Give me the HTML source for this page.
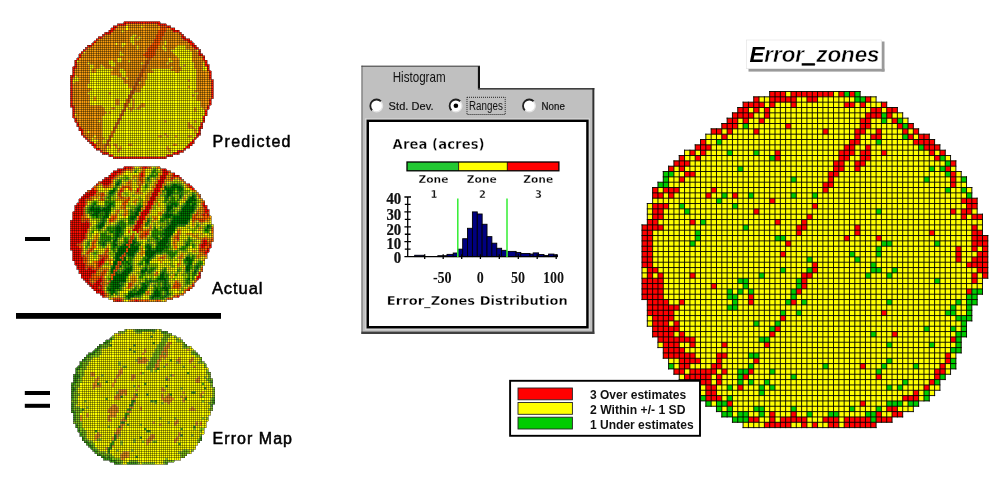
<!DOCTYPE html>
<html><head><meta charset="utf-8"><title>Error zones</title>
<style>html,body{margin:0;padding:0;background:#fff}body{width:1002px;height:487px;position:relative;overflow:hidden}</style></head>
<body>
<svg width="1002" height="487" viewBox="0 0 1002 487" style="position:absolute;left:0;top:0;display:block">
<rect width="1002" height="487" fill="#fff"/>
<defs><filter id="sb" x="-2%" y="-2%" width="104%" height="104%"><feGaussianBlur stdDeviation="0.55"/></filter></defs>
<g filter="url(#sb)">
<path d="M125.89 25.79H128.09V28H125.89ZM140.83 25.79H143.03V28H140.83ZM125.89 27.94H128.09V30.14H125.89ZM121.62 30.08H123.82V32.29H121.62ZM132.3 34.37H136.62V36.58H132.3ZM130.16 36.52H134.49V38.72H130.16ZM138.7 36.52H140.89V38.72H138.7ZM130.16 38.66H134.49V40.87H130.16ZM136.56 38.66H138.76V40.87H136.56ZM130.16 40.81H134.49V43.01H130.16ZM164.31 40.81H166.5V43.01H164.31ZM115.22 42.95H117.42V45.16H115.22ZM121.62 42.95H125.95V45.16H121.62ZM132.3 42.95H134.49V45.16H132.3ZM164.31 42.95H166.5V45.16H164.31ZM121.62 45.1H123.82V47.3H121.62ZM136.56 45.1H138.76V47.3H136.56ZM162.18 45.1H164.37V47.3H162.18ZM177.12 45.1H185.71V47.3H177.12ZM136.56 47.24H138.76V49.45H136.56ZM162.18 47.24H166.5V49.45H162.18ZM174.98 47.24H185.71V49.45H174.98ZM164.31 49.39H166.5V51.59H164.31ZM170.71 49.39H189.98V51.59H170.71ZM196.33 49.39H198.52V51.59H196.33ZM83.21 51.53H85.4V53.74H83.21ZM119.49 51.53H121.68V53.74H119.49ZM172.85 51.53H192.12V53.74H172.85ZM119.49 53.68H123.82V55.89H119.49ZM174.98 53.68H192.12V55.89H174.98ZM177.12 55.83H192.12V58.03H177.12ZM117.36 57.97H121.68V60.18H117.36ZM168.58 57.97H170.77V60.18H168.58ZM179.25 57.97H192.12V60.18H179.25ZM76.8 60.12H79V62.32H76.8ZM108.82 60.12H113.15V62.32H108.82ZM117.36 60.12H121.68V62.32H117.36ZM128.03 60.12H130.22V62.32H128.03ZM168.58 60.12H172.91V62.32H168.58ZM179.25 60.12H192.12V62.32H179.25ZM87.47 62.26H89.67V64.47H87.47ZM108.82 62.26H115.28V64.47H108.82ZM140.83 62.26H143.03V64.47H140.83ZM166.44 62.26H168.64V64.47H166.44ZM179.25 62.26H194.25V64.47H179.25ZM202.73 62.26H204.92V64.47H202.73ZM89.61 64.41H93.94V66.61H89.61ZM100.28 64.41H102.47V66.61H100.28ZM110.95 64.41H115.28V66.61H110.95ZM179.25 64.41H183.58V66.61H179.25ZM185.65 64.41H194.25V66.61H185.65ZM202.73 64.41H204.92V66.61H202.73ZM89.61 66.55H93.94V68.76H89.61ZM100.28 66.55H104.61V68.76H100.28ZM170.71 66.55H172.91V68.76H170.71ZM181.39 66.55H194.25V68.76H181.39ZM202.73 66.55H207.06V68.76H202.73ZM89.61 68.7H91.8V70.9H89.61ZM96.01 68.7H113.15V70.9H96.01ZM119.49 68.7H123.82V70.9H119.49ZM151.5 68.7H170.77V70.9H151.5ZM181.39 68.7H196.39V70.9H181.39ZM202.73 68.7H207.06V70.9H202.73ZM89.61 70.84H91.8V73.05H89.61ZM96.01 70.84H111.01V73.05H96.01ZM119.49 70.84H125.95V73.05H119.49ZM153.64 70.84H175.04V73.05H153.64ZM179.25 70.84H196.39V73.05H179.25ZM89.61 72.99H111.01V75.19H89.61ZM121.62 72.99H125.95V75.19H121.62ZM147.24 72.99H196.39V75.19H147.24ZM74.67 75.13H76.86V77.34H74.67ZM89.61 75.13H117.42V77.34H89.61ZM121.62 75.13H125.95V77.34H121.62ZM147.24 75.13H196.39V77.34H147.24ZM74.67 77.28H79V79.48H74.67ZM89.61 77.28H121.68V79.48H89.61ZM125.89 77.28H128.09V79.48H125.89ZM147.24 77.28H196.39V79.48H147.24ZM72.53 79.42H79V81.63H72.53ZM89.61 79.42H123.82V81.63H89.61ZM145.1 79.42H187.85V81.63H145.1ZM189.92 79.42H196.39V81.63H189.92ZM72.53 81.57H74.73V83.77H72.53ZM89.61 81.57H123.82V83.77H89.61ZM138.7 81.57H140.89V83.77H138.7ZM145.1 81.57H196.39V83.77H145.1ZM87.47 83.71H128.09V85.92H87.47ZM145.1 83.71H196.39V85.92H145.1ZM87.47 85.86H128.09V88.06H87.47ZM142.97 85.86H187.85V88.06H142.97ZM189.92 85.86H196.39V88.06H189.92ZM91.74 88H132.36V90.21H91.74ZM140.83 88H196.39V90.21H140.83ZM89.61 90.15H130.22V92.36H89.61ZM140.83 90.15H194.25V92.36H140.83ZM87.47 92.3H108.88V94.5H87.47ZM110.95 92.3H130.22V94.5H110.95ZM134.43 92.3H198.52V94.5H134.43ZM89.61 94.44H128.09V96.65H89.61ZM132.3 94.44H192.12V96.65H132.3ZM194.19 94.44H196.39V96.65H194.19ZM89.61 96.59H93.94V98.79H89.61ZM96.01 96.59H128.09V98.79H96.01ZM132.3 96.59H196.39V98.79H132.3ZM89.61 98.73H93.94V100.94H89.61ZM96.01 98.73H115.28V100.94H96.01ZM119.49 98.73H125.95V100.94H119.49ZM130.16 98.73H132.36V100.94H130.16ZM134.43 98.73H196.39V100.94H134.43ZM89.61 100.88H115.28V103.08H89.61ZM119.49 100.88H125.95V103.08H119.49ZM130.16 100.88H132.36V103.08H130.16ZM134.43 100.88H200.65V103.08H134.43ZM89.61 103.02H115.28V105.23H89.61ZM119.49 103.02H123.82V105.23H119.49ZM128.03 103.02H132.36V105.23H128.03ZM134.43 103.02H140.89V105.23H134.43ZM145.1 103.02H200.65V105.23H145.1ZM102.41 105.17H123.82V107.37H102.41ZM128.03 105.17H132.36V107.37H128.03ZM134.43 105.17H138.76V107.37H134.43ZM145.1 105.17H200.65V107.37H145.1ZM104.55 107.31H111.01V109.52H104.55ZM115.22 107.31H123.82V109.52H115.22ZM125.89 107.31H128.09V109.52H125.89ZM134.43 107.31H136.62V109.52H134.43ZM140.83 107.31H194.25V109.52H140.83ZM196.33 107.31H202.79V109.52H196.33ZM104.55 109.46H121.68V111.66H104.55ZM125.89 109.46H130.22V111.66H125.89ZM132.3 109.46H194.25V111.66H132.3ZM196.33 109.46H204.92V111.66H196.33ZM106.68 111.6H108.88V113.81H106.68ZM110.95 111.6H121.68V113.81H110.95ZM123.76 111.6H204.92V113.81H123.76ZM74.67 113.75H76.86V115.95H74.67ZM104.55 113.75H119.55V115.95H104.55ZM123.76 113.75H204.92V115.95H123.76ZM102.41 115.89H119.55V118.1H102.41ZM121.62 115.89H202.79V118.1H121.62ZM102.41 118.04H117.42V120.24H102.41ZM121.62 118.04H202.79V120.24H121.62ZM98.15 120.18H100.34V122.39H98.15ZM102.41 120.18H117.42V122.39H102.41ZM119.49 120.18H164.37V122.39H119.49ZM166.44 120.18H194.25V122.39H166.44ZM196.33 120.18H202.79V122.39H196.33ZM102.41 122.33H115.28V124.54H102.41ZM119.49 122.33H187.85V124.54H119.49ZM189.92 122.33H200.65V124.54H189.92ZM102.41 124.48H115.28V126.68H102.41ZM117.36 124.48H187.85V126.68H117.36ZM192.06 124.48H200.65V126.68H192.06ZM102.41 126.62H113.15V128.83H102.41ZM117.36 126.62H187.85V128.83H117.36ZM194.19 126.62H198.52V128.83H194.19ZM102.41 128.77H113.15V130.97H102.41ZM115.22 128.77H194.25V130.97H115.22ZM196.33 128.77H198.52V130.97H196.33ZM87.47 130.91H89.67V133.12H87.47ZM102.41 130.91H111.01V133.12H102.41ZM115.22 130.91H194.25V133.12H115.22ZM196.33 130.91H198.52V133.12H196.33ZM102.41 133.06H111.01V135.26H102.41ZM113.09 133.06H164.37V135.26H113.09ZM166.44 133.06H196.39V135.26H166.44ZM93.88 135.2H96.07V137.41H93.88ZM102.41 135.2H108.88V137.41H102.41ZM113.09 135.2H157.97V137.41H113.09ZM162.18 135.2H166.5V137.41H162.18ZM168.58 135.2H175.04V137.41H168.58ZM177.12 135.2H187.85V137.41H177.12ZM192.06 135.2H196.39V137.41H192.06ZM91.74 137.35H93.94V139.55H91.74ZM104.55 137.35H108.88V139.55H104.55ZM110.95 137.35H194.25V139.55H110.95ZM91.74 139.49H98.21V141.7H91.74ZM102.41 139.49H106.74V141.7H102.41ZM110.95 139.49H192.12V141.7H110.95ZM93.88 141.64H96.07V143.84H93.88ZM102.41 141.64H106.74V143.84H102.41ZM108.82 141.64H189.98V143.84H108.82ZM110.95 143.78H113.15V145.99H110.95ZM117.36 143.78H128.09V145.99H117.36ZM132.3 143.78H172.91V145.99H132.3ZM177.12 143.78H187.85V145.99H177.12ZM106.68 145.93H108.88V148.13H106.68ZM110.95 145.93H115.28V148.13H110.95ZM117.36 145.93H119.55V148.13H117.36ZM121.62 145.93H166.5V148.13H121.62ZM168.58 145.93H185.71V148.13H168.58ZM106.68 148.07H117.42V150.28H106.68ZM121.62 148.07H166.5V150.28H121.62ZM170.71 148.07H183.58V150.28H170.71ZM106.68 150.22H117.42V152.42H106.68ZM119.49 150.22H168.64V152.42H119.49ZM170.71 150.22H177.18V152.42H170.71ZM108.82 152.36H172.91V154.57H108.82ZM113.09 154.51H166.5V156.71H113.09Z" fill="#ffff00"/>
<path d="M125.89 23.65H157.97V25.85H125.89ZM117.36 25.79H125.95V28H117.36ZM128.03 25.79H140.89V28H128.03ZM142.97 25.79H160.1V28H142.97ZM115.22 27.94H125.95V30.14H115.22ZM128.03 27.94H160.1V30.14H128.03ZM166.44 27.94H170.77V30.14H166.44ZM113.09 30.08H121.68V32.29H113.09ZM123.76 30.08H157.97V32.29H123.76ZM166.44 30.08H172.91V32.29H166.44ZM110.95 32.23H157.97V34.43H110.95ZM164.31 32.23H179.31V34.43H164.31ZM104.55 34.37H132.36V36.58H104.55ZM136.56 34.37H155.83V36.58H136.56ZM164.31 34.37H181.45V36.58H164.31ZM102.41 36.52H130.22V38.72H102.41ZM134.43 36.52H138.76V38.72H134.43ZM140.83 36.52H155.83V38.72H140.83ZM162.18 36.52H181.45V38.72H162.18ZM98.15 38.66H130.22V40.87H98.15ZM134.43 38.66H136.62V40.87H134.43ZM138.7 38.66H153.7V40.87H138.7ZM162.18 38.66H183.58V40.87H162.18ZM96.01 40.81H130.22V43.01H96.01ZM134.43 40.81H153.7V43.01H134.43ZM160.04 40.81H164.37V43.01H160.04ZM166.44 40.81H187.85V43.01H166.44ZM93.88 42.95H115.28V45.16H93.88ZM117.36 42.95H121.68V45.16H117.36ZM125.89 42.95H132.36V45.16H125.89ZM134.43 42.95H151.56V45.16H134.43ZM160.04 42.95H164.37V45.16H160.04ZM166.44 42.95H189.98V45.16H166.44ZM91.74 45.1H121.68V47.3H91.74ZM123.76 45.1H136.62V47.3H123.76ZM138.7 45.1H149.43V47.3H138.7ZM157.91 45.1H162.24V47.3H157.91ZM164.31 45.1H177.18V47.3H164.31ZM185.65 45.1H192.12V47.3H185.65ZM87.47 47.24H136.62V49.45H87.47ZM138.7 47.24H147.3V49.45H138.7ZM157.91 47.24H162.24V49.45H157.91ZM166.44 47.24H175.04V49.45H166.44ZM185.65 47.24H194.25V49.45H185.65ZM85.34 49.39H147.3V51.59H85.34ZM155.77 49.39H164.37V51.59H155.77ZM166.44 49.39H170.77V51.59H166.44ZM189.92 49.39H196.39V51.59H189.92ZM85.34 51.53H119.55V53.74H85.34ZM121.62 51.53H145.16V53.74H121.62ZM155.77 51.53H172.91V53.74H155.77ZM192.06 51.53H198.52V53.74H192.06ZM81.07 53.68H119.55V55.89H81.07ZM123.76 53.68H143.03V55.89H123.76ZM155.77 53.68H175.04V55.89H155.77ZM192.06 53.68H198.52V55.89H192.06ZM81.07 55.83H145.16V58.03H81.07ZM153.64 55.83H177.18V58.03H153.64ZM192.06 55.83H202.79V58.03H192.06ZM78.94 57.97H117.42V60.18H78.94ZM121.62 57.97H147.3V60.18H121.62ZM151.5 57.97H168.64V60.18H151.5ZM170.71 57.97H179.31V60.18H170.71ZM192.06 57.97H202.79V60.18H192.06ZM78.94 60.12H108.88V62.32H78.94ZM113.09 60.12H117.42V62.32H113.09ZM121.62 60.12H128.09V62.32H121.62ZM130.16 60.12H145.16V62.32H130.16ZM149.37 60.12H168.64V62.32H149.37ZM172.85 60.12H179.31V62.32H172.85ZM192.06 60.12H204.92V62.32H192.06ZM76.8 62.26H87.53V64.47H76.8ZM89.61 62.26H108.88V64.47H89.61ZM115.22 62.26H140.89V64.47H115.22ZM142.97 62.26H145.16V64.47H142.97ZM149.37 62.26H166.5V64.47H149.37ZM168.58 62.26H179.31V64.47H168.58ZM194.19 62.26H202.79V64.47H194.19ZM76.8 64.41H89.67V66.61H76.8ZM93.88 64.41H100.34V66.61H93.88ZM102.41 64.41H111.01V66.61H102.41ZM115.22 64.41H143.03V66.61H115.22ZM147.24 64.41H179.31V66.61H147.24ZM183.52 64.41H185.71V66.61H183.52ZM194.19 64.41H202.79V66.61H194.19ZM76.8 66.55H89.67V68.76H76.8ZM93.88 66.55H100.34V68.76H93.88ZM104.55 66.55H143.03V68.76H104.55ZM147.24 66.55H170.77V68.76H147.24ZM172.85 66.55H181.45V68.76H172.85ZM194.19 66.55H202.79V68.76H194.19ZM74.67 68.7H89.67V70.9H74.67ZM91.74 68.7H96.07V70.9H91.74ZM113.09 68.7H119.55V70.9H113.09ZM123.76 68.7H140.89V70.9H123.76ZM145.1 68.7H151.56V70.9H145.1ZM170.71 68.7H181.45V70.9H170.71ZM196.33 68.7H202.79V70.9H196.33ZM74.67 70.84H89.67V73.05H74.67ZM91.74 70.84H96.07V73.05H91.74ZM110.95 70.84H119.55V73.05H110.95ZM125.89 70.84H140.89V73.05H125.89ZM145.1 70.84H153.7V73.05H145.1ZM174.98 70.84H179.31V73.05H174.98ZM196.33 70.84H209.19V73.05H196.33ZM74.67 72.99H89.67V75.19H74.67ZM110.95 72.99H121.68V75.19H110.95ZM125.89 72.99H138.76V75.19H125.89ZM142.97 72.99H147.3V75.19H142.97ZM196.33 72.99H209.19V75.19H196.33ZM76.8 75.13H89.67V77.34H76.8ZM117.36 75.13H121.68V77.34H117.36ZM125.89 75.13H138.76V77.34H125.89ZM142.97 75.13H147.3V77.34H142.97ZM196.33 75.13H209.19V77.34H196.33ZM72.53 77.28H74.73V79.48H72.53ZM78.94 77.28H89.67V79.48H78.94ZM121.62 77.28H125.95V79.48H121.62ZM128.03 77.28H136.62V79.48H128.03ZM140.83 77.28H147.3V79.48H140.83ZM196.33 77.28H209.19V79.48H196.33ZM78.94 79.42H89.67V81.63H78.94ZM123.76 79.42H136.62V81.63H123.76ZM140.83 79.42H145.16V81.63H140.83ZM187.79 79.42H189.98V81.63H187.79ZM196.33 79.42H211.33V81.63H196.33ZM74.67 81.57H89.67V83.77H74.67ZM123.76 81.57H134.49V83.77H123.76ZM140.83 81.57H145.16V83.77H140.83ZM196.33 81.57H211.33V83.77H196.33ZM72.53 83.71H87.53V85.92H72.53ZM128.03 83.71H134.49V85.92H128.03ZM138.7 83.71H145.16V85.92H138.7ZM196.33 83.71H211.33V85.92H196.33ZM72.53 85.86H87.53V88.06H72.53ZM128.03 85.86H132.36V88.06H128.03ZM136.56 85.86H143.03V88.06H136.56ZM187.79 85.86H189.98V88.06H187.79ZM196.33 85.86H211.33V88.06H196.33ZM72.53 88H91.8V90.21H72.53ZM136.56 88H140.89V90.21H136.56ZM196.33 88H211.33V90.21H196.33ZM72.53 90.15H89.67V92.36H72.53ZM134.43 90.15H140.89V92.36H134.43ZM194.19 90.15H211.33V92.36H194.19ZM72.53 92.3H87.53V94.5H72.53ZM108.82 92.3H111.01V94.5H108.82ZM198.46 92.3H211.33V94.5H198.46ZM72.53 94.44H89.67V96.65H72.53ZM192.06 94.44H194.25V96.65H192.06ZM196.33 94.44H211.33V96.65H196.33ZM72.53 96.59H89.67V98.79H72.53ZM93.88 96.59H96.07V98.79H93.88ZM196.33 96.59H211.33V98.79H196.33ZM72.53 98.73H89.67V100.94H72.53ZM93.88 98.73H96.07V100.94H93.88ZM115.22 98.73H119.55V100.94H115.22ZM132.3 98.73H134.49V100.94H132.3ZM196.33 98.73H209.19V100.94H196.33ZM72.53 100.88H89.67V103.08H72.53ZM115.22 100.88H119.55V103.08H115.22ZM132.3 100.88H134.49V103.08H132.3ZM200.59 100.88H209.19V103.08H200.59ZM72.53 103.02H89.67V105.23H72.53ZM115.22 103.02H119.55V105.23H115.22ZM132.3 103.02H134.49V105.23H132.3ZM140.83 103.02H145.16V105.23H140.83ZM200.59 103.02H209.19V105.23H200.59ZM74.67 105.17H102.47V107.37H74.67ZM132.3 105.17H134.49V107.37H132.3ZM138.7 105.17H145.16V107.37H138.7ZM200.59 105.17H207.06V107.37H200.59ZM74.67 107.31H104.61V109.52H74.67ZM110.95 107.31H115.28V109.52H110.95ZM128.03 107.31H134.49V109.52H128.03ZM136.56 107.31H140.89V109.52H136.56ZM194.19 107.31H196.39V109.52H194.19ZM202.73 107.31H207.06V109.52H202.73ZM74.67 109.46H104.61V111.66H74.67ZM130.16 109.46H132.36V111.66H130.16ZM194.19 109.46H196.39V111.66H194.19ZM74.67 111.6H106.74V113.81H74.67ZM108.82 111.6H111.01V113.81H108.82ZM76.8 113.75H104.61V115.95H76.8ZM74.67 115.89H102.47V118.1H74.67ZM76.8 118.04H102.47V120.24H76.8ZM76.8 120.18H98.21V122.39H76.8ZM100.28 120.18H102.47V122.39H100.28ZM164.31 120.18H166.5V122.39H164.31ZM194.19 120.18H196.39V122.39H194.19ZM78.94 122.33H102.47V124.54H78.94ZM187.79 122.33H189.98V124.54H187.79ZM78.94 124.48H102.47V126.68H78.94ZM187.79 124.48H192.12V126.68H187.79ZM81.07 126.62H102.47V128.83H81.07ZM187.79 126.62H194.25V128.83H187.79ZM83.21 128.77H102.47V130.97H83.21ZM194.19 128.77H196.39V130.97H194.19ZM83.21 130.91H87.53V133.12H83.21ZM89.61 130.91H102.47V133.12H89.61ZM194.19 130.91H196.39V133.12H194.19ZM83.21 133.06H102.47V135.26H83.21ZM164.31 133.06H166.5V135.26H164.31ZM85.34 135.2H93.94V137.41H85.34ZM96.01 135.2H102.47V137.41H96.01ZM157.91 135.2H162.24V137.41H157.91ZM166.44 135.2H168.64V137.41H166.44ZM174.98 135.2H177.18V137.41H174.98ZM187.79 135.2H192.12V137.41H187.79ZM87.47 137.35H91.8V139.55H87.47ZM93.88 137.35H104.61V139.55H93.88ZM89.61 139.49H91.8V141.7H89.61ZM98.15 139.49H102.47V141.7H98.15ZM96.01 141.64H102.47V143.84H96.01ZM96.01 143.78H104.61V145.99H96.01ZM108.82 143.78H111.01V145.99H108.82ZM113.09 143.78H117.42V145.99H113.09ZM128.03 143.78H132.36V145.99H128.03ZM172.85 143.78H177.18V145.99H172.85ZM96.01 145.93H104.61V148.13H96.01ZM108.82 145.93H111.01V148.13H108.82ZM115.22 145.93H117.42V148.13H115.22ZM119.49 145.93H121.68V148.13H119.49ZM166.44 145.93H168.64V148.13H166.44ZM100.28 148.07H106.74V150.28H100.28ZM117.36 148.07H121.68V150.28H117.36ZM166.44 148.07H170.77V150.28H166.44ZM102.41 150.22H106.74V152.42H102.41ZM117.36 150.22H119.55V152.42H117.36ZM168.58 150.22H170.77V152.42H168.58Z" fill="#f89c08"/>
<path d="M160.04 25.79H166.5V28H160.04ZM160.04 27.94H166.5V30.14H160.04ZM157.91 30.08H166.5V32.29H157.91ZM157.91 32.23H164.37V34.43H157.91ZM155.77 34.37H164.37V36.58H155.77ZM155.77 36.52H162.24V38.72H155.77ZM153.64 38.66H162.24V40.87H153.64ZM153.64 40.81H160.1V43.01H153.64ZM151.5 42.95H160.1V45.16H151.5ZM149.37 45.1H157.97V47.3H149.37ZM147.24 47.24H157.97V49.45H147.24ZM147.24 49.39H155.83V51.59H147.24ZM145.1 51.53H155.83V53.74H145.1ZM142.97 53.68H155.83V55.89H142.97ZM145.1 55.83H153.7V58.03H145.1Z" fill="#ff5a00"/>
<path d="M147.24 57.97H151.56V60.18H147.24ZM145.1 60.12H149.43V62.32H145.1ZM145.1 62.26H149.43V64.47H145.1ZM142.97 64.41H147.3V66.61H142.97ZM142.97 66.55H147.3V68.76H142.97ZM140.83 68.7H145.16V70.9H140.83ZM140.83 70.84H145.16V73.05H140.83ZM138.7 72.99H143.03V75.19H138.7ZM138.7 75.13H143.03V77.34H138.7ZM136.56 77.28H140.89V79.48H136.56ZM136.56 79.42H140.89V81.63H136.56ZM134.43 81.57H138.76V83.77H134.43ZM134.43 83.71H138.76V85.92H134.43ZM132.3 85.86H136.62V88.06H132.3ZM132.3 88H136.62V90.21H132.3ZM130.16 90.15H134.49V92.36H130.16ZM130.16 92.3H134.49V94.5H130.16ZM128.03 94.44H132.36V96.65H128.03ZM128.03 96.59H132.36V98.79H128.03ZM125.89 98.73H130.22V100.94H125.89ZM125.89 100.88H130.22V103.08H125.89ZM123.76 103.02H128.09V105.23H123.76ZM123.76 105.17H128.09V107.37H123.76ZM123.76 107.31H125.95V109.52H123.76ZM121.62 109.46H125.95V111.66H121.62ZM121.62 111.6H123.82V113.81H121.62ZM119.49 113.75H123.82V115.95H119.49ZM119.49 115.89H121.68V118.1H119.49ZM117.36 118.04H121.68V120.24H117.36ZM117.36 120.18H119.55V122.39H117.36ZM115.22 122.33H119.55V124.54H115.22ZM115.22 124.48H117.42V126.68H115.22ZM113.09 126.62H117.42V128.83H113.09ZM113.09 128.77H115.28V130.97H113.09ZM110.95 130.91H115.28V133.12H110.95ZM110.95 133.06H113.15V135.26H110.95ZM108.82 135.2H113.15V137.41H108.82ZM108.82 137.35H111.01V139.55H108.82ZM106.68 139.49H111.01V141.7H106.68ZM106.68 141.64H108.88V143.84H106.68ZM104.55 143.78H108.88V145.99H104.55ZM104.55 145.93H106.74V148.13H104.55Z" fill="#d86a10"/>
<path d="M123.76 21.5H160.1V23.71H123.76ZM117.36 23.65H125.95V25.85H117.36ZM157.91 23.65H166.5V25.85H157.91ZM113.09 25.79H117.42V28H113.09ZM166.44 25.79H170.77V28H166.44ZM110.95 27.94H115.28V30.14H110.95ZM170.71 27.94H175.04V30.14H170.71ZM108.82 30.08H113.15V32.29H108.82ZM172.85 30.08H179.31V32.29H172.85ZM104.55 32.23H111.01V34.43H104.55ZM179.25 32.23H181.45V34.43H179.25ZM102.41 34.37H104.61V36.58H102.41ZM181.39 34.37H183.58V36.58H181.39ZM98.15 36.52H102.47V38.72H98.15ZM181.39 36.52H185.71V38.72H181.39ZM96.01 38.66H98.21V40.87H96.01ZM183.52 38.66H189.98V40.87H183.52ZM93.88 40.81H96.07V43.01H93.88ZM187.79 40.81H192.12V43.01H187.79ZM91.74 42.95H93.94V45.16H91.74ZM189.92 42.95H194.25V45.16H189.92ZM87.47 45.1H91.8V47.3H87.47ZM192.06 45.1H196.39V47.3H192.06ZM85.34 47.24H87.53V49.45H85.34ZM194.19 47.24H198.52V49.45H194.19ZM83.21 49.39H85.4V51.59H83.21ZM198.46 49.39H200.65V51.59H198.46ZM81.07 51.53H83.27V53.74H81.07ZM198.46 51.53H200.65V53.74H198.46ZM78.94 53.68H81.13V55.89H78.94ZM198.46 53.68H202.79V55.89H198.46ZM78.94 55.83H81.13V58.03H78.94ZM202.73 55.83H204.92V58.03H202.73ZM76.8 57.97H79V60.18H76.8ZM202.73 57.97H204.92V60.18H202.73ZM74.67 60.12H76.86V62.32H74.67ZM204.86 60.12H207.06V62.32H204.86ZM74.67 62.26H76.86V64.47H74.67ZM204.86 62.26H207.06V64.47H204.86ZM74.67 64.41H76.86V66.61H74.67ZM204.86 64.41H209.19V66.61H204.86ZM72.53 66.55H76.86V68.76H72.53ZM207 66.55H209.19V68.76H207ZM72.53 68.7H74.73V70.9H72.53ZM207 68.7H209.19V70.9H207ZM72.53 70.84H74.73V73.05H72.53ZM209.13 70.84H211.33V73.05H209.13ZM72.53 72.99H74.73V75.19H72.53ZM209.13 72.99H211.33V75.19H209.13ZM70.4 75.13H74.73V77.34H70.4ZM209.13 75.13H211.33V77.34H209.13ZM70.4 77.28H72.59V79.48H70.4ZM209.13 77.28H211.33V79.48H209.13ZM70.4 79.42H72.59V81.63H70.4ZM211.27 79.42H213.46V81.63H211.27ZM70.4 81.57H72.59V83.77H70.4ZM211.27 81.57H213.46V83.77H211.27ZM70.4 83.71H72.59V85.92H70.4ZM211.27 83.71H213.46V85.92H211.27ZM70.4 85.86H72.59V88.06H70.4ZM211.27 85.86H213.46V88.06H211.27ZM70.4 88H72.59V90.21H70.4ZM211.27 88H213.46V90.21H211.27ZM70.4 90.15H72.59V92.36H70.4ZM211.27 90.15H213.46V92.36H211.27ZM70.4 92.3H72.59V94.5H70.4ZM211.27 92.3H213.46V94.5H211.27ZM70.4 94.44H72.59V96.65H70.4ZM211.27 94.44H213.46V96.65H211.27ZM70.4 96.59H72.59V98.79H70.4ZM211.27 96.59H213.46V98.79H211.27ZM70.4 98.73H72.59V100.94H70.4ZM209.13 98.73H211.33V100.94H209.13ZM70.4 100.88H72.59V103.08H70.4ZM209.13 100.88H211.33V103.08H209.13ZM70.4 103.02H72.59V105.23H70.4ZM209.13 103.02H211.33V105.23H209.13ZM70.4 105.17H74.73V107.37H70.4ZM207 105.17H209.19V107.37H207ZM72.53 107.31H74.73V109.52H72.53ZM207 107.31H209.19V109.52H207ZM72.53 109.46H74.73V111.66H72.53ZM204.86 109.46H207.06V111.66H204.86ZM72.53 111.6H74.73V113.81H72.53ZM204.86 111.6H207.06V113.81H204.86ZM72.53 113.75H74.73V115.95H72.53ZM204.86 113.75H207.06V115.95H204.86ZM72.53 115.89H74.73V118.1H72.53ZM202.73 115.89H204.92V118.1H202.73ZM74.67 118.04H76.86V120.24H74.67ZM202.73 118.04H204.92V120.24H202.73ZM74.67 120.18H76.86V122.39H74.67ZM202.73 120.18H204.92V122.39H202.73ZM76.8 122.33H79V124.54H76.8ZM200.59 122.33H202.79V124.54H200.59ZM76.8 124.48H79V126.68H76.8ZM200.59 124.48H202.79V126.68H200.59ZM78.94 126.62H81.13V128.83H78.94ZM198.46 126.62H202.79V128.83H198.46ZM78.94 128.77H83.27V130.97H78.94ZM198.46 128.77H200.65V130.97H198.46ZM81.07 130.91H83.27V133.12H81.07ZM198.46 130.91H200.65V133.12H198.46ZM81.07 133.06H83.27V135.26H81.07ZM196.33 133.06H200.65V135.26H196.33ZM83.21 135.2H85.4V137.41H83.21ZM196.33 135.2H198.52V137.41H196.33ZM85.34 137.35H87.53V139.55H85.34ZM194.19 137.35H196.39V139.55H194.19ZM87.47 139.49H89.67V141.7H87.47ZM192.06 139.49H194.25V141.7H192.06ZM89.61 141.64H93.94V143.84H89.61ZM189.92 141.64H194.25V143.84H189.92ZM91.74 143.78H96.07V145.99H91.74ZM187.79 143.78H192.12V145.99H187.79ZM93.88 145.93H96.07V148.13H93.88ZM185.65 145.93H189.98V148.13H185.65ZM96.01 148.07H100.34V150.28H96.01ZM183.52 148.07H185.71V150.28H183.52ZM100.28 150.22H102.47V152.42H100.28ZM177.12 150.22H183.58V152.42H177.12ZM102.41 152.36H108.88V154.57H102.41ZM172.85 152.36H179.31V154.57H172.85ZM108.82 154.51H113.15V156.71H108.82ZM166.44 154.51H172.91V156.71H166.44ZM113.09 156.65H166.5V158.86H113.09Z" fill="#ff1400"/>
</g>
<path d="M123.76 21.5H160.04M117.36 23.65H166.44M113.09 25.79H170.71M110.95 27.94H174.98M108.82 30.08H179.25M104.55 32.23H181.39M102.41 34.37H183.52M98.15 36.52H185.65M96.01 38.66H189.92M93.88 40.81H192.06M91.74 42.95H194.19M87.47 45.1H196.33M85.34 47.24H198.46M83.21 49.39H200.59M81.07 51.53H200.59M78.94 53.68H202.73M78.94 55.83H204.86M76.8 57.97H204.86M74.67 60.12H207M74.67 62.26H207M74.67 64.41H209.13M72.53 66.55H209.13M72.53 68.7H209.13M72.53 70.84H211.27M72.53 72.99H211.27M70.4 75.13H211.27M70.4 77.28H211.27M70.4 79.42H213.4M70.4 81.57H213.4M70.4 83.71H213.4M70.4 85.86H213.4M70.4 88H213.4M70.4 90.15H213.4M70.4 92.3H213.4M70.4 94.44H213.4M70.4 96.59H213.4M70.4 98.73H213.4M70.4 100.88H211.27M70.4 103.02H211.27M70.4 105.17H211.27M70.4 107.31H209.13M72.53 109.46H209.13M72.53 111.6H207M72.53 113.75H207M72.53 115.89H207M72.53 118.04H204.86M74.67 120.18H204.86M74.67 122.33H204.86M76.8 124.48H202.73M76.8 126.62H202.73M78.94 128.77H202.73M78.94 130.91H200.59M81.07 133.06H200.59M81.07 135.2H200.59M83.21 137.35H198.46M85.34 139.49H196.33M87.47 141.64H194.19M89.61 143.78H194.19M91.74 145.93H192.06M93.88 148.07H189.92M96.01 150.22H185.65M100.28 152.36H183.52M102.41 154.51H179.25M108.82 156.65H172.85M113.09 158.8H166.44M70.4 75.13V107.31M72.53 66.55V118.04M74.67 60.12V122.33M76.8 57.97V126.62M78.94 53.68V130.91M81.07 51.53V135.2M83.21 49.39V137.35M85.34 47.24V139.49M87.47 45.1V141.64M89.61 45.1V143.78M91.74 42.95V145.93M93.88 40.81V148.07M96.01 38.66V150.22M98.15 36.52V150.22M100.28 36.52V152.36M102.41 34.37V154.51M104.55 32.23V154.51M106.68 32.23V154.51M108.82 30.08V156.65M110.95 27.94V156.65M113.09 25.79V158.8M115.22 25.79V158.8M117.36 23.65V158.8M119.49 23.65V158.8M121.62 23.65V158.8M123.76 21.5V158.8M125.89 21.5V158.8M128.03 21.5V158.8M130.16 21.5V158.8M132.3 21.5V158.8M134.43 21.5V158.8M136.56 21.5V158.8M138.7 21.5V158.8M140.83 21.5V158.8M142.97 21.5V158.8M145.1 21.5V158.8M147.24 21.5V158.8M149.37 21.5V158.8M151.5 21.5V158.8M153.64 21.5V158.8M155.77 21.5V158.8M157.91 21.5V158.8M160.04 21.5V158.8M162.18 23.65V158.8M164.31 23.65V158.8M166.44 23.65V158.8M168.58 25.79V156.65M170.71 25.79V156.65M172.85 27.94V156.65M174.98 27.94V154.51M177.12 30.08V154.51M179.25 30.08V154.51M181.39 32.23V152.36M183.52 34.37V152.36M185.65 36.52V150.22M187.79 38.66V148.07M189.92 38.66V148.07M192.06 40.81V145.93M194.19 42.95V143.78M196.33 45.1V139.49M198.46 47.24V137.35M200.59 49.39V135.2M202.73 53.68V128.77M204.86 55.83V122.33M207 60.12V115.89M209.13 64.41V109.46M211.27 70.84V105.17M213.4 79.42V98.73" fill="none" stroke="#000" stroke-opacity="0.42" stroke-width="0.85" shape-rendering="crispEdges"/>
<g filter="url(#sb)">
<path d="M123.76 166.5H132.36V168.71H123.76ZM142.97 166.5H147.3V168.71H142.97ZM117.36 168.65H125.95V170.85H117.36ZM162.18 168.65H166.5V170.85H162.18ZM113.09 170.79H121.68V173H113.09ZM162.18 170.79H168.64V173H162.18ZM110.95 172.94H117.42V175.14H110.95ZM140.83 172.94H143.03V175.14H140.83ZM162.18 172.94H168.64V175.14H162.18ZM172.85 172.94H175.04V175.14H172.85ZM108.82 175.08H115.28V177.29H108.82ZM140.83 175.08H143.03V177.29H140.83ZM160.04 175.08H166.5V177.29H160.04ZM172.85 175.08H179.31V177.29H172.85ZM104.55 177.23H113.15V179.44H104.55ZM160.04 177.23H166.5V179.44H160.04ZM170.71 177.23H172.91V179.44H170.71ZM179.25 177.23H181.45V179.44H179.25ZM102.41 179.38H111.01V181.58H102.41ZM157.91 179.38H164.37V181.58H157.91ZM100.28 181.52H111.01V183.73H100.28ZM157.91 181.52H164.37V183.73H157.91ZM96.01 183.67H98.21V185.87H96.01ZM102.41 183.67H108.88V185.87H102.41ZM155.77 183.67H162.24V185.87H155.77ZM187.79 183.67H189.98V185.87H187.79ZM155.77 185.81H162.24V188.02H155.77ZM189.92 185.81H192.12V188.02H189.92ZM91.74 187.96H93.94V190.17H91.74ZM136.56 187.96H138.76V190.17H136.56ZM153.64 187.96H160.1V190.17H153.64ZM192.06 187.96H194.25V190.17H192.06ZM89.61 190.11H96.07V192.31H89.61ZM119.49 190.11H121.68V192.31H119.49ZM136.56 190.11H138.76V192.31H136.56ZM153.64 190.11H160.1V192.31H153.64ZM85.34 192.25H96.07V194.46H85.34ZM151.5 192.25H157.97V194.46H151.5ZM83.21 194.4H93.94V196.6H83.21ZM151.5 194.4H157.97V196.6H151.5ZM81.07 196.54H89.67V198.75H81.07ZM149.37 196.54H155.83V198.75H149.37ZM78.94 198.69H85.4V200.9H78.94ZM149.37 198.69H155.83V200.9H149.37ZM78.94 200.84H85.4V203.04H78.94ZM147.24 200.84H153.7V203.04H147.24ZM76.8 202.98H85.4V205.19H76.8ZM147.24 202.98H153.7V205.19H147.24ZM202.73 202.98H204.92V205.19H202.73ZM74.67 205.13H85.4V207.33H74.67ZM145.1 205.13H151.56V207.33H145.1ZM202.73 205.13H207.06V207.33H202.73ZM74.67 207.27H83.27V209.48H74.67ZM145.1 207.27H151.56V209.48H145.1ZM204.86 207.27H207.06V209.48H204.86ZM74.67 209.42H83.27V211.63H74.67ZM142.97 209.42H149.43V211.63H142.97ZM204.86 209.42H209.19V211.63H204.86ZM72.53 211.57H83.27V213.77H72.53ZM140.83 211.57H149.43V213.77H140.83ZM204.86 211.57H207.06V213.77H204.86ZM72.53 213.71H83.27V215.92H72.53ZM140.83 213.71H147.3V215.92H140.83ZM202.73 213.71H204.92V215.92H202.73ZM207 213.71H209.19V215.92H207ZM72.53 215.86H81.13V218.06H72.53ZM138.7 215.86H145.16V218.06H138.7ZM72.53 218H81.13V220.21H72.53ZM138.7 218H145.16V220.21H138.7ZM70.4 220.15H81.13V222.36H70.4ZM85.34 220.15H87.53V222.36H85.34ZM136.56 220.15H143.03V222.36H136.56ZM70.4 222.3H89.67V224.5H70.4ZM136.56 222.3H143.03V224.5H136.56ZM70.4 224.44H89.67V226.65H70.4ZM134.43 224.44H140.89V226.65H134.43ZM70.4 226.59H89.67V228.79H70.4ZM134.43 226.59H140.89V228.79H134.43ZM70.4 228.73H87.53V230.94H70.4ZM132.3 228.73H138.76V230.94H132.3ZM70.4 230.88H87.53V233.09H70.4ZM136.56 230.88H138.76V233.09H136.56ZM70.4 233.03H85.4V235.23H70.4ZM145.1 233.03H147.3V235.23H145.1ZM70.4 235.17H85.4V237.38H70.4ZM70.4 237.32H85.4V239.53H70.4ZM177.12 237.32H179.31V239.53H177.12ZM70.4 239.47H83.27V241.67H70.4ZM202.73 239.47H207.06V241.67H202.73ZM70.4 241.61H81.13V243.82H70.4ZM202.73 241.61H207.06V243.82H202.73ZM70.4 243.76H76.86V245.96H70.4ZM200.59 243.76H207.06V245.96H200.59ZM209.13 243.76H211.33V245.96H209.13ZM70.4 245.9H79V248.11H70.4ZM200.59 245.9H204.92V248.11H200.59ZM209.13 245.9H211.33V248.11H209.13ZM70.4 248.05H81.13V250.26H70.4ZM207 248.05H209.19V250.26H207ZM72.53 250.2H81.13V252.4H72.53ZM204.86 250.2H209.19V252.4H204.86ZM72.53 252.34H81.13V254.55H72.53ZM204.86 252.34H207.06V254.55H204.86ZM72.53 254.49H81.13V256.69H72.53ZM72.53 256.63H83.27V258.84H72.53ZM102.41 256.63H104.61V258.84H102.41ZM72.53 258.78H83.27V260.99H72.53ZM100.28 258.78H104.61V260.99H100.28ZM74.67 260.93H83.27V263.13H74.67ZM98.15 260.93H104.61V263.13H98.15ZM74.67 263.07H85.4V265.28H74.67ZM98.15 263.07H102.47V265.28H98.15ZM76.8 265.22H85.4V267.42H76.8ZM98.15 265.22H100.34V267.42H98.15ZM76.8 267.36H85.4V269.57H76.8ZM87.47 267.36H91.8V269.57H87.47ZM78.94 269.51H96.07V271.72H78.94ZM78.94 271.66H96.07V273.86H78.94ZM198.46 271.66H200.65V273.86H198.46ZM81.07 273.8H91.8V276.01H81.07ZM198.46 273.8H200.65V276.01H198.46ZM81.07 275.95H91.8V278.15H81.07ZM100.28 275.95H102.47V278.15H100.28ZM196.33 275.95H200.65V278.15H196.33ZM83.21 278.09H89.67V280.3H83.21ZM98.15 278.09H102.47V280.3H98.15ZM196.33 278.09H198.52V280.3H196.33ZM85.34 280.24H89.67V282.45H85.34ZM96.01 280.24H102.47V282.45H96.01ZM87.47 282.39H91.8V284.59H87.47ZM93.88 282.39H100.34V284.59H93.88ZM89.61 284.53H102.47V286.74H89.61ZM192.06 284.53H194.25V286.74H192.06ZM91.74 286.68H98.21V288.88H91.74ZM100.28 286.68H102.47V288.88H100.28ZM93.88 288.82H102.47V291.03H93.88ZM187.79 288.82H189.98V291.03H187.79ZM96.01 290.97H104.61V293.18H96.01ZM100.28 293.12H104.61V295.32H100.28ZM102.41 295.26H104.61V297.47H102.41ZM177.12 295.26H179.31V297.47H177.12ZM115.22 299.55H121.68V301.76H115.22ZM134.43 299.55H138.76V301.76H134.43Z" fill="#ff0a00"/>
<path d="M132.3 166.5H134.49V168.71H132.3ZM140.83 166.5H143.03V168.71H140.83ZM147.24 166.5H151.56V168.71H147.24ZM157.91 166.5H160.1V168.71H157.91ZM125.89 168.65H132.36V170.85H125.89ZM142.97 168.65H145.16V170.85H142.97ZM160.04 168.65H162.24V170.85H160.04ZM121.62 170.79H123.82V173H121.62ZM140.83 170.79H145.16V173H140.83ZM168.58 170.79H170.77V173H168.58ZM117.36 172.94H121.68V175.14H117.36ZM138.7 172.94H140.89V175.14H138.7ZM142.97 172.94H145.16V175.14H142.97ZM170.71 172.94H172.91V175.14H170.71ZM115.22 175.08H117.42V177.29H115.22ZM138.7 175.08H140.89V177.29H138.7ZM142.97 175.08H145.16V177.29H142.97ZM170.71 175.08H172.91V177.29H170.71ZM113.09 177.23H115.28V179.44H113.09ZM138.7 177.23H143.03V179.44H138.7ZM172.85 177.23H175.04V179.44H172.85ZM110.95 179.38H113.15V181.58H110.95ZM138.7 179.38H143.03V181.58H138.7ZM170.71 179.38H172.91V181.58H170.71ZM181.39 179.38H183.58V181.58H181.39ZM98.15 181.52H100.34V183.73H98.15ZM110.95 181.52H113.15V183.73H110.95ZM128.03 181.52H130.22V183.73H128.03ZM140.83 181.52H143.03V183.73H140.83ZM183.52 181.52H185.71V183.73H183.52ZM108.82 183.67H111.01V185.87H108.82ZM138.7 183.67H140.89V185.87H138.7ZM185.65 183.67H187.85V185.87H185.65ZM93.88 185.81H96.07V188.02H93.88ZM102.41 185.81H108.88V188.02H102.41ZM121.62 185.81H130.22V188.02H121.62ZM138.7 185.81H140.89V188.02H138.7ZM187.79 185.81H189.98V188.02H187.79ZM93.88 187.96H96.07V190.17H93.88ZM119.49 187.96H123.82V190.17H119.49ZM128.03 187.96H132.36V190.17H128.03ZM138.7 187.96H140.89V190.17H138.7ZM189.92 187.96H192.12V190.17H189.92ZM87.47 190.11H89.67V192.31H87.47ZM96.01 190.11H98.21V192.31H96.01ZM121.62 190.11H123.82V192.31H121.62ZM100.28 192.25H104.61V194.46H100.28ZM117.36 192.25H121.68V194.46H117.36ZM93.88 194.4H96.07V196.6H93.88ZM100.28 194.4H104.61V196.6H100.28ZM117.36 194.4H121.68V196.6H117.36ZM198.46 194.4H200.65V196.6H198.46ZM89.61 196.54H91.8V198.75H89.61ZM100.28 196.54H102.47V198.75H100.28ZM119.49 196.54H123.82V198.75H119.49ZM128.03 196.54H130.22V198.75H128.03ZM198.46 196.54H200.65V198.75H198.46ZM85.34 198.69H91.8V200.9H85.34ZM100.28 198.69H104.61V200.9H100.28ZM125.89 198.69H130.22V200.9H125.89ZM85.34 200.84H87.53V203.04H85.34ZM123.76 200.84H128.09V203.04H123.76ZM202.73 200.84H204.92V203.04H202.73ZM85.34 202.98H87.53V205.19H85.34ZM121.62 202.98H125.95V205.19H121.62ZM200.59 202.98H202.79V205.19H200.59ZM123.76 205.13H125.95V207.33H123.76ZM83.21 207.27H85.4V209.48H83.21ZM123.76 207.27H125.95V209.48H123.76ZM202.73 207.27H204.92V209.48H202.73ZM83.21 209.42H85.4V211.63H83.21ZM117.36 209.42H119.55V211.63H117.36ZM202.73 209.42H204.92V211.63H202.73ZM83.21 211.57H85.4V213.77H83.21ZM196.33 211.57H198.52V213.77H196.33ZM202.73 211.57H204.92V213.77H202.73ZM207 211.57H209.19V213.77H207ZM83.21 213.71H85.4V215.92H83.21ZM115.22 213.71H117.42V215.92H115.22ZM123.76 213.71H125.95V215.92H123.76ZM194.19 213.71H198.52V215.92H194.19ZM200.59 213.71H202.79V215.92H200.59ZM204.86 213.71H207.06V215.92H204.86ZM81.07 215.86H85.4V218.06H81.07ZM110.95 215.86H117.42V218.06H110.95ZM192.06 215.86H196.39V218.06H192.06ZM202.73 215.86H209.19V218.06H202.73ZM81.07 218H89.67V220.21H81.07ZM108.82 218H115.28V220.21H108.82ZM153.64 218H155.83V220.21H153.64ZM192.06 218H207.06V220.21H192.06ZM81.07 220.15H85.4V222.36H81.07ZM87.47 220.15H89.67V222.36H87.47ZM108.82 220.15H113.15V222.36H108.82ZM192.06 220.15H194.25V222.36H192.06ZM198.46 220.15H204.92V222.36H198.46ZM140.83 224.44H143.03V226.65H140.83ZM140.83 226.59H143.03V228.79H140.83ZM149.37 226.59H151.56V228.79H149.37ZM211.27 226.59H213.46V228.79H211.27ZM138.7 228.73H143.03V230.94H138.7ZM147.24 228.73H149.43V230.94H147.24ZM211.27 228.73H213.46V230.94H211.27ZM128.03 230.88H130.22V233.09H128.03ZM142.97 230.88H149.43V233.09H142.97ZM177.12 230.88H179.31V233.09H177.12ZM211.27 230.88H213.46V233.09H211.27ZM85.34 233.03H87.53V235.23H85.34ZM132.3 233.03H134.49V235.23H132.3ZM140.83 233.03H145.16V235.23H140.83ZM147.24 233.03H149.43V235.23H147.24ZM177.12 233.03H179.31V235.23H177.12ZM85.34 235.17H87.53V237.38H85.34ZM130.16 235.17H134.49V237.38H130.16ZM138.7 235.17H147.3V237.38H138.7ZM174.98 235.17H179.31V237.38H174.98ZM85.34 237.32H87.53V239.53H85.34ZM130.16 237.32H134.49V239.53H130.16ZM140.83 237.32H143.03V239.53H140.83ZM174.98 237.32H177.18V239.53H174.98ZM202.73 237.32H207.06V239.53H202.73ZM211.27 237.32H213.46V239.53H211.27ZM93.88 239.47H96.07V241.67H93.88ZM128.03 239.47H132.36V241.67H128.03ZM177.12 239.47H179.31V241.67H177.12ZM200.59 239.47H202.79V241.67H200.59ZM209.13 239.47H213.46V241.67H209.13ZM81.07 241.61H83.27V243.82H81.07ZM91.74 241.61H96.07V243.82H91.74ZM128.03 241.61H132.36V243.82H128.03ZM172.85 241.61H175.04V243.82H172.85ZM200.59 241.61H202.79V243.82H200.59ZM207 241.61H211.33V243.82H207ZM76.8 243.76H81.13V245.96H76.8ZM91.74 243.76H93.94V245.96H91.74ZM125.89 243.76H130.22V245.96H125.89ZM198.46 243.76H200.65V245.96H198.46ZM207 243.76H209.19V245.96H207ZM78.94 245.9H83.27V248.11H78.94ZM91.74 245.9H96.07V248.11H91.74ZM128.03 245.9H130.22V248.11H128.03ZM174.98 245.9H177.18V248.11H174.98ZM198.46 245.9H200.65V248.11H198.46ZM204.86 245.9H209.19V248.11H204.86ZM81.07 248.05H83.27V250.26H81.07ZM89.61 248.05H93.94V250.26H89.61ZM106.68 248.05H108.88V250.26H106.68ZM125.89 248.05H128.09V250.26H125.89ZM198.46 248.05H207.06V250.26H198.46ZM81.07 250.2H83.27V252.4H81.07ZM87.47 250.2H91.8V252.4H87.47ZM104.55 250.2H108.88V252.4H104.55ZM125.89 250.2H128.09V252.4H125.89ZM198.46 250.2H204.92V252.4H198.46ZM85.34 252.34H89.67V254.55H85.34ZM104.55 252.34H106.74V254.55H104.55ZM123.76 252.34H125.95V254.55H123.76ZM202.73 252.34H204.92V254.55H202.73ZM81.07 254.49H85.4V256.69H81.07ZM98.15 254.49H108.88V256.69H98.15ZM121.62 254.49H125.95V256.69H121.62ZM204.86 254.49H207.06V256.69H204.86ZM83.21 256.63H87.53V258.84H83.21ZM100.28 256.63H102.47V258.84H100.28ZM104.55 256.63H108.88V258.84H104.55ZM119.49 256.63H123.82V258.84H119.49ZM160.04 256.63H164.37V258.84H160.04ZM179.25 256.63H181.45V258.84H179.25ZM83.21 258.78H87.53V260.99H83.21ZM98.15 258.78H100.34V260.99H98.15ZM104.55 258.78H106.74V260.99H104.55ZM121.62 258.78H123.82V260.99H121.62ZM83.21 260.93H87.53V263.13H83.21ZM93.88 260.93H98.21V263.13H93.88ZM117.36 260.93H121.68V263.13H117.36ZM85.34 263.07H87.53V265.28H85.34ZM96.01 263.07H98.21V265.28H96.01ZM102.41 263.07H104.61V265.28H102.41ZM117.36 263.07H121.68V265.28H117.36ZM177.12 263.07H179.31V265.28H177.12ZM85.34 265.22H93.94V267.42H85.34ZM96.01 265.22H98.21V267.42H96.01ZM100.28 265.22H102.47V267.42H100.28ZM115.22 265.22H119.55V267.42H115.22ZM85.34 267.36H87.53V269.57H85.34ZM91.74 267.36H100.34V269.57H91.74ZM115.22 267.36H119.55V269.57H115.22ZM200.59 267.36H202.79V269.57H200.59ZM96.01 269.51H98.21V271.72H96.01ZM102.41 269.51H106.74V271.72H102.41ZM113.09 269.51H117.42V271.72H113.09ZM200.59 269.51H202.79V271.72H200.59ZM100.28 271.66H106.74V273.86H100.28ZM113.09 271.66H115.28V273.86H113.09ZM155.77 271.66H157.97V273.86H155.77ZM91.74 273.8H96.07V276.01H91.74ZM100.28 273.8H104.61V276.01H100.28ZM110.95 273.8H115.28V276.01H110.95ZM91.74 275.95H100.34V278.15H91.74ZM102.41 275.95H104.61V278.15H102.41ZM110.95 275.95H113.15V278.15H110.95ZM89.61 278.09H98.21V280.3H89.61ZM102.41 278.09H104.61V280.3H102.41ZM110.95 278.09H113.15V280.3H110.95ZM89.61 280.24H91.8V282.45H89.61ZM93.88 280.24H96.07V282.45H93.88ZM102.41 280.24H104.61V282.45H102.41ZM108.82 280.24H111.01V282.45H108.82ZM174.98 280.24H177.18V282.45H174.98ZM194.19 280.24H196.39V282.45H194.19ZM91.74 282.39H93.94V284.59H91.74ZM100.28 282.39H104.61V284.59H100.28ZM106.68 282.39H108.88V284.59H106.68ZM128.03 282.39H132.36V284.59H128.03ZM174.98 282.39H179.31V284.59H174.98ZM192.06 282.39H194.25V284.59H192.06ZM102.41 284.53H104.61V286.74H102.41ZM128.03 284.53H132.36V286.74H128.03ZM172.85 284.53H181.45V286.74H172.85ZM98.15 286.68H100.34V288.88H98.15ZM102.41 286.68H104.61V288.88H102.41ZM128.03 286.68H130.22V288.88H128.03ZM172.85 286.68H179.31V288.88H172.85ZM187.79 286.68H192.12V288.88H187.79ZM102.41 288.82H104.61V291.03H102.41ZM185.65 288.82H187.85V291.03H185.65ZM147.24 290.97H149.43V293.18H147.24ZM183.52 290.97H185.71V293.18H183.52ZM104.55 293.12H106.74V295.32H104.55ZM181.39 293.12H183.58V295.32H181.39ZM104.55 295.26H106.74V297.47H104.55ZM172.85 295.26H177.18V297.47H172.85ZM113.09 297.41H121.68V299.61H113.09ZM166.44 297.41H172.91V299.61H166.44ZM113.09 299.55H115.28V301.76H113.09ZM121.62 299.55H123.82V301.76H121.62ZM130.16 299.55H134.49V301.76H130.16ZM138.7 299.55H149.43V301.76H138.7ZM155.77 299.55H160.1V301.76H155.77Z" fill="#ff6400"/>
<path d="M138.7 166.5H140.89V168.71H138.7ZM155.77 166.5H157.97V168.71H155.77ZM132.3 168.65H134.49V170.85H132.3ZM140.83 168.65H143.03V170.85H140.83ZM123.76 170.79H125.95V173H123.76ZM130.16 170.79H132.36V173H130.16ZM160.04 170.79H162.24V173H160.04ZM121.62 172.94H123.82V175.14H121.62ZM157.91 172.94H162.24V175.14H157.91ZM168.58 172.94H170.77V175.14H168.58ZM117.36 175.08H119.55V177.29H117.36ZM132.3 175.08H138.76V177.29H132.3ZM157.91 175.08H160.1V177.29H157.91ZM166.44 175.08H170.77V177.29H166.44ZM115.22 177.23H117.42V179.44H115.22ZM132.3 177.23H134.49V179.44H132.3ZM136.56 177.23H138.76V179.44H136.56ZM142.97 177.23H145.16V179.44H142.97ZM155.77 177.23H160.1V179.44H155.77ZM166.44 177.23H170.77V179.44H166.44ZM174.98 177.23H179.31V179.44H174.98ZM128.03 179.38H132.36V181.58H128.03ZM136.56 179.38H138.76V181.58H136.56ZM142.97 179.38H145.16V181.58H142.97ZM155.77 179.38H157.97V181.58H155.77ZM164.31 179.38H170.77V181.58H164.31ZM179.25 179.38H181.45V181.58H179.25ZM125.89 181.52H128.09V183.73H125.89ZM130.16 181.52H132.36V183.73H130.16ZM136.56 181.52H140.89V183.73H136.56ZM142.97 181.52H145.16V183.73H142.97ZM153.64 181.52H157.97V183.73H153.64ZM164.31 181.52H166.5V183.73H164.31ZM98.15 183.67H102.47V185.87H98.15ZM110.95 183.67H113.15V185.87H110.95ZM121.62 183.67H123.82V185.87H121.62ZM125.89 183.67H132.36V185.87H125.89ZM136.56 183.67H138.76V185.87H136.56ZM140.83 183.67H143.03V185.87H140.83ZM153.64 183.67H155.83V185.87H153.64ZM162.18 183.67H166.5V185.87H162.18ZM96.01 185.81H98.21V188.02H96.01ZM108.82 185.81H113.15V188.02H108.82ZM130.16 185.81H132.36V188.02H130.16ZM151.5 185.81H155.83V188.02H151.5ZM162.18 185.81H164.37V188.02H162.18ZM185.65 185.81H187.85V188.02H185.65ZM96.01 187.96H98.21V190.17H96.01ZM104.55 187.96H106.74V190.17H104.55ZM123.76 187.96H125.95V190.17H123.76ZM151.5 187.96H153.7V190.17H151.5ZM160.04 187.96H164.37V190.17H160.04ZM117.36 190.11H119.55V192.31H117.36ZM130.16 190.11H132.36V192.31H130.16ZM134.43 190.11H136.62V192.31H134.43ZM138.7 190.11H140.89V192.31H138.7ZM149.37 190.11H153.7V192.31H149.37ZM160.04 190.11H162.24V192.31H160.04ZM192.06 190.11H196.39V192.31H192.06ZM96.01 192.25H100.34V194.46H96.01ZM134.43 192.25H143.03V194.46H134.43ZM147.24 192.25H151.56V194.46H147.24ZM157.91 192.25H162.24V194.46H157.91ZM196.33 192.25H198.52V194.46H196.33ZM96.01 194.4H100.34V196.6H96.01ZM104.55 194.4H106.74V196.6H104.55ZM145.1 194.4H151.56V196.6H145.1ZM157.91 194.4H160.1V196.6H157.91ZM196.33 194.4H198.52V196.6H196.33ZM91.74 196.54H98.21V198.75H91.74ZM102.41 196.54H104.61V198.75H102.41ZM117.36 196.54H119.55V198.75H117.36ZM123.76 196.54H128.09V198.75H123.76ZM145.1 196.54H149.43V198.75H145.1ZM155.77 196.54H160.1V198.75H155.77ZM183.52 196.54H185.71V198.75H183.52ZM91.74 198.69H93.94V200.9H91.74ZM98.15 198.69H100.34V200.9H98.15ZM115.22 198.69H125.95V200.9H115.22ZM134.43 198.69H138.76V200.9H134.43ZM145.1 198.69H149.43V200.9H145.1ZM155.77 198.69H157.97V200.9H155.77ZM183.52 198.69H185.71V200.9H183.52ZM200.59 198.69H202.79V200.9H200.59ZM121.62 200.84H123.82V203.04H121.62ZM132.3 200.84H136.62V203.04H132.3ZM142.97 200.84H147.3V203.04H142.97ZM153.64 200.84H157.97V203.04H153.64ZM200.59 200.84H202.79V203.04H200.59ZM125.89 202.98H128.09V205.19H125.89ZM134.43 202.98H136.62V205.19H134.43ZM142.97 202.98H147.3V205.19H142.97ZM153.64 202.98H155.83V205.19H153.64ZM157.91 202.98H160.1V205.19H157.91ZM119.49 205.13H123.82V207.33H119.49ZM142.97 205.13H145.16V207.33H142.97ZM151.5 205.13H153.7V207.33H151.5ZM157.91 205.13H160.1V207.33H157.91ZM200.59 205.13H202.79V207.33H200.59ZM119.49 207.27H123.82V209.48H119.49ZM140.83 207.27H145.16V209.48H140.83ZM151.5 207.27H153.7V209.48H151.5ZM198.46 207.27H202.79V209.48H198.46ZM115.22 209.42H117.42V211.63H115.22ZM123.76 209.42H128.09V211.63H123.76ZM140.83 209.42H143.03V211.63H140.83ZM149.37 209.42H151.56V211.63H149.37ZM162.18 209.42H164.37V211.63H162.18ZM196.33 209.42H202.79V211.63H196.33ZM115.22 211.57H119.55V213.77H115.22ZM123.76 211.57H128.09V213.77H123.76ZM138.7 211.57H140.89V213.77H138.7ZM149.37 211.57H151.56V213.77H149.37ZM157.91 211.57H162.24V213.77H157.91ZM198.46 211.57H202.79V213.77H198.46ZM85.34 213.71H87.53V215.92H85.34ZM110.95 213.71H115.28V215.92H110.95ZM121.62 213.71H123.82V215.92H121.62ZM125.89 213.71H128.09V215.92H125.89ZM138.7 213.71H140.89V215.92H138.7ZM147.24 213.71H149.43V215.92H147.24ZM157.91 213.71H162.24V215.92H157.91ZM192.06 213.71H194.25V215.92H192.06ZM198.46 213.71H200.65V215.92H198.46ZM85.34 215.86H87.53V218.06H85.34ZM123.76 215.86H125.95V218.06H123.76ZM136.56 215.86H138.76V218.06H136.56ZM145.1 215.86H149.43V218.06H145.1ZM151.5 215.86H157.97V218.06H151.5ZM196.33 215.86H202.79V218.06H196.33ZM209.13 215.86H211.33V218.06H209.13ZM115.22 218H117.42V220.21H115.22ZM136.56 218H138.76V220.21H136.56ZM145.1 218H147.3V220.21H145.1ZM155.77 218H157.97V220.21H155.77ZM207 218H211.33V220.21H207ZM113.09 220.15H115.28V222.36H113.09ZM134.43 220.15H136.62V222.36H134.43ZM142.97 220.15H147.3V222.36H142.97ZM151.5 220.15H153.7V222.36H151.5ZM194.19 220.15H196.39V222.36H194.19ZM204.86 220.15H209.19V222.36H204.86ZM89.61 222.3H91.8V224.5H89.61ZM108.82 222.3H111.01V224.5H108.82ZM134.43 222.3H136.62V224.5H134.43ZM142.97 222.3H145.16V224.5H142.97ZM192.06 222.3H194.25V224.5H192.06ZM200.59 222.3H202.79V224.5H200.59ZM89.61 224.44H91.8V226.65H89.61ZM132.3 224.44H134.49V226.65H132.3ZM142.97 224.44H145.16V226.65H142.97ZM149.37 224.44H151.56V226.65H149.37ZM192.06 224.44H194.25V226.65H192.06ZM130.16 226.59H134.49V228.79H130.16ZM198.46 226.59H202.79V228.79H198.46ZM87.47 228.73H89.67V230.94H87.47ZM128.03 228.73H130.22V230.94H128.03ZM142.97 228.73H147.3V230.94H142.97ZM149.37 228.73H151.56V230.94H149.37ZM177.12 228.73H181.45V230.94H177.12ZM198.46 228.73H200.65V230.94H198.46ZM87.47 230.88H89.67V233.09H87.47ZM138.7 230.88H143.03V233.09H138.7ZM179.25 230.88H181.45V233.09H179.25ZM96.01 233.03H98.21V235.23H96.01ZM138.7 233.03H140.89V235.23H138.7ZM174.98 233.03H177.18V235.23H174.98ZM179.25 233.03H181.45V235.23H179.25ZM185.65 233.03H194.25V235.23H185.65ZM196.33 233.03H198.52V235.23H196.33ZM200.59 233.03H202.79V235.23H200.59ZM211.27 233.03H213.46V235.23H211.27ZM93.88 235.17H98.21V237.38H93.88ZM172.85 235.17H175.04V237.38H172.85ZM192.06 235.17H198.52V237.38H192.06ZM204.86 235.17H207.06V237.38H204.86ZM211.27 235.17H213.46V237.38H211.27ZM93.88 237.32H98.21V239.53H93.88ZM138.7 237.32H140.89V239.53H138.7ZM142.97 237.32H147.3V239.53H142.97ZM172.85 237.32H175.04V239.53H172.85ZM196.33 237.32H202.79V239.53H196.33ZM207 237.32H211.33V239.53H207ZM83.21 239.47H85.4V241.67H83.21ZM91.74 239.47H93.94V241.67H91.74ZM96.01 239.47H98.21V241.67H96.01ZM172.85 239.47H177.18V241.67H172.85ZM207 239.47H209.19V241.67H207ZM174.98 241.61H177.18V243.82H174.98ZM81.07 243.76H83.27V245.96H81.07ZM93.88 243.76H96.07V245.96H93.88ZM172.85 243.76H177.18V245.96H172.85ZM89.61 245.9H91.8V248.11H89.61ZM106.68 245.9H108.88V248.11H106.68ZM140.83 245.9H143.03V248.11H140.83ZM172.85 245.9H175.04V248.11H172.85ZM87.47 248.05H89.67V250.26H87.47ZM104.55 248.05H106.74V250.26H104.55ZM140.83 248.05H143.03V250.26H140.83ZM174.98 248.05H177.18V250.26H174.98ZM85.34 250.2H87.53V252.4H85.34ZM91.74 250.2H93.94V252.4H91.74ZM140.83 250.2H145.16V252.4H140.83ZM192.06 250.2H196.39V252.4H192.06ZM81.07 252.34H83.27V254.55H81.07ZM102.41 252.34H104.61V254.55H102.41ZM106.68 252.34H108.88V254.55H106.68ZM138.7 252.34H145.16V254.55H138.7ZM181.39 252.34H183.58V254.55H181.39ZM198.46 252.34H202.79V254.55H198.46ZM85.34 254.49H89.67V256.69H85.34ZM140.83 254.49H143.03V256.69H140.83ZM162.18 254.49H166.5V256.69H162.18ZM179.25 254.49H183.58V256.69H179.25ZM196.33 254.49H204.92V256.69H196.33ZM87.47 256.63H89.67V258.84H87.47ZM98.15 256.63H100.34V258.84H98.15ZM157.91 256.63H160.1V258.84H157.91ZM164.31 256.63H166.5V258.84H164.31ZM177.12 256.63H179.31V258.84H177.12ZM181.39 256.63H183.58V258.84H181.39ZM196.33 256.63H200.65V258.84H196.33ZM204.86 256.63H207.06V258.84H204.86ZM87.47 258.78H89.67V260.99H87.47ZM106.68 258.78H113.15V260.99H106.68ZM157.91 258.78H160.1V260.99H157.91ZM162.18 258.78H164.37V260.99H162.18ZM179.25 258.78H181.45V260.99H179.25ZM202.73 258.78H204.92V260.99H202.73ZM87.47 260.93H89.67V263.13H87.47ZM91.74 260.93H93.94V263.13H91.74ZM104.55 260.93H106.74V263.13H104.55ZM108.82 260.93H111.01V263.13H108.82ZM160.04 260.93H162.24V263.13H160.04ZM179.25 260.93H181.45V263.13H179.25ZM87.47 263.07H96.07V265.28H87.47ZM108.82 263.07H113.15V265.28H108.82ZM179.25 263.07H181.45V265.28H179.25ZM93.88 265.22H96.07V267.42H93.88ZM177.12 265.22H179.31V267.42H177.12ZM200.59 265.22H202.79V267.42H200.59ZM100.28 267.36H108.88V269.57H100.28ZM168.58 267.36H170.77V269.57H168.58ZM183.52 267.36H185.71V269.57H183.52ZM98.15 269.51H102.47V271.72H98.15ZM106.68 269.51H108.88V271.72H106.68ZM96.01 271.66H100.34V273.86H96.01ZM96.01 273.8H100.34V276.01H96.01ZM104.55 273.8H106.74V276.01H104.55ZM132.3 273.8H134.49V276.01H132.3ZM153.64 273.8H157.97V276.01H153.64ZM172.85 273.8H175.04V276.01H172.85ZM130.16 275.95H136.62V278.15H130.16ZM170.71 275.95H172.91V278.15H170.71ZM104.55 278.09H106.74V280.3H104.55ZM130.16 278.09H136.62V280.3H130.16ZM194.19 278.09H196.39V280.3H194.19ZM91.74 280.24H93.94V282.45H91.74ZM104.55 280.24H106.74V282.45H104.55ZM130.16 280.24H136.62V282.45H130.16ZM177.12 280.24H179.31V282.45H177.12ZM104.55 282.39H106.74V284.59H104.55ZM132.3 282.39H134.49V284.59H132.3ZM172.85 282.39H175.04V284.59H172.85ZM179.25 282.39H181.45V284.59H179.25ZM104.55 284.53H106.74V286.74H104.55ZM132.3 284.53H134.49V286.74H132.3ZM189.92 284.53H192.12V286.74H189.92ZM125.89 286.68H128.09V288.88H125.89ZM130.16 286.68H132.36V288.88H130.16ZM170.71 286.68H172.91V288.88H170.71ZM179.25 286.68H181.45V288.88H179.25ZM177.12 288.82H179.31V291.03H177.12ZM183.52 288.82H185.71V291.03H183.52ZM104.55 290.97H106.74V293.18H104.55ZM145.1 290.97H147.3V293.18H145.1ZM106.68 293.12H108.88V295.32H106.68ZM145.1 293.12H149.43V295.32H145.1ZM174.98 293.12H181.45V295.32H174.98ZM106.68 295.26H108.88V297.47H106.68ZM117.36 295.26H119.55V297.47H117.36ZM110.95 297.41H113.15V299.61H110.95ZM121.62 297.41H123.82V299.61H121.62ZM134.43 297.41H136.62V299.61H134.43ZM128.03 299.55H130.22V301.76H128.03ZM149.37 299.55H155.83V301.76H149.37ZM160.04 299.55H162.24V301.76H160.04ZM164.31 299.55H166.5V301.76H164.31Z" fill="#ffaa00"/>
<path d="M134.43 166.5H138.76V168.71H134.43ZM151.5 166.5H153.7V168.71H151.5ZM138.7 168.65H140.89V170.85H138.7ZM145.1 168.65H151.56V170.85H145.1ZM157.91 168.65H160.1V170.85H157.91ZM125.89 170.79H130.22V173H125.89ZM132.3 170.79H134.49V173H132.3ZM136.56 170.79H140.89V173H136.56ZM145.1 170.79H151.56V173H145.1ZM123.76 172.94H138.76V175.14H123.76ZM145.1 172.94H149.43V175.14H145.1ZM119.49 175.08H123.82V177.29H119.49ZM128.03 175.08H132.36V177.29H128.03ZM145.1 175.08H147.3V177.29H145.1ZM117.36 177.23H119.55V179.44H117.36ZM130.16 177.23H132.36V179.44H130.16ZM134.43 177.23H136.62V179.44H134.43ZM151.5 177.23H153.7V179.44H151.5ZM113.09 179.38H115.28V181.58H113.09ZM121.62 179.38H123.82V181.58H121.62ZM132.3 179.38H134.49V181.58H132.3ZM151.5 179.38H155.83V181.58H151.5ZM172.85 179.38H175.04V181.58H172.85ZM177.12 179.38H179.31V181.58H177.12ZM113.09 181.52H115.28V183.73H113.09ZM121.62 181.52H125.95V183.73H121.62ZM132.3 181.52H136.62V183.73H132.3ZM151.5 181.52H153.7V183.73H151.5ZM166.44 181.52H170.77V183.73H166.44ZM181.39 181.52H183.58V183.73H181.39ZM113.09 183.67H115.28V185.87H113.09ZM123.76 183.67H125.95V185.87H123.76ZM132.3 183.67H136.62V185.87H132.3ZM142.97 183.67H145.16V185.87H142.97ZM149.37 183.67H153.7V185.87H149.37ZM183.52 183.67H185.71V185.87H183.52ZM98.15 185.81H102.47V188.02H98.15ZM119.49 185.81H121.68V188.02H119.49ZM132.3 185.81H138.76V188.02H132.3ZM140.83 185.81H143.03V188.02H140.83ZM149.37 185.81H151.56V188.02H149.37ZM183.52 185.81H185.71V188.02H183.52ZM98.15 187.96H104.61V190.17H98.15ZM106.68 187.96H111.01V190.17H106.68ZM117.36 187.96H119.55V190.17H117.36ZM125.89 187.96H128.09V190.17H125.89ZM132.3 187.96H136.62V190.17H132.3ZM140.83 187.96H143.03V190.17H140.83ZM147.24 187.96H151.56V190.17H147.24ZM185.65 187.96H189.98V190.17H185.65ZM98.15 190.11H108.88V192.31H98.15ZM123.76 190.11H130.22V192.31H123.76ZM132.3 190.11H134.49V192.31H132.3ZM140.83 190.11H143.03V192.31H140.83ZM145.1 190.11H149.43V192.31H145.1ZM189.92 190.11H192.12V192.31H189.92ZM104.55 192.25H106.74V194.46H104.55ZM115.22 192.25H117.42V194.46H115.22ZM121.62 192.25H123.82V194.46H121.62ZM128.03 192.25H134.49V194.46H128.03ZM142.97 192.25H147.3V194.46H142.97ZM187.79 192.25H189.98V194.46H187.79ZM115.22 194.4H117.42V196.6H115.22ZM121.62 194.4H125.95V196.6H121.62ZM128.03 194.4H132.36V196.6H128.03ZM134.43 194.4H145.16V196.6H134.43ZM183.52 194.4H187.85V196.6H183.52ZM98.15 196.54H100.34V198.75H98.15ZM115.22 196.54H117.42V198.75H115.22ZM130.16 196.54H138.76V198.75H130.16ZM140.83 196.54H145.16V198.75H140.83ZM160.04 196.54H164.37V198.75H160.04ZM185.65 196.54H187.85V198.75H185.65ZM196.33 196.54H198.52V198.75H196.33ZM93.88 198.69H98.21V200.9H93.88ZM130.16 198.69H134.49V200.9H130.16ZM142.97 198.69H145.16V200.9H142.97ZM160.04 198.69H164.37V200.9H160.04ZM181.39 198.69H183.58V200.9H181.39ZM198.46 198.69H200.65V200.9H198.46ZM87.47 200.84H91.8V203.04H87.47ZM98.15 200.84H104.61V203.04H98.15ZM115.22 200.84H121.68V203.04H115.22ZM128.03 200.84H132.36V203.04H128.03ZM136.56 200.84H138.76V203.04H136.56ZM157.91 200.84H162.24V203.04H157.91ZM179.25 200.84H185.71V203.04H179.25ZM87.47 202.98H89.67V205.19H87.47ZM98.15 202.98H104.61V205.19H98.15ZM115.22 202.98H121.68V205.19H115.22ZM130.16 202.98H134.49V205.19H130.16ZM160.04 202.98H164.37V205.19H160.04ZM179.25 202.98H181.45V205.19H179.25ZM198.46 202.98H200.65V205.19H198.46ZM85.34 205.13H87.53V207.33H85.34ZM115.22 205.13H119.55V207.33H115.22ZM155.77 205.13H157.97V207.33H155.77ZM160.04 205.13H164.37V207.33H160.04ZM198.46 205.13H200.65V207.33H198.46ZM115.22 207.27H119.55V209.48H115.22ZM125.89 207.27H130.22V209.48H125.89ZM155.77 207.27H164.37V209.48H155.77ZM177.12 207.27H179.31V209.48H177.12ZM196.33 207.27H198.52V209.48H196.33ZM113.09 209.42H115.28V211.63H113.09ZM119.49 209.42H123.82V211.63H119.49ZM151.5 209.42H162.24V211.63H151.5ZM110.95 211.57H115.28V213.77H110.95ZM119.49 211.57H123.82V213.77H119.49ZM151.5 211.57H157.97V213.77H151.5ZM162.18 211.57H164.37V213.77H162.18ZM194.19 211.57H196.39V213.77H194.19ZM87.47 213.71H89.67V215.92H87.47ZM117.36 213.71H119.55V215.92H117.36ZM149.37 213.71H157.97V215.92H149.37ZM87.47 215.86H89.67V218.06H87.47ZM108.82 215.86H111.01V218.06H108.82ZM117.36 215.86H123.82V218.06H117.36ZM125.89 215.86H128.09V218.06H125.89ZM157.91 215.86H160.1V218.06H157.91ZM89.61 218H91.8V220.21H89.61ZM106.68 218H108.88V220.21H106.68ZM117.36 218H119.55V220.21H117.36ZM151.5 218H153.7V220.21H151.5ZM157.91 218H160.1V220.21H157.91ZM89.61 220.15H96.07V222.36H89.61ZM106.68 220.15H108.88V222.36H106.68ZM115.22 220.15H117.42V222.36H115.22ZM125.89 220.15H128.09V222.36H125.89ZM153.64 220.15H157.97V222.36H153.64ZM189.92 220.15H192.12V222.36H189.92ZM196.33 220.15H198.52V222.36H196.33ZM209.13 220.15H211.33V222.36H209.13ZM91.74 222.3H96.07V224.5H91.74ZM106.68 222.3H108.88V224.5H106.68ZM110.95 222.3H115.28V224.5H110.95ZM149.37 222.3H153.7V224.5H149.37ZM155.77 222.3H157.97V224.5H155.77ZM189.92 222.3H192.12V224.5H189.92ZM194.19 222.3H196.39V224.5H194.19ZM198.46 222.3H200.65V224.5H198.46ZM202.73 222.3H211.33V224.5H202.73ZM91.74 224.44H93.94V226.65H91.74ZM104.55 224.44H108.88V226.65H104.55ZM151.5 224.44H153.7V226.65H151.5ZM155.77 224.44H160.1V226.65H155.77ZM185.65 224.44H192.12V226.65H185.65ZM194.19 224.44H196.39V226.65H194.19ZM200.59 224.44H204.92V226.65H200.59ZM211.27 224.44H213.46V226.65H211.27ZM89.61 226.59H91.8V228.79H89.61ZM104.55 226.59H106.74V228.79H104.55ZM125.89 226.59H130.22V228.79H125.89ZM142.97 226.59H149.43V228.79H142.97ZM151.5 226.59H153.7V228.79H151.5ZM155.77 226.59H157.97V228.79H155.77ZM177.12 226.59H187.85V228.79H177.12ZM189.92 226.59H194.25V228.79H189.92ZM89.61 228.73H91.8V230.94H89.61ZM102.41 228.73H104.61V230.94H102.41ZM125.89 228.73H128.09V230.94H125.89ZM130.16 228.73H132.36V230.94H130.16ZM181.39 228.73H189.98V230.94H181.39ZM196.33 228.73H198.52V230.94H196.33ZM200.59 228.73H202.79V230.94H200.59ZM93.88 230.88H98.21V233.09H93.88ZM125.89 230.88H128.09V233.09H125.89ZM130.16 230.88H132.36V233.09H130.16ZM134.43 230.88H136.62V233.09H134.43ZM149.37 230.88H151.56V233.09H149.37ZM174.98 230.88H177.18V233.09H174.98ZM181.39 230.88H192.12V233.09H181.39ZM194.19 230.88H202.79V233.09H194.19ZM209.13 230.88H211.33V233.09H209.13ZM87.47 233.03H89.67V235.23H87.47ZM91.74 233.03H96.07V235.23H91.74ZM98.15 233.03H100.34V235.23H98.15ZM123.76 233.03H132.36V235.23H123.76ZM134.43 233.03H138.76V235.23H134.43ZM149.37 233.03H151.56V235.23H149.37ZM172.85 233.03H175.04V235.23H172.85ZM181.39 233.03H185.71V235.23H181.39ZM194.19 233.03H196.39V235.23H194.19ZM198.46 233.03H200.65V235.23H198.46ZM202.73 233.03H209.19V235.23H202.73ZM87.47 235.17H89.67V237.38H87.47ZM91.74 235.17H93.94V237.38H91.74ZM98.15 235.17H100.34V237.38H98.15ZM136.56 235.17H138.76V237.38H136.56ZM147.24 235.17H149.43V237.38H147.24ZM179.25 235.17H187.85V237.38H179.25ZM189.92 235.17H192.12V237.38H189.92ZM198.46 235.17H204.92V237.38H198.46ZM207 235.17H211.33V237.38H207ZM87.47 237.32H93.94V239.53H87.47ZM121.62 237.32H123.82V239.53H121.62ZM136.56 237.32H138.76V239.53H136.56ZM170.71 237.32H172.91V239.53H170.71ZM179.25 237.32H187.85V239.53H179.25ZM192.06 237.32H196.39V239.53H192.06ZM85.34 239.47H87.53V241.67H85.34ZM119.49 239.47H123.82V241.67H119.49ZM136.56 239.47H147.3V241.67H136.56ZM170.71 239.47H172.91V241.67H170.71ZM179.25 239.47H183.58V241.67H179.25ZM196.33 239.47H200.65V241.67H196.33ZM83.21 241.61H85.4V243.82H83.21ZM89.61 241.61H91.8V243.82H89.61ZM96.01 241.61H98.21V243.82H96.01ZM142.97 241.61H145.16V243.82H142.97ZM151.5 241.61H153.7V243.82H151.5ZM170.71 241.61H172.91V243.82H170.71ZM177.12 241.61H183.58V243.82H177.12ZM194.19 241.61H200.65V243.82H194.19ZM83.21 243.76H85.4V245.96H83.21ZM89.61 243.76H91.8V245.96H89.61ZM96.01 243.76H98.21V245.96H96.01ZM106.68 243.76H111.01V245.96H106.68ZM140.83 243.76H145.16V245.96H140.83ZM153.64 243.76H155.83V245.96H153.64ZM170.71 243.76H172.91V245.96H170.71ZM177.12 243.76H183.58V245.96H177.12ZM196.33 243.76H198.52V245.96H196.33ZM83.21 245.9H85.4V248.11H83.21ZM96.01 245.9H98.21V248.11H96.01ZM108.82 245.9H111.01V248.11H108.82ZM177.12 245.9H179.31V248.11H177.12ZM189.92 245.9H192.12V248.11H189.92ZM196.33 245.9H198.52V248.11H196.33ZM83.21 248.05H85.4V250.26H83.21ZM93.88 248.05H104.61V250.26H93.88ZM108.82 248.05H111.01V250.26H108.82ZM142.97 248.05H145.16V250.26H142.97ZM172.85 248.05H175.04V250.26H172.85ZM187.79 248.05H198.52V250.26H187.79ZM83.21 250.2H85.4V252.4H83.21ZM98.15 250.2H104.61V252.4H98.15ZM108.82 250.2H111.01V252.4H108.82ZM138.7 250.2H140.89V252.4H138.7ZM179.25 250.2H181.45V252.4H179.25ZM187.79 250.2H192.12V252.4H187.79ZM196.33 250.2H198.52V252.4H196.33ZM83.21 252.34H85.4V254.55H83.21ZM89.61 252.34H91.8V254.55H89.61ZM98.15 252.34H102.47V254.55H98.15ZM136.56 252.34H138.76V254.55H136.56ZM177.12 252.34H181.45V254.55H177.12ZM183.52 252.34H187.85V254.55H183.52ZM192.06 252.34H198.52V254.55H192.06ZM89.61 254.49H93.94V256.69H89.61ZM96.01 254.49H98.21V256.69H96.01ZM108.82 254.49H111.01V256.69H108.82ZM136.56 254.49H140.89V256.69H136.56ZM142.97 254.49H145.16V256.69H142.97ZM155.77 254.49H162.24V256.69H155.77ZM177.12 254.49H179.31V256.69H177.12ZM183.52 254.49H185.71V256.69H183.52ZM89.61 256.63H93.94V258.84H89.61ZM96.01 256.63H98.21V258.84H96.01ZM108.82 256.63H113.15V258.84H108.82ZM134.43 256.63H143.03V258.84H134.43ZM155.77 256.63H157.97V258.84H155.77ZM174.98 256.63H177.18V258.84H174.98ZM183.52 256.63H185.71V258.84H183.52ZM200.59 256.63H204.92V258.84H200.59ZM89.61 258.78H98.21V260.99H89.61ZM134.43 258.78H140.89V260.99H134.43ZM151.5 258.78H157.97V260.99H151.5ZM160.04 258.78H162.24V260.99H160.04ZM164.31 258.78H168.64V260.99H164.31ZM172.85 258.78H175.04V260.99H172.85ZM177.12 258.78H179.31V260.99H177.12ZM181.39 258.78H183.58V260.99H181.39ZM194.19 258.78H198.52V260.99H194.19ZM200.59 258.78H202.79V260.99H200.59ZM89.61 260.93H91.8V263.13H89.61ZM106.68 260.93H108.88V263.13H106.68ZM110.95 260.93H113.15V263.13H110.95ZM134.43 260.93H138.76V263.13H134.43ZM149.37 260.93H160.1V263.13H149.37ZM162.18 260.93H170.77V263.13H162.18ZM172.85 260.93H179.31V263.13H172.85ZM181.39 260.93H183.58V263.13H181.39ZM194.19 260.93H196.39V263.13H194.19ZM202.73 260.93H204.92V263.13H202.73ZM134.43 263.07H136.62V265.28H134.43ZM157.91 263.07H164.37V265.28H157.91ZM166.44 263.07H168.64V265.28H166.44ZM172.85 263.07H177.18V265.28H172.85ZM181.39 263.07H183.58V265.28H181.39ZM192.06 263.07H194.25V265.28H192.06ZM202.73 263.07H204.92V265.28H202.73ZM102.41 265.22H111.01V267.42H102.41ZM134.43 265.22H138.76V267.42H134.43ZM140.83 265.22H143.03V267.42H140.83ZM157.91 265.22H170.77V267.42H157.91ZM174.98 265.22H177.18V267.42H174.98ZM179.25 265.22H185.71V267.42H179.25ZM108.82 267.36H111.01V269.57H108.82ZM134.43 267.36H140.89V269.57H134.43ZM157.91 267.36H162.24V269.57H157.91ZM166.44 267.36H168.64V269.57H166.44ZM170.71 267.36H177.18V269.57H170.71ZM181.39 267.36H183.58V269.57H181.39ZM134.43 269.51H140.89V271.72H134.43ZM155.77 269.51H160.1V271.72H155.77ZM166.44 269.51H177.18V271.72H166.44ZM181.39 269.51H183.58V271.72H181.39ZM198.46 269.51H200.65V271.72H198.46ZM106.68 271.66H108.88V273.86H106.68ZM132.3 271.66H136.62V273.86H132.3ZM153.64 271.66H155.83V273.86H153.64ZM157.91 271.66H160.1V273.86H157.91ZM168.58 271.66H170.77V273.86H168.58ZM172.85 271.66H175.04V273.86H172.85ZM179.25 271.66H183.58V273.86H179.25ZM106.68 273.8H108.88V276.01H106.68ZM130.16 273.8H132.36V276.01H130.16ZM134.43 273.8H138.76V276.01H134.43ZM170.71 273.8H172.91V276.01H170.71ZM177.12 273.8H181.45V276.01H177.12ZM196.33 273.8H198.52V276.01H196.33ZM104.55 275.95H106.74V278.15H104.55ZM128.03 275.95H130.22V278.15H128.03ZM136.56 275.95H138.76V278.15H136.56ZM147.24 275.95H149.43V278.15H147.24ZM153.64 275.95H155.83V278.15H153.64ZM168.58 275.95H170.77V278.15H168.58ZM172.85 275.95H175.04V278.15H172.85ZM177.12 275.95H183.58V278.15H177.12ZM194.19 275.95H196.39V278.15H194.19ZM128.03 278.09H130.22V280.3H128.03ZM136.56 278.09H138.76V280.3H136.56ZM170.71 278.09H172.91V280.3H170.71ZM174.98 278.09H183.58V280.3H174.98ZM106.68 280.24H108.88V282.45H106.68ZM128.03 280.24H130.22V282.45H128.03ZM136.56 280.24H138.76V282.45H136.56ZM140.83 280.24H143.03V282.45H140.83ZM168.58 280.24H175.04V282.45H168.58ZM179.25 280.24H183.58V282.45H179.25ZM192.06 280.24H194.25V282.45H192.06ZM125.89 282.39H128.09V284.59H125.89ZM134.43 282.39H138.76V284.59H134.43ZM151.5 282.39H153.7V284.59H151.5ZM170.71 282.39H172.91V284.59H170.71ZM181.39 282.39H183.58V284.59H181.39ZM125.89 284.53H128.09V286.74H125.89ZM138.7 284.53H140.89V286.74H138.7ZM149.37 284.53H151.56V286.74H149.37ZM170.71 284.53H172.91V286.74H170.71ZM181.39 284.53H183.58V286.74H181.39ZM187.79 284.53H189.98V286.74H187.79ZM104.55 286.68H106.74V288.88H104.55ZM123.76 286.68H125.95V288.88H123.76ZM132.3 286.68H134.49V288.88H132.3ZM149.37 286.68H153.7V288.88H149.37ZM183.52 286.68H187.85V288.88H183.52ZM104.55 288.82H106.74V291.03H104.55ZM123.76 288.82H130.22V291.03H123.76ZM147.24 288.82H151.56V291.03H147.24ZM170.71 288.82H177.18V291.03H170.71ZM179.25 288.82H181.45V291.03H179.25ZM119.49 290.97H128.09V293.18H119.49ZM149.37 290.97H151.56V293.18H149.37ZM172.85 290.97H179.31V293.18H172.85ZM181.39 290.97H183.58V293.18H181.39ZM113.09 293.12H115.28V295.32H113.09ZM119.49 293.12H123.82V295.32H119.49ZM149.37 293.12H151.56V295.32H149.37ZM172.85 293.12H175.04V295.32H172.85ZM113.09 295.26H117.42V297.47H113.09ZM119.49 295.26H123.82V297.47H119.49ZM142.97 295.26H149.43V297.47H142.97ZM170.71 295.26H172.91V297.47H170.71ZM108.82 297.41H111.01V299.61H108.82ZM132.3 297.41H134.49V299.61H132.3ZM136.56 297.41H138.76V299.61H136.56ZM140.83 297.41H149.43V299.61H140.83ZM123.76 299.55H128.09V301.76H123.76ZM162.18 299.55H164.37V301.76H162.18Z" fill="#ffff00"/>
<path d="M153.64 166.5H155.83V168.71H153.64ZM134.43 168.65H138.76V170.85H134.43ZM151.5 168.65H153.7V170.85H151.5ZM155.77 168.65H157.97V170.85H155.77ZM155.77 170.79H160.1V173H155.77ZM149.37 172.94H151.56V175.14H149.37ZM153.64 172.94H155.83V175.14H153.64ZM123.76 175.08H128.09V177.29H123.76ZM147.24 175.08H149.43V177.29H147.24ZM155.77 175.08H157.97V177.29H155.77ZM119.49 177.23H125.95V179.44H119.49ZM128.03 177.23H130.22V179.44H128.03ZM145.1 177.23H147.3V179.44H145.1ZM149.37 177.23H151.56V179.44H149.37ZM153.64 177.23H155.83V179.44H153.64ZM115.22 179.38H117.42V181.58H115.22ZM123.76 179.38H128.09V181.58H123.76ZM134.43 179.38H136.62V181.58H134.43ZM145.1 179.38H147.3V181.58H145.1ZM149.37 179.38H151.56V181.58H149.37ZM174.98 179.38H177.18V181.58H174.98ZM145.1 181.52H151.56V183.73H145.1ZM170.71 181.52H181.45V183.73H170.71ZM119.49 183.67H121.68V185.87H119.49ZM147.24 183.67H149.43V185.87H147.24ZM166.44 183.67H170.77V185.87H166.44ZM181.39 183.67H183.58V185.87H181.39ZM113.09 185.81H115.28V188.02H113.09ZM117.36 185.81H119.55V188.02H117.36ZM142.97 185.81H145.16V188.02H142.97ZM147.24 185.81H149.43V188.02H147.24ZM110.95 187.96H113.15V190.17H110.95ZM142.97 187.96H147.3V190.17H142.97ZM183.52 187.96H185.71V190.17H183.52ZM115.22 190.11H117.42V192.31H115.22ZM142.97 190.11H145.16V192.31H142.97ZM164.31 190.11H166.5V192.31H164.31ZM174.98 190.11H177.18V192.31H174.98ZM183.52 190.11H189.98V192.31H183.52ZM106.68 192.25H108.88V194.46H106.68ZM123.76 192.25H128.09V194.46H123.76ZM162.18 192.25H166.5V194.46H162.18ZM183.52 192.25H187.85V194.46H183.52ZM189.92 192.25H192.12V194.46H189.92ZM194.19 192.25H196.39V194.46H194.19ZM106.68 194.4H108.88V196.6H106.68ZM113.09 194.4H115.28V196.6H113.09ZM125.89 194.4H128.09V196.6H125.89ZM132.3 194.4H134.49V196.6H132.3ZM160.04 194.4H164.37V196.6H160.04ZM172.85 194.4H179.31V196.6H172.85ZM187.79 194.4H192.12V196.6H187.79ZM104.55 196.54H106.74V198.75H104.55ZM110.95 196.54H115.28V198.75H110.95ZM138.7 196.54H140.89V198.75H138.7ZM168.58 196.54H170.77V198.75H168.58ZM174.98 196.54H179.31V198.75H174.98ZM181.39 196.54H183.58V198.75H181.39ZM104.55 198.69H108.88V200.9H104.55ZM110.95 198.69H115.28V200.9H110.95ZM138.7 198.69H143.03V200.9H138.7ZM157.91 198.69H160.1V200.9H157.91ZM168.58 198.69H170.77V200.9H168.58ZM174.98 198.69H177.18V200.9H174.98ZM179.25 198.69H181.45V200.9H179.25ZM185.65 198.69H187.85V200.9H185.65ZM196.33 198.69H198.52V200.9H196.33ZM91.74 200.84H93.94V203.04H91.74ZM96.01 200.84H98.21V203.04H96.01ZM138.7 200.84H143.03V203.04H138.7ZM162.18 200.84H164.37V203.04H162.18ZM166.44 200.84H168.64V203.04H166.44ZM177.12 200.84H179.31V203.04H177.12ZM196.33 200.84H200.65V203.04H196.33ZM89.61 202.98H91.8V205.19H89.61ZM96.01 202.98H98.21V205.19H96.01ZM128.03 202.98H130.22V205.19H128.03ZM136.56 202.98H138.76V205.19H136.56ZM140.83 202.98H143.03V205.19H140.83ZM155.77 202.98H157.97V205.19H155.77ZM164.31 202.98H166.5V205.19H164.31ZM181.39 202.98H183.58V205.19H181.39ZM196.33 202.98H198.52V205.19H196.33ZM87.47 205.13H89.67V207.33H87.47ZM100.28 205.13H104.61V207.33H100.28ZM125.89 205.13H136.62V207.33H125.89ZM153.64 205.13H155.83V207.33H153.64ZM164.31 205.13H166.5V207.33H164.31ZM177.12 205.13H181.45V207.33H177.12ZM196.33 205.13H198.52V207.33H196.33ZM85.34 207.27H87.53V209.48H85.34ZM110.95 207.27H115.28V209.48H110.95ZM130.16 207.27H134.49V209.48H130.16ZM153.64 207.27H155.83V209.48H153.64ZM164.31 207.27H166.5V209.48H164.31ZM172.85 207.27H177.18V209.48H172.85ZM179.25 207.27H181.45V209.48H179.25ZM85.34 209.42H87.53V211.63H85.34ZM110.95 209.42H113.15V211.63H110.95ZM128.03 209.42H130.22V211.63H128.03ZM132.3 209.42H134.49V211.63H132.3ZM164.31 209.42H166.5V211.63H164.31ZM174.98 209.42H179.31V211.63H174.98ZM194.19 209.42H196.39V211.63H194.19ZM85.34 211.57H87.53V213.77H85.34ZM128.03 211.57H130.22V213.77H128.03ZM172.85 211.57H177.18V213.77H172.85ZM108.82 213.71H111.01V215.92H108.82ZM119.49 213.71H121.68V215.92H119.49ZM128.03 213.71H130.22V215.92H128.03ZM89.61 215.86H91.8V218.06H89.61ZM149.37 215.86H151.56V218.06H149.37ZM160.04 215.86H162.24V218.06H160.04ZM91.74 218H100.34V220.21H91.74ZM119.49 218H128.09V220.21H119.49ZM149.37 218H151.56V220.21H149.37ZM168.58 218H170.77V220.21H168.58ZM189.92 218H192.12V220.21H189.92ZM96.01 220.15H100.34V222.36H96.01ZM117.36 220.15H119.55V222.36H117.36ZM123.76 220.15H125.95V222.36H123.76ZM149.37 220.15H151.56V222.36H149.37ZM157.91 220.15H160.1V222.36H157.91ZM164.31 220.15H166.5V222.36H164.31ZM168.58 220.15H170.77V222.36H168.58ZM96.01 222.3H98.21V224.5H96.01ZM104.55 222.3H106.74V224.5H104.55ZM115.22 222.3H117.42V224.5H115.22ZM125.89 222.3H128.09V224.5H125.89ZM153.64 222.3H155.83V224.5H153.64ZM157.91 222.3H166.5V224.5H157.91ZM187.79 222.3H189.98V224.5H187.79ZM196.33 222.3H198.52V224.5H196.33ZM93.88 224.44H96.07V226.65H93.88ZM108.82 224.44H115.28V226.65H108.82ZM125.89 224.44H132.36V226.65H125.89ZM147.24 224.44H149.43V226.65H147.24ZM153.64 224.44H155.83V226.65H153.64ZM160.04 224.44H166.5V226.65H160.04ZM198.46 224.44H200.65V226.65H198.46ZM204.86 224.44H207.06V226.65H204.86ZM91.74 226.59H96.07V228.79H91.74ZM102.41 226.59H104.61V228.79H102.41ZM157.91 226.59H160.1V228.79H157.91ZM162.18 226.59H164.37V228.79H162.18ZM187.79 226.59H189.98V228.79H187.79ZM194.19 226.59H198.52V228.79H194.19ZM202.73 226.59H204.92V228.79H202.73ZM91.74 228.73H98.21V230.94H91.74ZM100.28 228.73H102.47V230.94H100.28ZM104.55 228.73H106.74V230.94H104.55ZM123.76 228.73H125.95V230.94H123.76ZM151.5 228.73H153.7V230.94H151.5ZM157.91 228.73H162.24V230.94H157.91ZM174.98 228.73H177.18V230.94H174.98ZM189.92 228.73H196.39V230.94H189.92ZM202.73 228.73H204.92V230.94H202.73ZM209.13 228.73H211.33V230.94H209.13ZM89.61 230.88H91.8V233.09H89.61ZM98.15 230.88H104.61V233.09H98.15ZM106.68 230.88H108.88V233.09H106.68ZM123.76 230.88H125.95V233.09H123.76ZM132.3 230.88H134.49V233.09H132.3ZM192.06 230.88H194.25V233.09H192.06ZM202.73 230.88H204.92V233.09H202.73ZM89.61 233.03H91.8V235.23H89.61ZM106.68 233.03H113.15V235.23H106.68ZM209.13 233.03H211.33V235.23H209.13ZM89.61 235.17H91.8V237.38H89.61ZM110.95 235.17H113.15V237.38H110.95ZM121.62 235.17H130.22V237.38H121.62ZM134.43 235.17H136.62V237.38H134.43ZM149.37 235.17H151.56V237.38H149.37ZM157.91 235.17H160.1V237.38H157.91ZM170.71 235.17H172.91V237.38H170.71ZM187.79 235.17H189.98V237.38H187.79ZM98.15 237.32H100.34V239.53H98.15ZM117.36 237.32H121.68V239.53H117.36ZM128.03 237.32H130.22V239.53H128.03ZM147.24 237.32H153.7V239.53H147.24ZM160.04 237.32H162.24V239.53H160.04ZM189.92 237.32H192.12V239.53H189.92ZM87.47 239.47H91.8V241.67H87.47ZM98.15 239.47H100.34V241.67H98.15ZM110.95 239.47H113.15V241.67H110.95ZM117.36 239.47H119.55V241.67H117.36ZM149.37 239.47H155.83V241.67H149.37ZM183.52 239.47H187.85V241.67H183.52ZM192.06 239.47H196.39V241.67H192.06ZM85.34 241.61H87.53V243.82H85.34ZM106.68 241.61H111.01V243.82H106.68ZM117.36 241.61H123.82V243.82H117.36ZM138.7 241.61H143.03V243.82H138.7ZM145.1 241.61H151.56V243.82H145.1ZM153.64 241.61H155.83V243.82H153.64ZM183.52 241.61H185.71V243.82H183.52ZM189.92 241.61H194.25V243.82H189.92ZM85.34 243.76H87.53V245.96H85.34ZM98.15 243.76H100.34V245.96H98.15ZM117.36 243.76H121.68V245.96H117.36ZM151.5 243.76H153.7V245.96H151.5ZM183.52 243.76H185.71V245.96H183.52ZM189.92 243.76H192.12V245.96H189.92ZM194.19 243.76H196.39V245.96H194.19ZM87.47 245.9H89.67V248.11H87.47ZM98.15 245.9H102.47V248.11H98.15ZM104.55 245.9H106.74V248.11H104.55ZM138.7 245.9H140.89V248.11H138.7ZM142.97 245.9H145.16V248.11H142.97ZM151.5 245.9H155.83V248.11H151.5ZM170.71 245.9H172.91V248.11H170.71ZM179.25 245.9H181.45V248.11H179.25ZM187.79 245.9H189.98V248.11H187.79ZM194.19 245.9H196.39V248.11H194.19ZM85.34 248.05H87.53V250.26H85.34ZM115.22 248.05H117.42V250.26H115.22ZM138.7 248.05H140.89V250.26H138.7ZM168.58 248.05H172.91V250.26H168.58ZM177.12 248.05H179.31V250.26H177.12ZM185.65 248.05H187.85V250.26H185.65ZM93.88 250.2H98.21V252.4H93.88ZM110.95 250.2H113.15V252.4H110.95ZM115.22 250.2H117.42V252.4H115.22ZM172.85 250.2H175.04V252.4H172.85ZM177.12 250.2H179.31V252.4H177.12ZM181.39 250.2H187.85V252.4H181.39ZM91.74 252.34H93.94V254.55H91.74ZM96.01 252.34H98.21V254.55H96.01ZM108.82 252.34H115.28V254.55H108.82ZM162.18 252.34H166.5V254.55H162.18ZM187.79 252.34H192.12V254.55H187.79ZM93.88 254.49H96.07V256.69H93.88ZM110.95 254.49H115.28V256.69H110.95ZM134.43 254.49H136.62V256.69H134.43ZM166.44 254.49H168.64V256.69H166.44ZM174.98 254.49H177.18V256.69H174.98ZM185.65 254.49H187.85V256.69H185.65ZM189.92 254.49H192.12V256.69H189.92ZM194.19 254.49H196.39V256.69H194.19ZM93.88 256.63H96.07V258.84H93.88ZM125.89 256.63H128.09V258.84H125.89ZM153.64 256.63H155.83V258.84H153.64ZM166.44 256.63H170.77V258.84H166.44ZM172.85 256.63H175.04V258.84H172.85ZM194.19 256.63H196.39V258.84H194.19ZM113.09 258.78H115.28V260.99H113.09ZM125.89 258.78H128.09V260.99H125.89ZM132.3 258.78H134.49V260.99H132.3ZM140.83 258.78H143.03V260.99H140.83ZM168.58 258.78H172.91V260.99H168.58ZM174.98 258.78H177.18V260.99H174.98ZM198.46 258.78H200.65V260.99H198.46ZM132.3 260.93H134.49V263.13H132.3ZM138.7 260.93H140.89V263.13H138.7ZM142.97 260.93H145.16V263.13H142.97ZM170.71 260.93H172.91V263.13H170.71ZM192.06 260.93H194.25V263.13H192.06ZM196.33 260.93H198.52V263.13H196.33ZM104.55 263.07H108.88V265.28H104.55ZM132.3 263.07H134.49V265.28H132.3ZM136.56 263.07H138.76V265.28H136.56ZM142.97 263.07H145.16V265.28H142.97ZM149.37 263.07H157.97V265.28H149.37ZM164.31 263.07H166.5V265.28H164.31ZM168.58 263.07H172.91V265.28H168.58ZM183.52 263.07H185.71V265.28H183.52ZM194.19 263.07H196.39V265.28H194.19ZM121.62 265.22H123.82V267.42H121.62ZM132.3 265.22H134.49V267.42H132.3ZM138.7 265.22H140.89V267.42H138.7ZM142.97 265.22H145.16V267.42H142.97ZM147.24 265.22H157.97V267.42H147.24ZM170.71 265.22H175.04V267.42H170.71ZM192.06 265.22H194.25V267.42H192.06ZM119.49 267.36H123.82V269.57H119.49ZM132.3 267.36H134.49V269.57H132.3ZM140.83 267.36H143.03V269.57H140.83ZM147.24 267.36H149.43V269.57H147.24ZM155.77 267.36H157.97V269.57H155.77ZM162.18 267.36H164.37V269.57H162.18ZM177.12 267.36H181.45V269.57H177.12ZM192.06 267.36H194.25V269.57H192.06ZM198.46 267.36H200.65V269.57H198.46ZM108.82 269.51H111.01V271.72H108.82ZM119.49 269.51H121.68V271.72H119.49ZM132.3 269.51H134.49V271.72H132.3ZM153.64 269.51H155.83V271.72H153.64ZM160.04 269.51H162.24V271.72H160.04ZM179.25 269.51H181.45V271.72H179.25ZM183.52 269.51H185.71V271.72H183.52ZM189.92 269.51H194.25V271.72H189.92ZM108.82 271.66H111.01V273.86H108.82ZM130.16 271.66H132.36V273.86H130.16ZM136.56 271.66H140.89V273.86H136.56ZM145.1 271.66H147.3V273.86H145.1ZM151.5 271.66H153.7V273.86H151.5ZM166.44 271.66H168.64V273.86H166.44ZM170.71 271.66H172.91V273.86H170.71ZM174.98 271.66H179.31V273.86H174.98ZM183.52 271.66H185.71V273.86H183.52ZM189.92 271.66H192.12V273.86H189.92ZM196.33 271.66H198.52V273.86H196.33ZM108.82 273.8H111.01V276.01H108.82ZM128.03 273.8H130.22V276.01H128.03ZM138.7 273.8H140.89V276.01H138.7ZM145.1 273.8H153.7V276.01H145.1ZM157.91 273.8H160.1V276.01H157.91ZM168.58 273.8H170.77V276.01H168.58ZM181.39 273.8H187.85V276.01H181.39ZM189.92 273.8H192.12V276.01H189.92ZM106.68 275.95H111.01V278.15H106.68ZM142.97 275.95H147.3V278.15H142.97ZM149.37 275.95H153.7V278.15H149.37ZM155.77 275.95H157.97V278.15H155.77ZM174.98 275.95H177.18V278.15H174.98ZM183.52 275.95H187.85V278.15H183.52ZM189.92 275.95H192.12V278.15H189.92ZM106.68 278.09H108.88V280.3H106.68ZM125.89 278.09H128.09V280.3H125.89ZM138.7 278.09H145.16V280.3H138.7ZM147.24 278.09H149.43V280.3H147.24ZM151.5 278.09H155.83V280.3H151.5ZM168.58 278.09H170.77V280.3H168.58ZM172.85 278.09H175.04V280.3H172.85ZM183.52 278.09H185.71V280.3H183.52ZM189.92 278.09H192.12V280.3H189.92ZM125.89 280.24H128.09V282.45H125.89ZM138.7 280.24H140.89V282.45H138.7ZM142.97 280.24H145.16V282.45H142.97ZM183.52 280.24H185.71V282.45H183.52ZM189.92 280.24H192.12V282.45H189.92ZM123.76 282.39H125.95V284.59H123.76ZM138.7 282.39H140.89V284.59H138.7ZM149.37 282.39H151.56V284.59H149.37ZM153.64 282.39H157.97V284.59H153.64ZM160.04 282.39H162.24V284.59H160.04ZM168.58 282.39H170.77V284.59H168.58ZM183.52 282.39H185.71V284.59H183.52ZM189.92 282.39H192.12V284.59H189.92ZM106.68 284.53H108.88V286.74H106.68ZM123.76 284.53H125.95V286.74H123.76ZM134.43 284.53H138.76V286.74H134.43ZM151.5 284.53H153.7V286.74H151.5ZM155.77 284.53H157.97V286.74H155.77ZM160.04 284.53H162.24V286.74H160.04ZM183.52 284.53H187.85V286.74H183.52ZM121.62 286.68H123.82V288.88H121.62ZM136.56 286.68H140.89V288.88H136.56ZM147.24 286.68H149.43V288.88H147.24ZM181.39 286.68H183.58V288.88H181.39ZM121.62 288.82H123.82V291.03H121.62ZM130.16 288.82H132.36V291.03H130.16ZM136.56 288.82H138.76V291.03H136.56ZM151.5 288.82H153.7V291.03H151.5ZM168.58 288.82H170.77V291.03H168.58ZM181.39 288.82H183.58V291.03H181.39ZM106.68 290.97H108.88V293.18H106.68ZM117.36 290.97H119.55V293.18H117.36ZM151.5 290.97H153.7V293.18H151.5ZM162.18 290.97H164.37V293.18H162.18ZM168.58 290.97H172.91V293.18H168.58ZM179.25 290.97H181.45V293.18H179.25ZM108.82 293.12H111.01V295.32H108.82ZM117.36 293.12H119.55V295.32H117.36ZM123.76 293.12H128.09V295.32H123.76ZM142.97 293.12H145.16V295.32H142.97ZM162.18 293.12H164.37V295.32H162.18ZM170.71 293.12H172.91V295.32H170.71ZM108.82 295.26H113.15V297.47H108.82ZM123.76 295.26H125.95V297.47H123.76ZM140.83 295.26H143.03V297.47H140.83ZM168.58 295.26H170.77V297.47H168.58ZM123.76 297.41H125.95V299.61H123.76ZM130.16 297.41H132.36V299.61H130.16ZM138.7 297.41H140.89V299.61H138.7ZM164.31 297.41H166.5V299.61H164.31Z" fill="#a0d800"/>
<path d="M153.64 168.65H155.83V170.85H153.64ZM134.43 170.79H136.62V173H134.43ZM151.5 170.79H155.83V173H151.5ZM151.5 172.94H153.7V175.14H151.5ZM155.77 172.94H157.97V175.14H155.77ZM149.37 175.08H155.83V177.29H149.37ZM125.89 177.23H128.09V179.44H125.89ZM117.36 179.38H121.68V181.58H117.36ZM147.24 179.38H149.43V181.58H147.24ZM115.22 181.52H117.42V183.73H115.22ZM119.49 181.52H121.68V183.73H119.49ZM145.1 183.67H147.3V185.87H145.1ZM170.71 183.67H172.91V185.87H170.71ZM177.12 183.67H181.45V185.87H177.12ZM115.22 185.81H117.42V188.02H115.22ZM145.1 185.81H147.3V188.02H145.1ZM166.44 185.81H170.77V188.02H166.44ZM181.39 185.81H183.58V188.02H181.39ZM115.22 187.96H117.42V190.17H115.22ZM174.98 187.96H177.18V190.17H174.98ZM108.82 190.11H111.01V192.31H108.82ZM162.18 190.11H164.37V192.31H162.18ZM172.85 190.11H175.04V192.31H172.85ZM177.12 190.11H179.31V192.31H177.12ZM181.39 190.11H183.58V192.31H181.39ZM113.09 192.25H115.28V194.46H113.09ZM172.85 192.25H183.58V194.46H172.85ZM192.06 192.25H194.25V194.46H192.06ZM108.82 194.4H113.15V196.6H108.82ZM164.31 194.4H166.5V196.6H164.31ZM170.71 194.4H172.91V196.6H170.71ZM181.39 194.4H183.58V196.6H181.39ZM194.19 194.4H196.39V196.6H194.19ZM106.68 196.54H111.01V198.75H106.68ZM164.31 196.54H166.5V198.75H164.31ZM170.71 196.54H175.04V198.75H170.71ZM187.79 196.54H189.98V198.75H187.79ZM194.19 196.54H196.39V198.75H194.19ZM108.82 198.69H111.01V200.9H108.82ZM164.31 198.69H168.64V200.9H164.31ZM170.71 198.69H175.04V200.9H170.71ZM177.12 198.69H179.31V200.9H177.12ZM93.88 200.84H96.07V203.04H93.88ZM104.55 200.84H115.28V203.04H104.55ZM164.31 200.84H166.5V203.04H164.31ZM168.58 200.84H177.18V203.04H168.58ZM192.06 200.84H196.39V203.04H192.06ZM91.74 202.98H93.94V205.19H91.74ZM104.55 202.98H108.88V205.19H104.55ZM113.09 202.98H115.28V205.19H113.09ZM138.7 202.98H140.89V205.19H138.7ZM166.44 202.98H170.77V205.19H166.44ZM177.12 202.98H179.31V205.19H177.12ZM183.52 202.98H185.71V205.19H183.52ZM189.92 202.98H192.12V205.19H189.92ZM89.61 205.13H91.8V207.33H89.61ZM93.88 205.13H100.34V207.33H93.88ZM104.55 205.13H106.74V207.33H104.55ZM110.95 205.13H115.28V207.33H110.95ZM136.56 205.13H138.76V207.33H136.56ZM140.83 205.13H143.03V207.33H140.83ZM172.85 205.13H175.04V207.33H172.85ZM181.39 205.13H183.58V207.33H181.39ZM194.19 205.13H196.39V207.33H194.19ZM87.47 207.27H89.67V209.48H87.47ZM100.28 207.27H102.47V209.48H100.28ZM134.43 207.27H136.62V209.48H134.43ZM194.19 207.27H196.39V209.48H194.19ZM87.47 209.42H89.67V211.63H87.47ZM130.16 209.42H132.36V211.63H130.16ZM134.43 209.42H136.62V211.63H134.43ZM170.71 209.42H175.04V211.63H170.71ZM179.25 209.42H181.45V211.63H179.25ZM87.47 211.57H93.94V213.77H87.47ZM100.28 211.57H104.61V213.77H100.28ZM108.82 211.57H111.01V213.77H108.82ZM130.16 211.57H134.49V213.77H130.16ZM164.31 211.57H166.5V213.77H164.31ZM168.58 211.57H172.91V213.77H168.58ZM177.12 211.57H179.31V213.77H177.12ZM192.06 211.57H194.25V213.77H192.06ZM89.61 213.71H91.8V215.92H89.61ZM98.15 213.71H104.61V215.92H98.15ZM130.16 213.71H134.49V215.92H130.16ZM162.18 213.71H164.37V215.92H162.18ZM172.85 213.71H179.31V215.92H172.85ZM189.92 213.71H192.12V215.92H189.92ZM91.74 215.86H96.07V218.06H91.74ZM98.15 215.86H102.47V218.06H98.15ZM128.03 215.86H130.22V218.06H128.03ZM162.18 215.86H164.37V218.06H162.18ZM170.71 215.86H172.91V218.06H170.71ZM189.92 215.86H192.12V218.06H189.92ZM100.28 218H102.47V220.21H100.28ZM104.55 218H106.74V220.21H104.55ZM128.03 218H130.22V220.21H128.03ZM134.43 218H136.62V220.21H134.43ZM147.24 218H149.43V220.21H147.24ZM160.04 218H168.64V220.21H160.04ZM170.71 218H172.91V220.21H170.71ZM100.28 220.15H102.47V222.36H100.28ZM104.55 220.15H106.74V222.36H104.55ZM119.49 220.15H123.82V222.36H119.49ZM128.03 220.15H134.49V222.36H128.03ZM160.04 220.15H164.37V222.36H160.04ZM166.44 220.15H168.64V222.36H166.44ZM187.79 220.15H189.98V222.36H187.79ZM98.15 222.3H100.34V224.5H98.15ZM117.36 222.3H125.95V224.5H117.36ZM128.03 222.3H134.49V224.5H128.03ZM145.1 222.3H149.43V224.5H145.1ZM166.44 222.3H170.77V224.5H166.44ZM96.01 224.44H98.21V226.65H96.01ZM115.22 224.44H117.42V226.65H115.22ZM119.49 224.44H125.95V226.65H119.49ZM145.1 224.44H147.3V226.65H145.1ZM166.44 224.44H168.64V226.65H166.44ZM177.12 224.44H185.71V226.65H177.12ZM196.33 224.44H198.52V226.65H196.33ZM209.13 224.44H211.33V226.65H209.13ZM96.01 226.59H98.21V228.79H96.01ZM106.68 226.59H115.28V228.79H106.68ZM121.62 226.59H125.95V228.79H121.62ZM153.64 226.59H155.83V228.79H153.64ZM160.04 226.59H162.24V228.79H160.04ZM164.31 226.59H166.5V228.79H164.31ZM174.98 226.59H177.18V228.79H174.98ZM204.86 226.59H207.06V228.79H204.86ZM209.13 226.59H211.33V228.79H209.13ZM98.15 228.73H100.34V230.94H98.15ZM106.68 228.73H115.28V230.94H106.68ZM121.62 228.73H123.82V230.94H121.62ZM153.64 228.73H157.97V230.94H153.64ZM162.18 228.73H164.37V230.94H162.18ZM207 228.73H209.19V230.94H207ZM91.74 230.88H93.94V233.09H91.74ZM104.55 230.88H106.74V233.09H104.55ZM108.82 230.88H111.01V233.09H108.82ZM113.09 230.88H115.28V233.09H113.09ZM121.62 230.88H123.82V233.09H121.62ZM151.5 230.88H164.37V233.09H151.5ZM172.85 230.88H175.04V233.09H172.85ZM204.86 230.88H209.19V233.09H204.86ZM100.28 233.03H106.74V235.23H100.28ZM113.09 233.03H115.28V235.23H113.09ZM119.49 233.03H123.82V235.23H119.49ZM151.5 233.03H162.24V235.23H151.5ZM100.28 235.17H111.01V237.38H100.28ZM113.09 235.17H115.28V237.38H113.09ZM119.49 235.17H121.68V237.38H119.49ZM151.5 235.17H157.97V237.38H151.5ZM160.04 235.17H164.37V237.38H160.04ZM100.28 237.32H115.28V239.53H100.28ZM123.76 237.32H128.09V239.53H123.76ZM134.43 237.32H136.62V239.53H134.43ZM153.64 237.32H155.83V239.53H153.64ZM157.91 237.32H160.1V239.53H157.91ZM168.58 237.32H170.77V239.53H168.58ZM187.79 237.32H189.98V239.53H187.79ZM100.28 239.47H104.61V241.67H100.28ZM106.68 239.47H111.01V241.67H106.68ZM123.76 239.47H128.09V241.67H123.76ZM134.43 239.47H136.62V241.67H134.43ZM147.24 239.47H149.43V241.67H147.24ZM155.77 239.47H160.1V241.67H155.77ZM168.58 239.47H170.77V241.67H168.58ZM187.79 239.47H192.12V241.67H187.79ZM87.47 241.61H89.67V243.82H87.47ZM98.15 241.61H102.47V243.82H98.15ZM104.55 241.61H106.74V243.82H104.55ZM110.95 241.61H113.15V243.82H110.95ZM115.22 241.61H117.42V243.82H115.22ZM123.76 241.61H125.95V243.82H123.76ZM136.56 241.61H138.76V243.82H136.56ZM155.77 241.61H157.97V243.82H155.77ZM168.58 241.61H170.77V243.82H168.58ZM185.65 241.61H189.98V243.82H185.65ZM87.47 243.76H89.67V245.96H87.47ZM100.28 243.76H102.47V245.96H100.28ZM104.55 243.76H106.74V245.96H104.55ZM110.95 243.76H113.15V245.96H110.95ZM121.62 243.76H123.82V245.96H121.62ZM134.43 243.76H140.89V245.96H134.43ZM145.1 243.76H147.3V245.96H145.1ZM149.37 243.76H151.56V245.96H149.37ZM155.77 243.76H157.97V245.96H155.77ZM166.44 243.76H170.77V245.96H166.44ZM187.79 243.76H189.98V245.96H187.79ZM192.06 243.76H194.25V245.96H192.06ZM85.34 245.9H87.53V248.11H85.34ZM102.41 245.9H104.61V248.11H102.41ZM110.95 245.9H113.15V248.11H110.95ZM115.22 245.9H119.55V248.11H115.22ZM168.58 245.9H170.77V248.11H168.58ZM181.39 245.9H187.85V248.11H181.39ZM192.06 245.9H194.25V248.11H192.06ZM110.95 248.05H115.28V250.26H110.95ZM145.1 248.05H147.3V250.26H145.1ZM151.5 248.05H155.83V250.26H151.5ZM164.31 248.05H168.64V250.26H164.31ZM179.25 248.05H185.71V250.26H179.25ZM113.09 250.2H115.28V252.4H113.09ZM136.56 250.2H138.76V252.4H136.56ZM162.18 250.2H172.91V252.4H162.18ZM174.98 250.2H177.18V252.4H174.98ZM93.88 252.34H96.07V254.55H93.88ZM134.43 252.34H136.62V254.55H134.43ZM155.77 252.34H162.24V254.55H155.77ZM166.44 252.34H177.18V254.55H166.44ZM125.89 254.49H128.09V256.69H125.89ZM153.64 254.49H155.83V256.69H153.64ZM168.58 254.49H175.04V256.69H168.58ZM187.79 254.49H189.98V256.69H187.79ZM192.06 254.49H194.25V256.69H192.06ZM113.09 256.63H115.28V258.84H113.09ZM128.03 256.63H134.49V258.84H128.03ZM142.97 256.63H147.3V258.84H142.97ZM151.5 256.63H153.7V258.84H151.5ZM170.71 256.63H172.91V258.84H170.71ZM189.92 256.63H194.25V258.84H189.92ZM128.03 258.78H132.36V260.99H128.03ZM142.97 258.78H145.16V260.99H142.97ZM149.37 258.78H151.56V260.99H149.37ZM183.52 258.78H185.71V260.99H183.52ZM192.06 258.78H194.25V260.99H192.06ZM123.76 260.93H125.95V263.13H123.76ZM128.03 260.93H132.36V263.13H128.03ZM140.83 260.93H143.03V263.13H140.83ZM183.52 260.93H187.85V263.13H183.52ZM198.46 260.93H202.79V263.13H198.46ZM121.62 263.07H128.09V265.28H121.62ZM130.16 263.07H132.36V265.28H130.16ZM138.7 263.07H143.03V265.28H138.7ZM145.1 263.07H149.43V265.28H145.1ZM185.65 263.07H187.85V265.28H185.65ZM196.33 263.07H202.79V265.28H196.33ZM110.95 265.22H113.15V267.42H110.95ZM123.76 265.22H130.22V267.42H123.76ZM145.1 265.22H147.3V267.42H145.1ZM189.92 265.22H192.12V267.42H189.92ZM194.19 265.22H196.39V267.42H194.19ZM198.46 265.22H200.65V267.42H198.46ZM123.76 267.36H125.95V269.57H123.76ZM142.97 267.36H145.16V269.57H142.97ZM149.37 267.36H155.83V269.57H149.37ZM164.31 267.36H166.5V269.57H164.31ZM189.92 267.36H192.12V269.57H189.92ZM194.19 267.36H196.39V269.57H194.19ZM117.36 269.51H119.55V271.72H117.36ZM121.62 269.51H123.82V271.72H121.62ZM147.24 269.51H153.7V271.72H147.24ZM162.18 269.51H166.5V271.72H162.18ZM177.12 269.51H179.31V271.72H177.12ZM196.33 269.51H198.52V271.72H196.33ZM117.36 271.66H121.68V273.86H117.36ZM147.24 271.66H151.56V273.86H147.24ZM160.04 271.66H162.24V273.86H160.04ZM164.31 271.66H166.5V273.86H164.31ZM185.65 271.66H189.98V273.86H185.65ZM192.06 271.66H194.25V273.86H192.06ZM140.83 273.8H145.16V276.01H140.83ZM164.31 273.8H168.64V276.01H164.31ZM174.98 273.8H177.18V276.01H174.98ZM187.79 273.8H189.98V276.01H187.79ZM192.06 273.8H196.39V276.01H192.06ZM125.89 275.95H128.09V278.15H125.89ZM138.7 275.95H143.03V278.15H138.7ZM157.91 275.95H160.1V278.15H157.91ZM164.31 275.95H168.64V278.15H164.31ZM187.79 275.95H189.98V278.15H187.79ZM192.06 275.95H194.25V278.15H192.06ZM108.82 278.09H111.01V280.3H108.82ZM145.1 278.09H147.3V280.3H145.1ZM149.37 278.09H151.56V280.3H149.37ZM155.77 278.09H157.97V280.3H155.77ZM166.44 278.09H168.64V280.3H166.44ZM185.65 278.09H187.85V280.3H185.65ZM192.06 278.09H194.25V280.3H192.06ZM145.1 280.24H149.43V282.45H145.1ZM151.5 280.24H164.37V282.45H151.5ZM166.44 280.24H168.64V282.45H166.44ZM185.65 280.24H189.98V282.45H185.65ZM108.82 282.39H111.01V284.59H108.82ZM119.49 282.39H123.82V284.59H119.49ZM140.83 282.39H143.03V284.59H140.83ZM145.1 282.39H149.43V284.59H145.1ZM157.91 282.39H160.1V284.59H157.91ZM162.18 282.39H164.37V284.59H162.18ZM166.44 282.39H168.64V284.59H166.44ZM185.65 282.39H189.98V284.59H185.65ZM108.82 284.53H111.01V286.74H108.82ZM121.62 284.53H123.82V286.74H121.62ZM140.83 284.53H143.03V286.74H140.83ZM147.24 284.53H149.43V286.74H147.24ZM153.64 284.53H155.83V286.74H153.64ZM157.91 284.53H160.1V286.74H157.91ZM162.18 284.53H164.37V286.74H162.18ZM166.44 284.53H170.77V286.74H166.44ZM106.68 286.68H111.01V288.88H106.68ZM119.49 286.68H121.68V288.88H119.49ZM134.43 286.68H136.62V288.88H134.43ZM153.64 286.68H162.24V288.88H153.64ZM168.58 286.68H170.77V288.88H168.58ZM106.68 288.82H108.88V291.03H106.68ZM115.22 288.82H121.68V291.03H115.22ZM132.3 288.82H136.62V291.03H132.3ZM145.1 288.82H147.3V291.03H145.1ZM153.64 288.82H155.83V291.03H153.64ZM157.91 288.82H164.37V291.03H157.91ZM108.82 290.97H111.01V293.18H108.82ZM115.22 290.97H117.42V293.18H115.22ZM128.03 290.97H130.22V293.18H128.03ZM132.3 290.97H136.62V293.18H132.3ZM160.04 290.97H162.24V293.18H160.04ZM164.31 290.97H166.5V293.18H164.31ZM115.22 293.12H117.42V295.32H115.22ZM140.83 293.12H143.03V295.32H140.83ZM151.5 293.12H153.7V295.32H151.5ZM160.04 293.12H162.24V295.32H160.04ZM164.31 293.12H166.5V295.32H164.31ZM168.58 293.12H170.77V295.32H168.58ZM134.43 295.26H140.89V297.47H134.43ZM149.37 295.26H151.56V297.47H149.37ZM160.04 295.26H164.37V297.47H160.04ZM166.44 295.26H168.64V297.47H166.44ZM125.89 297.41H128.09V299.61H125.89ZM149.37 297.41H151.56V299.61H149.37ZM153.64 297.41H164.37V299.61H153.64Z" fill="#38a800"/>
<path d="M147.24 177.23H149.43V179.44H147.24ZM117.36 181.52H119.55V183.73H117.36ZM115.22 183.67H119.55V185.87H115.22ZM172.85 183.67H177.18V185.87H172.85ZM164.31 185.81H166.5V188.02H164.31ZM170.71 185.81H181.45V188.02H170.71ZM113.09 187.96H115.28V190.17H113.09ZM164.31 187.96H175.04V190.17H164.31ZM177.12 187.96H183.58V190.17H177.12ZM110.95 190.11H115.28V192.31H110.95ZM166.44 190.11H172.91V192.31H166.44ZM179.25 190.11H181.45V192.31H179.25ZM108.82 192.25H113.15V194.46H108.82ZM166.44 192.25H172.91V194.46H166.44ZM166.44 194.4H170.77V196.6H166.44ZM179.25 194.4H181.45V196.6H179.25ZM192.06 194.4H194.25V196.6H192.06ZM166.44 196.54H168.64V198.75H166.44ZM179.25 196.54H181.45V198.75H179.25ZM189.92 196.54H194.25V198.75H189.92ZM187.79 198.69H196.39V200.9H187.79ZM185.65 200.84H192.12V203.04H185.65ZM93.88 202.98H96.07V205.19H93.88ZM108.82 202.98H113.15V205.19H108.82ZM170.71 202.98H177.18V205.19H170.71ZM185.65 202.98H189.98V205.19H185.65ZM192.06 202.98H196.39V205.19H192.06ZM91.74 205.13H93.94V207.33H91.74ZM106.68 205.13H111.01V207.33H106.68ZM138.7 205.13H140.89V207.33H138.7ZM166.44 205.13H172.91V207.33H166.44ZM174.98 205.13H177.18V207.33H174.98ZM183.52 205.13H194.25V207.33H183.52ZM89.61 207.27H100.34V209.48H89.61ZM102.41 207.27H111.01V209.48H102.41ZM136.56 207.27H140.89V209.48H136.56ZM166.44 207.27H172.91V209.48H166.44ZM181.39 207.27H194.25V209.48H181.39ZM89.61 209.42H111.01V211.63H89.61ZM136.56 209.42H140.89V211.63H136.56ZM166.44 209.42H170.77V211.63H166.44ZM181.39 209.42H194.25V211.63H181.39ZM93.88 211.57H100.34V213.77H93.88ZM104.55 211.57H108.88V213.77H104.55ZM134.43 211.57H138.76V213.77H134.43ZM166.44 211.57H168.64V213.77H166.44ZM179.25 211.57H192.12V213.77H179.25ZM91.74 213.71H98.21V215.92H91.74ZM104.55 213.71H108.88V215.92H104.55ZM134.43 213.71H138.76V215.92H134.43ZM164.31 213.71H172.91V215.92H164.31ZM179.25 213.71H189.98V215.92H179.25ZM96.01 215.86H98.21V218.06H96.01ZM102.41 215.86H108.88V218.06H102.41ZM130.16 215.86H136.62V218.06H130.16ZM164.31 215.86H170.77V218.06H164.31ZM172.85 215.86H189.98V218.06H172.85ZM102.41 218H104.61V220.21H102.41ZM130.16 218H134.49V220.21H130.16ZM172.85 218H189.98V220.21H172.85ZM102.41 220.15H104.61V222.36H102.41ZM147.24 220.15H149.43V222.36H147.24ZM170.71 220.15H187.85V222.36H170.71ZM100.28 222.3H104.61V224.5H100.28ZM170.71 222.3H187.85V224.5H170.71ZM98.15 224.44H104.61V226.65H98.15ZM117.36 224.44H119.55V226.65H117.36ZM168.58 224.44H177.18V226.65H168.58ZM207 224.44H209.19V226.65H207ZM98.15 226.59H102.47V228.79H98.15ZM115.22 226.59H121.68V228.79H115.22ZM166.44 226.59H175.04V228.79H166.44ZM207 226.59H209.19V228.79H207ZM115.22 228.73H121.68V230.94H115.22ZM164.31 228.73H175.04V230.94H164.31ZM204.86 228.73H207.06V230.94H204.86ZM110.95 230.88H113.15V233.09H110.95ZM115.22 230.88H121.68V233.09H115.22ZM164.31 230.88H172.91V233.09H164.31ZM115.22 233.03H119.55V235.23H115.22ZM162.18 233.03H172.91V235.23H162.18ZM115.22 235.17H119.55V237.38H115.22ZM164.31 235.17H170.77V237.38H164.31ZM115.22 237.32H117.42V239.53H115.22ZM155.77 237.32H157.97V239.53H155.77ZM162.18 237.32H168.64V239.53H162.18ZM104.55 239.47H106.74V241.67H104.55ZM113.09 239.47H117.42V241.67H113.09ZM132.3 239.47H134.49V241.67H132.3ZM160.04 239.47H168.64V241.67H160.04ZM102.41 241.61H104.61V243.82H102.41ZM113.09 241.61H115.28V243.82H113.09ZM125.89 241.61H128.09V243.82H125.89ZM132.3 241.61H136.62V243.82H132.3ZM157.91 241.61H168.64V243.82H157.91ZM102.41 243.76H104.61V245.96H102.41ZM113.09 243.76H117.42V245.96H113.09ZM123.76 243.76H125.95V245.96H123.76ZM130.16 243.76H134.49V245.96H130.16ZM147.24 243.76H149.43V245.96H147.24ZM157.91 243.76H166.5V245.96H157.91ZM185.65 243.76H187.85V245.96H185.65ZM113.09 245.9H115.28V248.11H113.09ZM119.49 245.9H128.09V248.11H119.49ZM130.16 245.9H138.76V248.11H130.16ZM145.1 245.9H151.56V248.11H145.1ZM155.77 245.9H168.64V248.11H155.77ZM117.36 248.05H125.95V250.26H117.36ZM128.03 248.05H138.76V250.26H128.03ZM147.24 248.05H151.56V250.26H147.24ZM155.77 248.05H164.37V250.26H155.77ZM117.36 250.2H125.95V252.4H117.36ZM128.03 250.2H136.62V252.4H128.03ZM145.1 250.2H162.24V252.4H145.1ZM115.22 252.34H123.82V254.55H115.22ZM125.89 252.34H134.49V254.55H125.89ZM145.1 252.34H155.83V254.55H145.1ZM115.22 254.49H121.68V256.69H115.22ZM128.03 254.49H134.49V256.69H128.03ZM145.1 254.49H153.7V256.69H145.1ZM115.22 256.63H119.55V258.84H115.22ZM123.76 256.63H125.95V258.84H123.76ZM147.24 256.63H151.56V258.84H147.24ZM185.65 256.63H189.98V258.84H185.65ZM115.22 258.78H121.68V260.99H115.22ZM123.76 258.78H125.95V260.99H123.76ZM145.1 258.78H149.43V260.99H145.1ZM185.65 258.78H192.12V260.99H185.65ZM113.09 260.93H117.42V263.13H113.09ZM121.62 260.93H123.82V263.13H121.62ZM125.89 260.93H128.09V263.13H125.89ZM145.1 260.93H149.43V263.13H145.1ZM187.79 260.93H192.12V263.13H187.79ZM113.09 263.07H117.42V265.28H113.09ZM128.03 263.07H130.22V265.28H128.03ZM187.79 263.07H192.12V265.28H187.79ZM113.09 265.22H115.28V267.42H113.09ZM119.49 265.22H121.68V267.42H119.49ZM130.16 265.22H132.36V267.42H130.16ZM185.65 265.22H189.98V267.42H185.65ZM196.33 265.22H198.52V267.42H196.33ZM110.95 267.36H115.28V269.57H110.95ZM125.89 267.36H132.36V269.57H125.89ZM145.1 267.36H147.3V269.57H145.1ZM185.65 267.36H189.98V269.57H185.65ZM196.33 267.36H198.52V269.57H196.33ZM110.95 269.51H113.15V271.72H110.95ZM123.76 269.51H132.36V271.72H123.76ZM140.83 269.51H147.3V271.72H140.83ZM185.65 269.51H189.98V271.72H185.65ZM194.19 269.51H196.39V271.72H194.19ZM110.95 271.66H113.15V273.86H110.95ZM115.22 271.66H117.42V273.86H115.22ZM121.62 271.66H130.22V273.86H121.62ZM140.83 271.66H145.16V273.86H140.83ZM162.18 271.66H164.37V273.86H162.18ZM194.19 271.66H196.39V273.86H194.19ZM115.22 273.8H128.09V276.01H115.22ZM160.04 273.8H164.37V276.01H160.04ZM113.09 275.95H125.95V278.15H113.09ZM160.04 275.95H164.37V278.15H160.04ZM113.09 278.09H125.95V280.3H113.09ZM157.91 278.09H166.5V280.3H157.91ZM187.79 278.09H189.98V280.3H187.79ZM110.95 280.24H125.95V282.45H110.95ZM149.37 280.24H151.56V282.45H149.37ZM164.31 280.24H166.5V282.45H164.31ZM110.95 282.39H119.55V284.59H110.95ZM142.97 282.39H145.16V284.59H142.97ZM164.31 282.39H166.5V284.59H164.31ZM110.95 284.53H121.68V286.74H110.95ZM142.97 284.53H147.3V286.74H142.97ZM164.31 284.53H166.5V286.74H164.31ZM110.95 286.68H119.55V288.88H110.95ZM140.83 286.68H147.3V288.88H140.83ZM162.18 286.68H168.64V288.88H162.18ZM108.82 288.82H115.28V291.03H108.82ZM138.7 288.82H145.16V291.03H138.7ZM155.77 288.82H157.97V291.03H155.77ZM164.31 288.82H168.64V291.03H164.31ZM110.95 290.97H115.28V293.18H110.95ZM130.16 290.97H132.36V293.18H130.16ZM136.56 290.97H145.16V293.18H136.56ZM153.64 290.97H160.1V293.18H153.64ZM166.44 290.97H168.64V293.18H166.44ZM110.95 293.12H113.15V295.32H110.95ZM128.03 293.12H140.89V295.32H128.03ZM153.64 293.12H160.1V295.32H153.64ZM166.44 293.12H168.64V295.32H166.44ZM125.89 295.26H134.49V297.47H125.89ZM151.5 295.26H160.1V297.47H151.5ZM164.31 295.26H166.5V297.47H164.31ZM128.03 297.41H130.22V299.61H128.03ZM151.5 297.41H153.7V299.61H151.5Z" fill="#007a00"/>
</g>
<path d="M123.76 166.5H160.04M117.36 168.65H166.44M113.09 170.79H170.71M110.95 172.94H174.98M108.82 175.08H179.25M104.55 177.23H181.39M102.41 179.38H183.52M98.15 181.52H185.65M96.01 183.67H189.92M93.88 185.81H192.06M91.74 187.96H194.19M87.47 190.11H196.33M85.34 192.25H198.46M83.21 194.4H200.59M81.07 196.54H200.59M78.94 198.69H202.73M78.94 200.84H204.86M76.8 202.98H204.86M74.67 205.13H207M74.67 207.27H207M74.67 209.42H209.13M72.53 211.57H209.13M72.53 213.71H209.13M72.53 215.86H211.27M72.53 218H211.27M70.4 220.15H211.27M70.4 222.3H211.27M70.4 224.44H213.4M70.4 226.59H213.4M70.4 228.73H213.4M70.4 230.88H213.4M70.4 233.03H213.4M70.4 235.17H213.4M70.4 237.32H213.4M70.4 239.47H213.4M70.4 241.61H213.4M70.4 243.76H211.27M70.4 245.9H211.27M70.4 248.05H211.27M70.4 250.2H209.13M72.53 252.34H209.13M72.53 254.49H207M72.53 256.63H207M72.53 258.78H207M72.53 260.93H204.86M74.67 263.07H204.86M74.67 265.22H204.86M76.8 267.36H202.73M76.8 269.51H202.73M78.94 271.66H202.73M78.94 273.8H200.59M81.07 275.95H200.59M81.07 278.09H200.59M83.21 280.24H198.46M85.34 282.39H196.33M87.47 284.53H194.19M89.61 286.68H194.19M91.74 288.82H192.06M93.88 290.97H189.92M96.01 293.12H185.65M100.28 295.26H183.52M102.41 297.41H179.25M108.82 299.55H172.85M113.09 301.7H166.44M70.4 220.15V250.2M72.53 211.57V260.93M74.67 205.13V265.22M76.8 202.98V269.51M78.94 198.69V273.8M81.07 196.54V278.09M83.21 194.4V280.24M85.34 192.25V282.39M87.47 190.11V284.53M89.61 190.11V286.68M91.74 187.96V288.82M93.88 185.81V290.97M96.01 183.67V293.12M98.15 181.52V293.12M100.28 181.52V295.26M102.41 179.38V297.41M104.55 177.23V297.41M106.68 177.23V297.41M108.82 175.08V299.55M110.95 172.94V299.55M113.09 170.79V301.7M115.22 170.79V301.7M117.36 168.65V301.7M119.49 168.65V301.7M121.62 168.65V301.7M123.76 166.5V301.7M125.89 166.5V301.7M128.03 166.5V301.7M130.16 166.5V301.7M132.3 166.5V301.7M134.43 166.5V301.7M136.56 166.5V301.7M138.7 166.5V301.7M140.83 166.5V301.7M142.97 166.5V301.7M145.1 166.5V301.7M147.24 166.5V301.7M149.37 166.5V301.7M151.5 166.5V301.7M153.64 166.5V301.7M155.77 166.5V301.7M157.91 166.5V301.7M160.04 166.5V301.7M162.18 168.65V301.7M164.31 168.65V301.7M166.44 168.65V301.7M168.58 170.79V299.55M170.71 170.79V299.55M172.85 172.94V299.55M174.98 172.94V297.41M177.12 175.08V297.41M179.25 175.08V297.41M181.39 177.23V295.26M183.52 179.38V295.26M185.65 181.52V293.12M187.79 183.67V290.97M189.92 183.67V290.97M192.06 185.81V288.82M194.19 187.96V286.68M196.33 190.11V282.39M198.46 192.25V280.24M200.59 194.4V278.09M202.73 198.69V271.66M204.86 200.84V265.22M207 205.13V258.78M209.13 209.42V252.34M211.27 215.86V248.05M213.4 224.44V241.61" fill="none" stroke="#000" stroke-opacity="0.42" stroke-width="0.85" shape-rendering="crispEdges"/>
<g filter="url(#sb)">
<path d="M126.99 329.2H133.47V331.41H126.99ZM156.97 329.2H159.17V331.41H156.97ZM124.84 331.35H135.61V333.55H124.84ZM141.98 331.35H152.75V333.55H141.98ZM154.83 331.35H161.32V333.55H154.83ZM114.14 333.49H118.48V335.7H114.14ZM120.56 333.49H163.46V335.7H120.56ZM114.14 335.64H150.61V337.84H114.14ZM152.69 335.64H163.46V337.84H152.69ZM169.82 335.64H174.17V337.84H169.82ZM114.14 337.78H161.32V339.99H114.14ZM167.68 337.78H176.31V339.99H167.68ZM178.39 337.78H180.59V339.99H178.39ZM111.99 339.93H161.32V342.14H111.99ZM167.68 339.93H176.31V342.14H167.68ZM109.85 342.08H152.75V344.28H109.85ZM154.83 342.08H159.17V344.28H154.83ZM165.54 342.08H167.74V344.28H165.54ZM171.96 342.08H182.73V344.28H171.96ZM111.99 344.22H133.47V346.43H111.99ZM135.55 344.22H157.03V346.43H135.55ZM169.82 344.22H182.73V346.43H169.82ZM107.71 346.37H157.03V348.57H107.71ZM169.82 346.37H182.73V348.57H169.82ZM189.1 346.37H191.3V348.57H189.1ZM101.29 348.51H129.19V350.72H101.29ZM131.27 348.51H144.18V350.72H131.27ZM146.26 348.51H154.89V350.72H146.26ZM167.68 348.51H187.02V350.72H167.68ZM189.1 348.51H193.44V350.72H189.1ZM101.29 350.66H133.47V352.87H101.29ZM135.55 350.66H144.18V352.87H135.55ZM146.26 350.66H154.89V352.87H146.26ZM167.68 350.66H191.3V352.87H167.68ZM101.29 352.81H142.04V355.01H101.29ZM144.12 352.81H152.75V355.01H144.12ZM167.68 352.81H191.3V355.01H167.68ZM99.14 354.95H152.75V357.16H99.14ZM167.68 354.95H195.58V357.16H167.68ZM92.72 357.1H137.76V359.3H92.72ZM146.26 357.1H150.61V359.3H146.26ZM161.26 357.1H163.46V359.3H161.26ZM165.54 357.1H178.45V359.3H165.54ZM180.53 357.1H191.3V359.3H180.53ZM193.38 357.1H199.87V359.3H193.38ZM90.58 359.24H135.61V361.45H90.58ZM148.4 359.24H150.61V361.45H148.4ZM161.26 359.24H169.88V361.45H161.26ZM171.96 359.24H176.31V361.45H171.96ZM180.53 359.24H189.16V361.45H180.53ZM193.38 359.24H199.87V361.45H193.38ZM88.43 361.39H118.48V363.6H88.43ZM120.56 361.39H137.76V363.6H120.56ZM146.26 361.39H148.46V363.6H146.26ZM159.11 361.39H176.31V363.6H159.11ZM180.53 361.39H189.16V363.6H180.53ZM191.24 361.39H197.73V363.6H191.24ZM88.43 363.54H118.48V365.74H88.43ZM120.56 363.54H148.46V365.74H120.56ZM159.11 363.54H165.6V365.74H159.11ZM167.68 363.54H204.15V365.74H167.68ZM86.29 365.68H122.76V367.89H86.29ZM126.99 365.68H146.32V367.89H126.99ZM159.11 365.68H163.46V367.89H159.11ZM165.54 365.68H182.73V367.89H165.54ZM184.81 365.68H193.44V367.89H184.81ZM195.52 365.68H204.15V367.89H195.52ZM86.29 367.83H120.62V370.03H86.29ZM122.7 367.83H146.32V370.03H122.7ZM152.69 367.83H154.89V370.03H152.69ZM159.11 367.83H208.43V370.03H159.11ZM84.15 369.97H118.48V372.18H84.15ZM122.7 369.97H150.61V372.18H122.7ZM152.69 369.97H154.89V372.18H152.69ZM156.97 369.97H206.29V372.18H156.97ZM84.15 372.12H90.64V374.33H84.15ZM94.86 372.12H118.48V374.33H94.86ZM122.7 372.12H139.9V374.33H122.7ZM144.12 372.12H187.02V374.33H144.12ZM189.1 372.12H206.29V374.33H189.1ZM84.15 374.27H90.64V376.47H84.15ZM94.86 374.27H101.35V376.47H94.86ZM103.43 374.27H116.34V376.47H103.43ZM120.56 374.27H131.33V376.47H120.56ZM135.55 374.27H169.88V376.47H135.55ZM174.11 374.27H208.43V376.47H174.11ZM82.01 376.41H97.06V378.62H82.01ZM99.14 376.41H116.34V378.62H99.14ZM118.42 376.41H131.33V378.62H118.42ZM135.55 376.41H165.6V378.62H135.55ZM167.68 376.41H197.73V378.62H167.68ZM199.81 376.41H204.15V378.62H199.81ZM206.23 376.41H208.43V378.62H206.23ZM82.01 378.56H94.92V380.76H82.01ZM99.14 378.56H114.2V380.76H99.14ZM116.28 378.56H131.33V380.76H116.28ZM133.41 378.56H165.6V380.76H133.41ZM169.82 378.56H195.58V380.76H169.82ZM199.81 378.56H206.29V380.76H199.81ZM82.01 380.7H94.92V382.91H82.01ZM97 380.7H105.63V382.91H97ZM107.71 380.7H114.2V382.91H107.71ZM116.28 380.7H195.58V382.91H116.28ZM199.81 380.7H208.43V382.91H199.81ZM79.87 382.85H92.78V385.06H79.87ZM101.29 382.85H112.05V385.06H101.29ZM114.14 382.85H144.18V385.06H114.14ZM146.26 382.85H202.01V385.06H146.26ZM204.09 382.85H210.58V385.06H204.09ZM79.87 385H92.78V387.2H79.87ZM101.29 385H112.05V387.2H101.29ZM114.14 385H133.47V387.2H114.14ZM135.55 385H137.76V387.2H135.55ZM139.84 385H165.6V387.2H139.84ZM167.68 385H210.58V387.2H167.68ZM77.73 387.14H92.78V389.35H77.73ZM94.86 387.14H161.32V389.35H94.86ZM163.4 387.14H180.59V389.35H163.4ZM182.67 387.14H204.15V389.35H182.67ZM206.23 387.14H212.72V389.35H206.23ZM77.73 389.29H118.48V391.49H77.73ZM126.99 389.29H135.61V391.49H126.99ZM137.7 389.29H161.32V391.49H137.7ZM165.54 389.29H212.72V391.49H165.54ZM77.73 391.43H116.34V393.64H77.73ZM126.99 391.43H182.73V393.64H126.99ZM184.81 391.43H191.3V393.64H184.81ZM195.52 391.43H202.01V393.64H195.52ZM204.09 391.43H212.72V393.64H204.09ZM79.87 393.58H116.34V395.79H79.87ZM122.7 393.58H124.9V395.79H122.7ZM126.99 393.58H133.47V395.79H126.99ZM137.7 393.58H146.32V395.79H137.7ZM148.4 393.58H161.32V395.79H148.4ZM163.4 393.58H167.74V395.79H163.4ZM171.96 393.58H199.87V395.79H171.96ZM201.95 393.58H212.72V395.79H201.95ZM77.73 395.73H114.2V397.93H77.73ZM122.7 395.73H133.47V397.93H122.7ZM137.7 395.73H161.32V397.93H137.7ZM163.4 395.73H165.6V397.93H163.4ZM171.96 395.73H180.59V397.93H171.96ZM182.67 395.73H184.87V397.93H182.67ZM186.96 395.73H199.87V397.93H186.96ZM204.09 395.73H212.72V397.93H204.09ZM77.73 397.87H105.63V400.08H77.73ZM107.71 397.87H114.2V400.08H107.71ZM120.56 397.87H131.33V400.08H120.56ZM135.55 397.87H161.32V400.08H135.55ZM174.11 397.87H182.73V400.08H174.11ZM186.96 397.87H210.58V400.08H186.96ZM77.73 400.02H84.21V402.23H77.73ZM86.29 400.02H131.33V402.23H86.29ZM135.55 400.02H150.61V402.23H135.55ZM156.97 400.02H163.46V402.23H156.97ZM171.96 400.02H182.73V402.23H171.96ZM184.81 400.02H202.01V402.23H184.81ZM204.09 400.02H210.58V402.23H204.09ZM77.73 402.17H131.33V404.37H77.73ZM135.55 402.17H154.89V404.37H135.55ZM156.97 402.17H161.32V404.37H156.97ZM163.4 402.17H167.74V404.37H163.4ZM169.82 402.17H208.43V404.37H169.82ZM75.58 404.31H112.05V406.52H75.58ZM116.28 404.31H129.19V406.52H116.28ZM133.41 404.31H210.58V406.52H133.41ZM79.87 406.46H86.35V408.66H79.87ZM88.43 406.46H109.91V408.66H88.43ZM118.42 406.46H129.19V408.66H118.42ZM133.41 406.46H139.9V408.66H133.41ZM141.98 406.46H191.3V408.66H141.98ZM193.38 406.46H210.58V408.66H193.38ZM84.15 408.6H107.77V410.81H84.15ZM118.42 408.6H127.05V410.81H118.42ZM131.27 408.6H139.9V410.81H131.27ZM141.98 408.6H189.16V410.81H141.98ZM195.52 408.6H208.43V410.81H195.52ZM82.01 410.75H107.77V412.96H82.01ZM118.42 410.75H127.05V412.96H118.42ZM131.27 410.75H210.58V412.96H131.27ZM79.87 412.9H86.35V415.1H79.87ZM88.43 412.9H109.91V415.1H88.43ZM116.28 412.9H124.9V415.1H116.28ZM129.13 412.9H210.58V415.1H129.13ZM82.01 415.04H86.35V417.25H82.01ZM88.43 415.04H107.77V417.25H88.43ZM116.28 415.04H124.9V417.25H116.28ZM129.13 415.04H208.43V417.25H129.13ZM82.01 417.19H107.77V419.39H82.01ZM109.85 417.19H122.76V419.39H109.85ZM126.99 417.19H159.17V419.39H126.99ZM161.26 417.19H174.17V419.39H161.26ZM176.25 417.19H202.01V419.39H176.25ZM204.09 417.19H206.29V419.39H204.09ZM82.01 419.33H107.77V421.54H82.01ZM111.99 419.33H120.62V421.54H111.99ZM126.99 419.33H176.31V421.54H126.99ZM178.39 419.33H208.43V421.54H178.39ZM82.01 421.48H120.62V423.69H82.01ZM124.84 421.48H152.75V423.69H124.84ZM154.83 421.48H167.74V423.69H154.83ZM169.82 421.48H174.17V423.69H169.82ZM178.39 421.48H195.58V423.69H178.39ZM197.67 421.48H199.87V423.69H197.67ZM201.95 421.48H206.29V423.69H201.95ZM82.01 423.63H120.62V425.83H82.01ZM124.84 423.63H127.05V425.83H124.84ZM129.13 423.63H139.9V425.83H129.13ZM141.98 423.63H159.17V425.83H141.98ZM161.26 423.63H174.17V425.83H161.26ZM176.25 423.63H195.58V425.83H176.25ZM197.67 423.63H199.87V425.83H197.67ZM201.95 423.63H206.29V425.83H201.95ZM82.01 425.77H107.77V427.98H82.01ZM109.85 425.77H118.48V427.98H109.85ZM122.7 425.77H193.44V427.98H122.7ZM195.52 425.77H206.29V427.98H195.52ZM84.15 427.92H116.34V430.12H84.15ZM122.7 427.92H144.18V430.12H122.7ZM146.26 427.92H180.59V430.12H146.26ZM182.67 427.92H193.44V430.12H182.67ZM195.52 427.92H199.87V430.12H195.52ZM86.29 430.06H94.92V432.27H86.29ZM97 430.06H116.34V432.27H97ZM120.56 430.06H146.32V432.27H120.56ZM150.55 430.06H199.87V432.27H150.55ZM201.95 430.06H204.15V432.27H201.95ZM86.29 432.21H97.06V434.42H86.29ZM99.14 432.21H114.2V434.42H99.14ZM120.56 432.21H178.45V434.42H120.56ZM180.53 432.21H204.15V434.42H180.53ZM86.29 434.36H94.92V436.56H86.29ZM101.29 434.36H114.2V436.56H101.29ZM120.56 434.36H150.61V436.56H120.56ZM154.83 434.36H178.45V436.56H154.83ZM182.67 434.36H191.3V436.56H182.67ZM193.38 434.36H199.87V436.56H193.38ZM86.29 436.5H94.92V438.71H86.29ZM99.14 436.5H112.05V438.71H99.14ZM118.42 436.5H139.9V438.71H118.42ZM141.98 436.5H148.46V438.71H141.98ZM154.83 436.5H176.31V438.71H154.83ZM178.39 436.5H199.87V438.71H178.39ZM88.43 438.65H94.92V440.85H88.43ZM101.29 438.65H112.05V440.85H101.29ZM116.28 438.65H133.47V440.85H116.28ZM135.55 438.65H146.32V440.85H135.55ZM152.69 438.65H174.17V440.85H152.69ZM178.39 438.65H197.73V440.85H178.39ZM92.72 440.79H112.05V443H92.72ZM114.14 440.79H120.62V443H114.14ZM122.7 440.79H133.47V443H122.7ZM135.55 440.79H142.04V443H135.55ZM144.12 440.79H146.32V443H144.12ZM150.55 440.79H152.75V443H150.55ZM156.97 440.79H174.17V443H156.97ZM176.25 440.79H197.73V443H176.25ZM94.86 442.94H109.91V445.15H94.86ZM114.14 442.94H120.62V445.15H114.14ZM122.7 442.94H146.32V445.15H122.7ZM148.4 442.94H178.45V445.15H148.4ZM180.53 442.94H197.73V445.15H180.53ZM94.86 445.09H109.91V447.29H94.86ZM114.14 445.09H195.58V447.29H114.14ZM97 447.23H105.63V449.44H97ZM111.99 447.23H195.58V449.44H111.99ZM99.14 449.38H107.77V451.58H99.14ZM109.85 449.38H116.34V451.58H109.85ZM118.42 449.38H131.33V451.58H118.42ZM133.41 449.38H182.73V451.58H133.41ZM189.1 449.38H191.3V451.58H189.1ZM105.57 451.52H107.77V453.73H105.57ZM109.85 451.52H122.76V453.73H109.85ZM129.13 451.52H178.45V453.73H129.13ZM189.1 451.52H191.3V453.73H189.1ZM111.99 453.67H120.62V455.88H111.99ZM129.13 453.67H180.59V455.88H129.13ZM114.14 455.82H120.62V458.02H114.14ZM129.13 455.82H135.61V458.02H129.13ZM137.7 455.82H180.59V458.02H137.7ZM124.84 457.96H165.6V460.17H124.84ZM167.68 457.96H180.59V460.17H167.68ZM122.7 460.11H129.19V462.31H122.7ZM137.7 460.11H163.46V462.31H137.7ZM122.7 462.25H127.05V464.46H122.7ZM139.84 462.25H142.04V464.46H139.84ZM154.83 462.25H163.46V464.46H154.83Z" fill="#ffff00"/>
<path d="M118.42 333.49H120.62V335.7H118.42ZM167.68 342.08H172.02V344.28H167.68ZM165.54 344.22H169.88V346.43H165.54ZM163.4 346.37H169.88V348.57H163.4ZM144.12 348.51H146.32V350.72H144.12ZM163.4 348.51H167.74V350.72H163.4ZM186.96 348.51H189.16V350.72H186.96ZM144.12 350.66H146.32V352.87H144.12ZM161.26 350.66H167.74V352.87H161.26ZM141.98 352.81H144.18V355.01H141.98ZM161.26 352.81H163.46V355.01H161.26ZM165.54 352.81H167.74V355.01H165.54ZM159.11 354.95H167.74V357.16H159.11ZM137.7 357.1H139.9V359.3H137.7ZM141.98 357.1H146.32V359.3H141.98ZM159.11 357.1H161.32V359.3H159.11ZM163.4 357.1H165.6V359.3H163.4ZM178.39 357.1H180.59V359.3H178.39ZM191.24 357.1H193.44V359.3H191.24ZM137.7 359.24H148.46V361.45H137.7ZM156.97 359.24H161.32V361.45H156.97ZM176.25 359.24H180.59V361.45H176.25ZM189.1 359.24H193.44V361.45H189.1ZM137.7 361.39H146.32V363.6H137.7ZM156.97 361.39H159.17V363.6H156.97ZM178.39 361.39H180.59V363.6H178.39ZM189.1 361.39H191.3V363.6H189.1ZM154.83 363.54H159.17V365.74H154.83ZM165.54 363.54H167.74V365.74H165.54ZM154.83 365.68H159.17V367.89H154.83ZM193.38 365.68H195.58V367.89H193.38ZM120.56 367.83H122.76V370.03H120.56ZM154.83 367.83H157.03V370.03H154.83ZM118.42 369.97H122.76V372.18H118.42ZM90.58 372.12H94.92V374.33H90.58ZM118.42 372.12H122.76V374.33H118.42ZM139.84 372.12H142.04V374.33H139.84ZM90.58 374.27H94.92V376.47H90.58ZM116.28 374.27H120.62V376.47H116.28ZM131.27 374.27H135.61V376.47H131.27ZM171.96 374.27H174.17V376.47H171.96ZM97 376.41H99.2V378.62H97ZM116.28 376.41H118.48V378.62H116.28ZM131.27 376.41H135.61V378.62H131.27ZM165.54 376.41H167.74V378.62H165.54ZM197.67 376.41H199.87V378.62H197.67ZM94.86 378.56H99.2V380.76H94.86ZM114.14 378.56H116.34V380.76H114.14ZM131.27 378.56H133.47V380.76H131.27ZM167.68 378.56H169.88V380.76H167.68ZM195.52 378.56H199.87V380.76H195.52ZM94.86 380.7H97.06V382.91H94.86ZM114.14 380.7H116.34V382.91H114.14ZM195.52 380.7H199.87V382.91H195.52ZM92.72 382.85H97.06V385.06H92.72ZM99.14 382.85H101.35V385.06H99.14ZM111.99 382.85H114.2V385.06H111.99ZM92.72 385H101.35V387.2H92.72ZM111.99 385H114.2V387.2H111.99ZM137.7 385H139.9V387.2H137.7ZM92.72 387.14H94.92V389.35H92.72ZM161.26 387.14H163.46V389.35H161.26ZM118.42 389.29H127.05V391.49H118.42ZM135.55 389.29H137.76V391.49H135.55ZM161.26 389.29H165.6V391.49H161.26ZM118.42 391.43H127.05V393.64H118.42ZM182.67 391.43H184.87V393.64H182.67ZM201.95 391.43H204.15V393.64H201.95ZM116.28 393.58H122.76V395.79H116.28ZM124.84 393.58H127.05V395.79H124.84ZM133.41 393.58H135.61V395.79H133.41ZM161.26 393.58H163.46V395.79H161.26ZM167.68 393.58H169.88V395.79H167.68ZM199.81 393.58H202.01V395.79H199.81ZM114.14 395.73H120.62V397.93H114.14ZM133.41 395.73H137.76V397.93H133.41ZM161.26 395.73H163.46V397.93H161.26ZM165.54 395.73H172.02V397.93H165.54ZM180.53 395.73H182.73V397.93H180.53ZM184.81 395.73H187.02V397.93H184.81ZM199.81 395.73H202.01V397.93H199.81ZM114.14 397.87H120.62V400.08H114.14ZM131.27 397.87H135.61V400.08H131.27ZM161.26 397.87H174.17V400.08H161.26ZM182.67 397.87H184.87V400.08H182.67ZM163.4 400.02H172.02V402.23H163.4ZM182.67 400.02H184.87V402.23H182.67ZM133.41 402.17H135.61V404.37H133.41ZM167.68 402.17H169.88V404.37H167.68ZM111.99 404.31H116.34V406.52H111.99ZM109.85 406.46H118.48V408.66H109.85ZM129.13 406.46H133.47V408.66H129.13ZM139.84 406.46H142.04V408.66H139.84ZM191.24 406.46H193.44V408.66H191.24ZM107.71 408.6H118.48V410.81H107.71ZM139.84 408.6H142.04V410.81H139.84ZM189.1 408.6H195.58V410.81H189.1ZM107.71 410.75H118.48V412.96H107.71ZM126.99 410.75H131.33V412.96H126.99ZM86.29 412.9H88.49V415.1H86.29ZM109.85 412.9H116.34V415.1H109.85ZM79.87 415.04H82.07V417.25H79.87ZM86.29 415.04H88.49V417.25H86.29ZM107.71 415.04H116.34V417.25H107.71ZM126.99 415.04H129.19V417.25H126.99ZM79.87 417.19H82.07V419.39H79.87ZM107.71 417.19H109.91V419.39H107.71ZM122.7 417.19H124.9V419.39H122.7ZM79.87 419.33H82.07V421.54H79.87ZM107.71 419.33H112.05V421.54H107.71ZM120.56 419.33H127.05V421.54H120.56ZM176.25 419.33H178.45V421.54H176.25ZM152.69 421.48H154.89V423.69H152.69ZM174.11 421.48H178.45V423.69H174.11ZM195.52 421.48H197.73V423.69H195.52ZM199.81 421.48H202.01V423.69H199.81ZM120.56 423.63H124.9V425.83H120.56ZM159.11 423.63H161.32V425.83H159.11ZM174.11 423.63H176.31V425.83H174.11ZM195.52 423.63H197.73V425.83H195.52ZM199.81 423.63H202.01V425.83H199.81ZM120.56 425.77H122.76V427.98H120.56ZM116.28 427.92H122.76V430.12H116.28ZM116.28 430.06H120.62V432.27H116.28ZM97 432.21H99.2V434.42H97ZM114.14 432.21H120.62V434.42H114.14ZM178.39 432.21H180.59V434.42H178.39ZM94.86 434.36H101.35V436.56H94.86ZM116.28 434.36H118.48V436.56H116.28ZM150.55 434.36H154.89V436.56H150.55ZM178.39 434.36H180.59V436.56H178.39ZM94.86 436.5H99.2V438.71H94.86ZM111.99 436.5H114.2V438.71H111.99ZM116.28 436.5H118.48V438.71H116.28ZM148.4 436.5H154.89V438.71H148.4ZM176.25 436.5H178.45V438.71H176.25ZM94.86 438.65H97.06V440.85H94.86ZM111.99 438.65H114.2V440.85H111.99ZM146.26 438.65H152.75V440.85H146.26ZM174.11 438.65H178.45V440.85H174.11ZM146.26 440.79H150.61V443H146.26ZM174.11 440.79H176.31V443H174.11ZM146.26 442.94H148.46V445.15H146.26ZM111.99 445.09H114.2V447.29H111.99ZM105.57 447.23H107.77V449.44H105.57ZM122.7 451.52H129.19V453.73H122.7ZM120.56 453.67H129.19V455.88H120.56ZM120.56 455.82H129.19V458.02H120.56ZM120.56 457.96H124.9V460.17H120.56Z" fill="#f09a20"/>
<path d="M124.84 329.2H127.05V331.41H124.84ZM133.41 329.2H135.61V331.41H133.41ZM154.83 329.2H157.03V331.41H154.83ZM159.11 329.2H161.32V331.41H159.11ZM118.42 331.35H124.9V333.55H118.42ZM135.55 331.35H142.04V333.55H135.55ZM152.69 331.35H154.89V333.55H152.69ZM163.4 333.49H172.02V335.7H163.4ZM111.99 335.64H114.2V337.84H111.99ZM163.4 335.64H169.88V337.84H163.4ZM174.11 335.64H176.31V337.84H174.11ZM111.99 337.78H114.2V339.99H111.99ZM161.26 337.78H167.74V339.99H161.26ZM176.25 337.78H178.45V339.99H176.25ZM109.85 339.93H112.05V342.14H109.85ZM161.26 339.93H167.74V342.14H161.26ZM176.25 339.93H182.73V342.14H176.25ZM107.71 342.08H109.91V344.28H107.71ZM159.11 342.08H165.6V344.28H159.11ZM182.67 342.08H184.87V344.28H182.67ZM101.29 344.22H109.91V346.43H101.29ZM156.97 344.22H165.6V346.43H156.97ZM182.67 344.22H184.87V346.43H182.67ZM101.29 346.37H107.77V348.57H101.29ZM156.97 346.37H163.46V348.57H156.97ZM182.67 346.37H189.16V348.57H182.67ZM99.14 348.51H101.35V350.72H99.14ZM154.83 348.51H163.46V350.72H154.83ZM97 350.66H101.35V352.87H97ZM154.83 350.66H161.32V352.87H154.83ZM191.24 350.66H195.58V352.87H191.24ZM94.86 352.81H101.35V355.01H94.86ZM152.69 352.81H161.32V355.01H152.69ZM163.4 352.81H165.6V355.01H163.4ZM191.24 352.81H195.58V355.01H191.24ZM90.58 354.95H99.2V357.16H90.58ZM152.69 354.95H159.17V357.16H152.69ZM195.52 354.95H199.87V357.16H195.52ZM86.29 357.1H92.78V359.3H86.29ZM139.84 357.1H142.04V359.3H139.84ZM150.55 357.1H159.17V359.3H150.55ZM199.81 357.1H202.01V359.3H199.81ZM86.29 359.24H90.64V361.45H86.29ZM135.55 359.24H137.76V361.45H135.55ZM150.55 359.24H157.03V361.45H150.55ZM199.81 359.24H202.01V361.45H199.81ZM82.01 361.39H88.49V363.6H82.01ZM118.42 361.39H120.62V363.6H118.42ZM148.4 361.39H157.03V363.6H148.4ZM176.25 361.39H178.45V363.6H176.25ZM197.67 361.39H204.15V363.6H197.67ZM82.01 363.54H88.49V365.74H82.01ZM118.42 363.54H120.62V365.74H118.42ZM148.4 363.54H154.89V365.74H148.4ZM204.09 363.54H206.29V365.74H204.09ZM82.01 365.68H86.35V367.89H82.01ZM122.7 365.68H127.05V367.89H122.7ZM146.26 365.68H154.89V367.89H146.26ZM163.4 365.68H165.6V367.89H163.4ZM182.67 365.68H184.87V367.89H182.67ZM204.09 365.68H206.29V367.89H204.09ZM79.87 367.83H86.35V370.03H79.87ZM146.26 367.83H152.75V370.03H146.26ZM77.73 369.97H84.21V372.18H77.73ZM150.55 369.97H152.75V372.18H150.55ZM154.83 369.97H157.03V372.18H154.83ZM206.23 369.97H208.43V372.18H206.23ZM77.73 372.12H84.21V374.33H77.73ZM141.98 372.12H144.18V374.33H141.98ZM206.23 372.12H210.58V374.33H206.23ZM79.87 374.27H84.21V376.47H79.87ZM101.29 374.27H103.49V376.47H101.29ZM169.82 374.27H172.02V376.47H169.82ZM208.37 374.27H210.58V376.47H208.37ZM79.87 376.41H82.07V378.62H79.87ZM204.09 376.41H206.29V378.62H204.09ZM208.37 376.41H210.58V378.62H208.37ZM77.73 378.56H82.07V380.76H77.73ZM206.23 378.56H212.72V380.76H206.23ZM77.73 380.7H82.07V382.91H77.73ZM208.37 380.7H210.58V382.91H208.37ZM75.58 382.85H79.93V385.06H75.58ZM210.52 382.85H212.72V385.06H210.52ZM73.44 385H79.93V387.2H73.44ZM133.41 385H135.61V387.2H133.41ZM210.52 385H212.72V387.2H210.52ZM75.58 387.14H77.79V389.35H75.58ZM180.53 387.14H182.73V389.35H180.53ZM212.66 387.14H214.86V389.35H212.66ZM75.58 389.29H77.79V391.49H75.58ZM212.66 389.29H214.86V391.49H212.66ZM73.44 391.43H77.79V393.64H73.44ZM116.28 391.43H118.48V393.64H116.28ZM212.66 391.43H214.86V393.64H212.66ZM73.44 393.58H79.93V395.79H73.44ZM212.66 393.58H214.86V395.79H212.66ZM73.44 395.73H77.79V397.93H73.44ZM201.95 395.73H204.15V397.93H201.95ZM212.66 395.73H214.86V397.93H212.66ZM73.44 397.87H77.79V400.08H73.44ZM210.52 397.87H212.72V400.08H210.52ZM71.3 400.02H77.79V402.23H71.3ZM84.15 400.02H86.35V402.23H84.15ZM152.69 400.02H154.89V402.23H152.69ZM201.95 400.02H204.15V402.23H201.95ZM210.52 400.02H212.72V402.23H210.52ZM73.44 402.17H77.79V404.37H73.44ZM154.83 402.17H157.03V404.37H154.83ZM161.26 402.17H163.46V404.37H161.26ZM208.37 402.17H212.72V404.37H208.37ZM73.44 404.31H75.64V406.52H73.44ZM73.44 406.46H79.93V408.66H73.44ZM86.29 406.46H88.49V408.66H86.29ZM210.52 406.46H212.72V408.66H210.52ZM73.44 408.6H82.07V410.81H73.44ZM208.37 408.6H212.72V410.81H208.37ZM75.58 410.75H82.07V412.96H75.58ZM75.58 412.9H79.93V415.1H75.58ZM75.58 415.04H79.93V417.25H75.58ZM75.58 417.19H79.93V419.39H75.58ZM159.11 417.19H161.32V419.39H159.11ZM174.11 417.19H176.31V419.39H174.11ZM201.95 417.19H204.15V419.39H201.95ZM206.23 417.19H208.43V419.39H206.23ZM75.58 419.33H79.93V421.54H75.58ZM73.44 421.48H82.07V423.69H73.44ZM167.68 421.48H169.88V423.69H167.68ZM77.73 423.63H82.07V425.83H77.73ZM139.84 423.63H142.04V425.83H139.84ZM77.73 425.77H82.07V427.98H77.73ZM107.71 425.77H109.91V427.98H107.71ZM79.87 427.92H84.21V430.12H79.87ZM193.38 427.92H195.58V430.12H193.38ZM199.81 427.92H204.15V430.12H199.81ZM79.87 430.06H86.35V432.27H79.87ZM199.81 430.06H202.01V432.27H199.81ZM82.01 432.21H86.35V434.42H82.01ZM82.01 434.36H86.35V436.56H82.01ZM118.42 434.36H120.62V436.56H118.42ZM191.24 434.36H193.44V436.56H191.24ZM199.81 434.36H202.01V436.56H199.81ZM84.15 436.5H86.35V438.71H84.15ZM84.15 438.65H88.49V440.85H84.15ZM97 438.65H101.35V440.85H97ZM133.41 438.65H135.61V440.85H133.41ZM197.67 438.65H199.87V440.85H197.67ZM88.43 440.79H92.78V443H88.43ZM120.56 440.79H122.76V443H120.56ZM133.41 440.79H135.61V443H133.41ZM141.98 440.79H144.18V443H141.98ZM152.69 440.79H157.03V443H152.69ZM197.67 440.79H199.87V443H197.67ZM90.58 442.94H94.92V445.15H90.58ZM120.56 442.94H122.76V445.15H120.56ZM92.72 445.09H94.92V447.29H92.72ZM92.72 447.23H97.06V449.44H92.72ZM97 449.38H99.2V451.58H97ZM116.28 449.38H118.48V451.58H116.28ZM131.27 449.38H133.47V451.58H131.27ZM182.67 449.38H189.16V451.58H182.67ZM191.24 449.38H193.44V451.58H191.24ZM97 451.52H105.63V453.73H97ZM178.39 451.52H189.16V453.73H178.39ZM101.29 453.67H112.05V455.88H101.29ZM180.53 453.67H187.02V455.88H180.53ZM105.57 455.82H107.77V458.02H105.57ZM109.85 455.82H114.2V458.02H109.85ZM180.53 455.82H184.87V458.02H180.53ZM111.99 457.96H120.62V460.17H111.99ZM165.54 457.96H167.74V460.17H165.54ZM116.28 460.11H122.76V462.31H116.28ZM129.13 460.11H137.76V462.31H129.13ZM163.4 460.11H174.17V462.31H163.4ZM120.56 462.25H122.76V464.46H120.56ZM137.7 462.25H139.9V464.46H137.7ZM141.98 462.25H154.89V464.46H141.98ZM163.4 462.25H165.6V464.46H163.4Z" fill="#86c81e"/>
<path d="M135.55 329.2H154.89V331.41H135.55ZM161.26 331.35H167.74V333.55H161.26ZM150.55 335.64H152.75V337.84H150.55ZM109.85 337.78H112.05V339.99H109.85ZM105.57 339.93H109.91V342.14H105.57ZM103.43 342.08H107.77V344.28H103.43ZM152.69 342.08H154.89V344.28H152.69ZM99.14 344.22H101.35V346.43H99.14ZM109.85 344.22H112.05V346.43H109.85ZM133.41 344.22H135.61V346.43H133.41ZM184.81 344.22H187.02V346.43H184.81ZM97 346.37H101.35V348.57H97ZM94.86 348.51H99.2V350.72H94.86ZM129.13 348.51H131.33V350.72H129.13ZM92.72 350.66H97.06V352.87H92.72ZM133.41 350.66H135.61V352.87H133.41ZM88.43 352.81H94.92V355.01H88.43ZM195.52 352.81H197.73V355.01H195.52ZM86.29 354.95H90.64V357.16H86.29ZM84.15 357.1H86.35V359.3H84.15ZM82.01 359.24H86.35V361.45H82.01ZM169.82 359.24H172.02V361.45H169.82ZM79.87 361.39H82.07V363.6H79.87ZM79.87 363.54H82.07V365.74H79.87ZM77.73 365.68H82.07V367.89H77.73ZM75.58 367.83H79.93V370.03H75.58ZM156.97 367.83H159.17V370.03H156.97ZM75.58 369.97H77.79V372.18H75.58ZM75.58 372.12H77.79V374.33H75.58ZM186.96 372.12H189.16V374.33H186.96ZM73.44 374.27H79.93V376.47H73.44ZM73.44 376.41H79.93V378.62H73.44ZM73.44 378.56H77.79V380.76H73.44ZM165.54 378.56H167.74V380.76H165.54ZM73.44 380.7H77.79V382.91H73.44ZM105.57 380.7H107.77V382.91H105.57ZM210.52 380.7H212.72V382.91H210.52ZM71.3 382.85H75.64V385.06H71.3ZM97 382.85H99.2V385.06H97ZM144.12 382.85H146.32V385.06H144.12ZM201.95 382.85H204.15V385.06H201.95ZM71.3 385H73.5V387.2H71.3ZM165.54 385H167.74V387.2H165.54ZM71.3 387.14H75.64V389.35H71.3ZM204.09 387.14H206.29V389.35H204.09ZM71.3 389.29H75.64V391.49H71.3ZM71.3 391.43H73.5V393.64H71.3ZM191.24 391.43H195.58V393.64H191.24ZM71.3 393.58H73.5V395.79H71.3ZM135.55 393.58H137.76V395.79H135.55ZM146.26 393.58H148.46V395.79H146.26ZM169.82 393.58H172.02V395.79H169.82ZM71.3 395.73H73.5V397.93H71.3ZM120.56 395.73H122.76V397.93H120.56ZM71.3 397.87H73.5V400.08H71.3ZM105.57 397.87H107.77V400.08H105.57ZM184.81 397.87H187.02V400.08H184.81ZM212.66 397.87H214.86V400.08H212.66ZM131.27 400.02H135.61V402.23H131.27ZM150.55 400.02H152.75V402.23H150.55ZM154.83 400.02H157.03V402.23H154.83ZM212.66 400.02H214.86V402.23H212.66ZM71.3 402.17H73.5V404.37H71.3ZM131.27 402.17H133.47V404.37H131.27ZM212.66 402.17H214.86V404.37H212.66ZM71.3 404.31H73.5V406.52H71.3ZM129.13 404.31H133.47V406.52H129.13ZM210.52 404.31H212.72V406.52H210.52ZM71.3 406.46H73.5V408.66H71.3ZM71.3 408.6H73.5V410.81H71.3ZM82.01 408.6H84.21V410.81H82.01ZM126.99 408.6H131.33V410.81H126.99ZM71.3 410.75H75.64V412.96H71.3ZM73.44 412.9H75.64V415.1H73.44ZM124.84 412.9H129.19V415.1H124.84ZM73.44 415.04H75.64V417.25H73.44ZM124.84 415.04H127.05V417.25H124.84ZM73.44 417.19H75.64V419.39H73.44ZM124.84 417.19H127.05V419.39H124.84ZM73.44 419.33H75.64V421.54H73.44ZM120.56 421.48H124.9V423.69H120.56ZM75.58 423.63H77.79V425.83H75.58ZM126.99 423.63H129.19V425.83H126.99ZM75.58 425.77H77.79V427.98H75.58ZM118.42 425.77H120.62V427.98H118.42ZM193.38 425.77H195.58V427.98H193.38ZM77.73 427.92H79.93V430.12H77.73ZM144.12 427.92H146.32V430.12H144.12ZM180.53 427.92H182.73V430.12H180.53ZM77.73 430.06H79.93V432.27H77.73ZM94.86 430.06H97.06V432.27H94.86ZM146.26 430.06H150.61V432.27H146.26ZM79.87 432.21H82.07V434.42H79.87ZM79.87 434.36H82.07V436.56H79.87ZM114.14 434.36H116.34V436.56H114.14ZM180.53 434.36H182.73V436.56H180.53ZM82.01 436.5H84.21V438.71H82.01ZM114.14 436.5H116.34V438.71H114.14ZM139.84 436.5H142.04V438.71H139.84ZM199.81 436.5H202.01V438.71H199.81ZM82.01 438.65H84.21V440.85H82.01ZM114.14 438.65H116.34V440.85H114.14ZM199.81 438.65H202.01V440.85H199.81ZM84.15 440.79H88.49V443H84.15ZM111.99 440.79H114.2V443H111.99ZM86.29 442.94H90.64V445.15H86.29ZM109.85 442.94H114.2V445.15H109.85ZM178.39 442.94H180.59V445.15H178.39ZM88.43 445.09H92.78V447.29H88.43ZM109.85 445.09H112.05V447.29H109.85ZM90.58 447.23H92.78V449.44H90.58ZM107.71 447.23H112.05V449.44H107.71ZM92.72 449.38H97.06V451.58H92.72ZM107.71 449.38H109.91V451.58H107.71ZM94.86 451.52H97.06V453.73H94.86ZM107.71 451.52H109.91V453.73H107.71ZM97 453.67H101.35V455.88H97ZM101.29 455.82H105.63V458.02H101.29ZM107.71 455.82H109.91V458.02H107.71ZM135.55 455.82H137.76V458.02H135.55ZM103.43 457.96H112.05V460.17H103.43ZM109.85 460.11H116.34V462.31H109.85ZM114.14 462.25H120.62V464.46H114.14ZM126.99 462.25H137.76V464.46H126.99ZM165.54 462.25H167.74V464.46H165.54Z" fill="#3c9a14"/>
</g>
<path d="M124.84 329.2H161.26M118.42 331.35H167.68M114.14 333.49H171.96M111.99 335.64H176.25M109.85 337.78H180.53M105.57 339.93H182.67M103.43 342.08H184.81M99.14 344.22H186.96M97 346.37H191.24M94.86 348.51H193.38M92.72 350.66H195.52M88.43 352.81H197.67M86.29 354.95H199.81M84.15 357.1H201.95M82.01 359.24H201.95M79.87 361.39H204.09M79.87 363.54H206.23M77.73 365.68H206.23M75.58 367.83H208.37M75.58 369.97H208.37M75.58 372.12H210.52M73.44 374.27H210.52M73.44 376.41H210.52M73.44 378.56H212.66M73.44 380.7H212.66M71.3 382.85H212.66M71.3 385H212.66M71.3 387.14H214.8M71.3 389.29H214.8M71.3 391.43H214.8M71.3 393.58H214.8M71.3 395.73H214.8M71.3 397.87H214.8M71.3 400.02H214.8M71.3 402.17H214.8M71.3 404.31H214.8M71.3 406.46H212.66M71.3 408.6H212.66M71.3 410.75H212.66M71.3 412.9H210.52M73.44 415.04H210.52M73.44 417.19H208.37M73.44 419.33H208.37M73.44 421.48H208.37M73.44 423.63H206.23M75.58 425.77H206.23M75.58 427.92H206.23M77.73 430.06H204.09M77.73 432.21H204.09M79.87 434.36H204.09M79.87 436.5H201.95M82.01 438.65H201.95M82.01 440.79H201.95M84.15 442.94H199.81M86.29 445.09H197.67M88.43 447.23H195.52M90.58 449.38H195.52M92.72 451.52H193.38M94.86 453.67H191.24M97 455.82H186.96M101.29 457.96H184.81M103.43 460.11H180.53M109.85 462.25H174.11M114.14 464.4H167.68M71.3 382.85V412.9M73.44 374.27V423.63M75.58 367.83V427.92M77.73 365.68V432.21M79.87 361.39V436.5M82.01 359.24V440.79M84.15 357.1V442.94M86.29 354.95V445.09M88.43 352.81V447.23M90.58 352.81V449.38M92.72 350.66V451.52M94.86 348.51V453.67M97 346.37V455.82M99.14 344.22V455.82M101.29 344.22V457.96M103.43 342.08V460.11M105.57 339.93V460.11M107.71 339.93V460.11M109.85 337.78V462.25M111.99 335.64V462.25M114.14 333.49V464.4M116.28 333.49V464.4M118.42 331.35V464.4M120.56 331.35V464.4M122.7 331.35V464.4M124.84 329.2V464.4M126.99 329.2V464.4M129.13 329.2V464.4M131.27 329.2V464.4M133.41 329.2V464.4M135.55 329.2V464.4M137.7 329.2V464.4M139.84 329.2V464.4M141.98 329.2V464.4M144.12 329.2V464.4M146.26 329.2V464.4M148.4 329.2V464.4M150.55 329.2V464.4M152.69 329.2V464.4M154.83 329.2V464.4M156.97 329.2V464.4M159.11 329.2V464.4M161.26 329.2V464.4M163.4 331.35V464.4M165.54 331.35V464.4M167.68 331.35V464.4M169.82 333.49V462.25M171.96 333.49V462.25M174.11 335.64V462.25M176.25 335.64V460.11M178.39 337.78V460.11M180.53 337.78V460.11M182.67 339.93V457.96M184.81 342.08V457.96M186.96 344.22V455.82M189.1 346.37V453.67M191.24 346.37V453.67M193.38 348.51V451.52M195.52 350.66V449.38M197.67 352.81V445.09M199.81 354.95V442.94M201.95 357.1V440.79M204.09 361.39V434.36M206.23 363.54V427.92M208.37 367.83V421.48M210.52 372.12V415.04M212.66 378.56V410.75M214.8 387.14V404.31" fill="none" stroke="#000" stroke-opacity="0.42" stroke-width="0.85" shape-rendering="crispEdges"/>
<rect x="25" y="237" width="25" height="4" fill="#000"/>
<rect x="16" y="313" width="205" height="5.8" fill="#000"/>
<rect x="24.8" y="391" width="25.2" height="4" fill="#000"/>
<rect x="24.8" y="403.8" width="25.2" height="4" fill="#000"/>
<text x="212.6" y="147.4" font-family="'Liberation Sans',sans-serif" font-size="16" fill="#000" stroke="#000" stroke-width="0.5" textLength="77.9" lengthAdjust="spacing">Predicted</text>
<text x="211.9" y="294.4" font-family="'Liberation Sans',sans-serif" font-size="16.6" fill="#000" stroke="#000" stroke-width="0.5" textLength="50.6" lengthAdjust="spacing">Actual</text>
<text x="212.6" y="444.4" font-family="'Liberation Sans',sans-serif" font-size="16" fill="#000" stroke="#000" stroke-width="0.5" textLength="79.4" lengthAdjust="spacing">Error Map</text>
<path d="M361.4 65.7H480V88H594.3V334H361.4Z" fill="#c0c0c0"/>
<rect x="361.4" y="65.7" width="1.3" height="268.3" fill="#808080"/>
<rect x="361.4" y="65.7" width="118.6" height="1" fill="#404040"/>
<rect x="477.9" y="66.2" width="2.1" height="23" fill="#111"/>
<rect x="478" y="88" width="116.3" height="1.6" fill="#404040"/>
<rect x="592.4" y="88" width="1.9" height="246" fill="#303030"/>
<rect x="361.4" y="331.6" width="232.9" height="2.4" fill="#404040"/>
<rect x="367.8" y="120.8" width="219.6" height="206.4" fill="#fff" stroke="#000" stroke-width="2.4"/>
<rect x="365.6" y="118.8" width="224" height="210.6" fill="none" stroke="#dcdcdc" stroke-width="0.7"/>
<circle cx="376.6" cy="105.8" r="6" fill="#fff"/>
<path d="M372.2 110.3A6 6 0 0 1 381 101.3" fill="none" stroke="#202020" stroke-width="1.8"/>
<path d="M372.4 110.1A6 6 0 0 0 380.8 101.5" fill="none" stroke="#e4e4e4" stroke-width="1.3"/>
<circle cx="455.9" cy="105.8" r="6" fill="#fff"/>
<path d="M451.5 110.3A6 6 0 0 1 460.3 101.3" fill="none" stroke="#202020" stroke-width="1.8"/>
<path d="M451.7 110.1A6 6 0 0 0 460.1 101.5" fill="none" stroke="#e4e4e4" stroke-width="1.3"/>
<circle cx="455.9" cy="105.8" r="2.3" fill="#000"/>
<circle cx="529.3" cy="105.8" r="6" fill="#fff"/>
<path d="M524.9 110.3A6 6 0 0 1 533.7 101.3" fill="none" stroke="#202020" stroke-width="1.8"/>
<path d="M525.1 110.1A6 6 0 0 0 533.5 101.5" fill="none" stroke="#e4e4e4" stroke-width="1.3"/>
<rect x="467" y="97.3" width="38.2" height="17.2" fill="none" stroke="#222" stroke-width="1" stroke-dasharray="1 1"/>
<text x="392.7" y="81.8" font-family="'Liberation Sans',sans-serif" font-size="14" transform="translate(392.7 0) scale(0.83 1) translate(-392.7 0)" fill="#111">Histogram</text>
<text x="388.6" y="109.8" font-family="'Liberation Sans',sans-serif" font-size="11" fill="#111" stroke="#111" stroke-width="0.2" textLength="45" lengthAdjust="spacing">Std. Dev.</text>
<text x="469" y="109.8" font-family="'Liberation Sans',sans-serif" font-size="12.5" fill="#111" textLength="33.8" lengthAdjust="spacingAndGlyphs">Ranges</text>
<text x="541.6" y="109.8" font-family="'Liberation Sans',sans-serif" font-size="10.2" fill="#111" stroke="#111" stroke-width="0.2" textLength="23.2" lengthAdjust="spacingAndGlyphs">None</text>
<text x="392.6" y="148.5" font-family="'DejaVu Sans','Liberation Sans',sans-serif" font-size="13.2" font-weight="bold" fill="#000" stroke="#fff" stroke-width="0.35" textLength="92" lengthAdjust="spacing">Area (acres)</text>
<rect x="407" y="162" width="51.6" height="8.8" fill="#22c832"/>
<rect x="458.6" y="162" width="48.7" height="8.8" fill="#ffff00"/>
<rect x="507.3" y="162" width="51.6" height="8.8" fill="#ff0000"/>
<rect x="407" y="162" width="151.9" height="8.8" fill="none" stroke="#000" stroke-width="1.3"/>
<path d="M458.6 162V170.8M507.3 162V170.8" stroke="#000" stroke-width="0.8"/>
<text x="433.5" y="182.8" text-anchor="middle" font-family="'DejaVu Sans','Liberation Sans',sans-serif" font-size="10.7" font-weight="bold" fill="#000" stroke="#fff" stroke-width="0.3">Zone</text>
<text x="434" y="197.6" text-anchor="middle" font-family="'DejaVu Sans','Liberation Sans',sans-serif" font-size="10" font-weight="bold" fill="#000" stroke="#fff" stroke-width="0.35">1</text>
<text x="481.8" y="182.8" text-anchor="middle" font-family="'DejaVu Sans','Liberation Sans',sans-serif" font-size="10.7" font-weight="bold" fill="#000" stroke="#fff" stroke-width="0.3">Zone</text>
<text x="482.4" y="197.6" text-anchor="middle" font-family="'DejaVu Sans','Liberation Sans',sans-serif" font-size="10" font-weight="bold" fill="#000" stroke="#fff" stroke-width="0.35">2</text>
<text x="538.2" y="182.8" text-anchor="middle" font-family="'DejaVu Sans','Liberation Sans',sans-serif" font-size="10.7" font-weight="bold" fill="#000" stroke="#fff" stroke-width="0.3">Zone</text>
<text x="538.5" y="197.6" text-anchor="middle" font-family="'DejaVu Sans','Liberation Sans',sans-serif" font-size="10" font-weight="bold" fill="#000" stroke="#fff" stroke-width="0.35">3</text>
<rect x="457.8" y="249.15" width="4.87" height="7.45" fill="#000080" stroke="#000" stroke-width="0.9"/>
<rect x="462.67" y="238.72" width="4.87" height="17.88" fill="#000080" stroke="#000" stroke-width="0.9"/>
<rect x="467.54" y="228.29" width="4.87" height="28.31" fill="#000080" stroke="#000" stroke-width="0.9"/>
<rect x="472.41" y="211.9" width="4.87" height="44.7" fill="#000080" stroke="#000" stroke-width="0.9"/>
<rect x="477.28" y="213.99" width="4.87" height="42.61" fill="#000080" stroke="#000" stroke-width="0.9"/>
<rect x="482.15" y="224.27" width="4.87" height="32.33" fill="#000080" stroke="#000" stroke-width="0.9"/>
<rect x="487.02" y="236.63" width="4.87" height="19.97" fill="#000080" stroke="#000" stroke-width="0.9"/>
<rect x="491.89" y="243.19" width="4.87" height="13.41" fill="#000080" stroke="#000" stroke-width="0.9"/>
<rect x="496.76" y="248.26" width="4.87" height="8.34" fill="#000080" stroke="#000" stroke-width="0.9"/>
<rect x="501.63" y="250.34" width="4.87" height="6.26" fill="#000080" stroke="#000" stroke-width="0.9"/>
<rect x="507.8" y="251.39" width="8.3" height="5.22" fill="#000080" stroke="#000" stroke-width="0.9"/>
<rect x="516.1" y="252.43" width="4.7" height="4.17" fill="#000080" stroke="#000" stroke-width="0.9"/>
<rect x="520.8" y="253.47" width="9.2" height="3.13" fill="#000080" stroke="#000" stroke-width="0.9"/>
<rect x="530" y="254.07" width="3.2" height="2.53" fill="#000080" stroke="#000" stroke-width="0.9"/>
<rect x="533.2" y="252.88" width="5.4" height="3.73" fill="#000080" stroke="#000" stroke-width="0.9"/>
<rect x="538.6" y="254.51" width="5.4" height="2.09" fill="#000080" stroke="#000" stroke-width="0.9"/>
<rect x="544" y="255.56" width="4.6" height="1.04" fill="#000080" stroke="#000" stroke-width="0.9"/>
<rect x="548.6" y="254.07" width="5.4" height="2.53" fill="#000080" stroke="#000" stroke-width="0.9"/>
<rect x="554" y="254.81" width="3.5" height="1.79" fill="#000080" stroke="#000" stroke-width="0.9"/>
<rect x="414.7" y="255.26" width="9.2" height="1.34" fill="#000080" stroke="#000" stroke-width="0.9"/>
<rect x="437.8" y="255.71" width="9.2" height="0.89" fill="#000080" stroke="#000" stroke-width="0.9"/>
<rect x="447" y="254.37" width="6.2" height="2.24" fill="#000080" stroke="#000" stroke-width="0.9"/>
<rect x="453.2" y="253.02" width="4.6" height="3.58" fill="#000080" stroke="#000" stroke-width="0.9"/>
<path d="M407.7 197V256.6H557.5M404.4 256.6H411M404.8 249.15H410.6M404.4 241.7H411M404.8 234.25H410.6M404.4 226.8H411M404.8 219.35H410.6M404.4 211.9H411M404.8 204.45H410.6M404.4 197H411M424.7 254.3V258.9M443.2 254.3V258.9M461.7 254.3V258.9M480.4 254.3V258.9M499.3 254.3V258.9M518.3 254.3V258.9M537.2 254.3V258.9M556.2 254.3V258.9" fill="none" stroke="#000" stroke-width="1.3"/>
<path d="M457.8 198.5V257M507 198.5V257" stroke="#33ee33" stroke-width="1.5"/>
<text x="401.2" y="204.1" text-anchor="end" font-family="'Liberation Serif',serif" font-size="16.4" font-weight="bold" fill="#111" stroke="#111" stroke-width="0.25" transform="translate(401.2 0) scale(0.9 1) translate(-401.2 0)">40</text>
<text x="401.2" y="220.1" text-anchor="end" font-family="'Liberation Serif',serif" font-size="16.4" font-weight="bold" fill="#111" stroke="#111" stroke-width="0.25" transform="translate(401.2 0) scale(0.9 1) translate(-401.2 0)">30</text>
<text x="401.2" y="234.9" text-anchor="end" font-family="'Liberation Serif',serif" font-size="16.4" font-weight="bold" fill="#111" stroke="#111" stroke-width="0.25" transform="translate(401.2 0) scale(0.9 1) translate(-401.2 0)">20</text>
<text x="401.2" y="248.9" text-anchor="end" font-family="'Liberation Serif',serif" font-size="16.4" font-weight="bold" fill="#111" stroke="#111" stroke-width="0.25" transform="translate(401.2 0) scale(0.9 1) translate(-401.2 0)">10</text>
<text x="401.2" y="263.5" text-anchor="end" font-family="'Liberation Serif',serif" font-size="16.4" font-weight="bold" fill="#111" stroke="#111" stroke-width="0.25" transform="translate(401.2 0) scale(0.9 1) translate(-401.2 0)">0</text>
<text x="442.3" y="283.2" text-anchor="middle" font-family="'Liberation Serif',serif" font-size="16" font-weight="bold" fill="#111" transform="translate(442.3 0) scale(0.88 1) translate(-442.3 0)">-50</text>
<text x="480.4" y="283.2" text-anchor="middle" font-family="'Liberation Serif',serif" font-size="16" font-weight="bold" fill="#111" transform="translate(480.4 0) scale(0.88 1) translate(-480.4 0)">0</text>
<text x="518.0" y="283.2" text-anchor="middle" font-family="'Liberation Serif',serif" font-size="16" font-weight="bold" fill="#111" transform="translate(518.0 0) scale(0.88 1) translate(-518.0 0)">50</text>
<text x="553.5" y="283.2" text-anchor="middle" font-family="'Liberation Serif',serif" font-size="16" font-weight="bold" fill="#111" transform="translate(553.5 0) scale(0.88 1) translate(-553.5 0)">100</text>
<text x="386.8" y="304.7" font-family="'DejaVu Sans','Liberation Sans',sans-serif" font-size="13" font-weight="bold" fill="#000" stroke="#fff" stroke-width="0.3" textLength="181" lengthAdjust="spacing">Error_Zones Distribution</text>
<path d="M769.68 91.5L860.12 91.5L860.12 96.83L876.08 96.83L876.08 102.17L886.72 102.17L886.72 107.5L897.36 107.5L897.36 112.84L902.68 112.84L902.68 118.17L908 118.17L908 123.51L913.32 123.51L913.32 128.84L918.64 128.84L918.64 134.18L929.28 134.18L929.28 139.51L934.6 139.51L934.6 144.85L939.92 144.85L939.92 150.19L945.24 150.19L945.24 155.52L950.56 155.52L950.56 160.86L955.88 160.86L955.88 166.19L955.88 171.53L961.2 171.53L961.2 176.86L966.52 176.86L966.52 182.19L966.52 187.53L971.84 187.53L971.84 192.87L971.84 198.2L977.16 198.2L977.16 203.53L977.16 208.87L977.16 214.2L982.48 214.2L982.48 219.54L982.48 224.88L982.48 230.21L982.48 235.54L987.8 235.54L987.8 240.88L987.8 246.22L987.8 251.55L987.8 256.88L987.8 262.22L987.8 267.56L987.8 272.89L987.8 278.23L982.48 278.23L982.48 283.56L982.48 288.89L982.48 294.23L977.16 294.23L977.16 299.56L977.16 304.9L971.84 304.9L971.84 310.24L971.84 315.57L971.84 320.9L966.52 320.9L966.52 326.24L966.52 331.57L966.52 336.91L961.2 336.91L961.2 342.25L961.2 347.58L961.2 352.92L955.88 352.92L955.88 358.25L955.88 363.58L955.88 368.92L950.56 368.92L950.56 374.25L945.24 374.25L945.24 379.59L939.92 379.59L939.92 384.93L939.92 390.26L934.6 390.26L934.6 395.59L929.28 395.59L929.28 400.93L918.64 400.93L918.64 406.26L913.32 406.26L913.32 411.6L902.68 411.6L902.68 416.94L892.04 416.94L892.04 422.27L876.08 422.27L876.08 427.61L743.08 427.61L743.08 422.27L732.44 422.27L732.44 416.94L721.8 416.94L721.8 411.6L716.48 411.6L716.48 406.26L705.84 406.26L705.84 400.93L700.52 400.93L700.52 395.59L695.2 395.59L695.2 390.26L689.88 390.26L689.88 384.93L684.56 384.93L684.56 379.59L679.24 379.59L679.24 374.25L673.92 374.25L673.92 368.92L668.6 368.92L668.6 363.58L668.6 358.25L663.28 358.25L663.28 352.92L663.28 347.58L657.96 347.58L657.96 342.25L657.96 336.91L652.64 336.91L652.64 331.57L652.64 326.24L647.32 326.24L647.32 320.9L647.32 315.57L647.32 310.24L647.32 304.9L647.32 299.56L642 299.56L642 294.23L642 288.89L642 283.56L642 278.23L642 272.89L642 267.56L642 262.22L642 256.88L642 251.55L642 246.22L642 240.88L642 235.54L642 230.21L642 224.88L647.32 224.88L647.32 219.54L647.32 214.2L647.32 208.87L647.32 203.53L652.64 203.53L652.64 198.2L652.64 192.87L652.64 187.53L657.96 187.53L657.96 182.19L663.28 182.19L663.28 176.86L663.28 171.53L668.6 171.53L668.6 166.19L673.92 166.19L673.92 160.86L679.24 160.86L679.24 155.52L684.56 155.52L684.56 150.19L695.2 150.19L695.2 144.85L700.52 144.85L700.52 139.51L705.84 139.51L705.84 134.18L711.16 134.18L711.16 128.84L721.8 128.84L721.8 123.51L727.12 123.51L727.12 118.17L732.44 118.17L732.44 112.84L737.76 112.84L737.76 107.5L743.08 107.5L743.08 102.17L753.72 102.17L753.72 96.83L769.68 96.83L769.68 91.5Z" fill="#ffff00"/>
<path d="M769.68 91.5H785.64V96.83H769.68ZM790.96 91.5H833.52V96.83H790.96ZM838.84 91.5H844.16V96.83H838.84ZM849.48 91.5H854.8V96.83H849.48ZM753.72 96.83H759.04V102.17H753.72ZM769.68 96.83H796.28V102.17H769.68ZM806.92 96.83H817.56V102.17H806.92ZM865.44 96.83H870.76V102.17H865.44ZM743.08 102.17H764.36V107.5H743.08ZM769.68 102.17H775V107.5H769.68ZM790.96 102.17H796.28V107.5H790.96ZM844.16 102.17H854.8V107.5H844.16ZM860.12 102.17H865.44V107.5H860.12ZM881.4 102.17H886.72V107.5H881.4ZM737.76 107.5H748.4V112.84H737.76ZM753.72 107.5H759.04V112.84H753.72ZM764.36 107.5H769.68V112.84H764.36ZM870.76 107.5H881.4V112.84H870.76ZM886.72 107.5H897.36V112.84H886.72ZM732.44 112.84H753.72V118.17H732.44ZM764.36 112.84H769.68V118.17H764.36ZM865.44 112.84H881.4V118.17H865.44ZM886.72 112.84H892.04V118.17H886.72ZM727.12 118.17H737.76V123.51H727.12ZM743.08 118.17H748.4V123.51H743.08ZM759.04 118.17H764.36V123.51H759.04ZM860.12 118.17H870.76V123.51H860.12ZM892.04 118.17H897.36V123.51H892.04ZM721.8 123.51H737.76V128.84H721.8ZM785.64 123.51H790.96V128.84H785.64ZM860.12 123.51H870.76V128.84H860.12ZM897.36 123.51H902.68V128.84H897.36ZM908 123.51H913.32V128.84H908ZM711.16 128.84H721.8V134.18H711.16ZM727.12 128.84H732.44V134.18H727.12ZM753.72 128.84H759.04V134.18H753.72ZM822.88 128.84H828.2V134.18H822.88ZM854.8 128.84H865.44V134.18H854.8ZM876.08 128.84H881.4V134.18H876.08ZM902.68 128.84H908V134.18H902.68ZM913.32 128.84H918.64V134.18H913.32ZM721.8 134.18H727.12V139.51H721.8ZM854.8 134.18H860.12V139.51H854.8ZM870.76 134.18H881.4V139.51H870.76ZM908 134.18H913.32V139.51H908ZM918.64 134.18H929.28V139.51H918.64ZM700.52 139.51H705.84V144.85H700.52ZM849.48 139.51H860.12V144.85H849.48ZM913.32 139.51H934.6V144.85H913.32ZM695.2 144.85H711.16V150.19H695.2ZM844.16 144.85H854.8V150.19H844.16ZM865.44 144.85H870.76V150.19H865.44ZM923.96 144.85H939.92V150.19H923.96ZM689.88 150.19H695.2V155.52H689.88ZM700.52 150.19H705.84V155.52H700.52ZM775 150.19H780.32V155.52H775ZM838.84 150.19H854.8V155.52H838.84ZM860.12 150.19H870.76V155.52H860.12ZM881.4 150.19H886.72V155.52H881.4ZM929.28 150.19H934.6V155.52H929.28ZM939.92 150.19H945.24V155.52H939.92ZM679.24 155.52H684.56V160.86H679.24ZM695.2 155.52H700.52V160.86H695.2ZM775 155.52H780.32V160.86H775ZM838.84 155.52H849.48V160.86H838.84ZM860.12 155.52H870.76V160.86H860.12ZM934.6 155.52H939.92V160.86H934.6ZM673.92 160.86H689.88V166.19H673.92ZM833.52 160.86H844.16V166.19H833.52ZM854.8 160.86H865.44V166.19H854.8ZM950.56 160.86H955.88V166.19H950.56ZM668.6 166.19H673.92V171.53H668.6ZM679.24 166.19H684.56V171.53H679.24ZM833.52 166.19H844.16V171.53H833.52ZM854.8 166.19H860.12V171.53H854.8ZM945.24 166.19H950.56V171.53H945.24ZM684.56 171.53H695.2V176.86H684.56ZM828.2 171.53H838.84V176.86H828.2ZM950.56 171.53H955.88V176.86H950.56ZM679.24 176.86H684.56V182.19H679.24ZM828.2 176.86H833.52V182.19H828.2ZM950.56 176.86H955.88V182.19H950.56ZM822.88 182.19H833.52V187.53H822.88ZM950.56 182.19H955.88V187.53H950.56ZM652.64 187.53H657.96V192.87H652.64ZM663.28 187.53H679.24V192.87H663.28ZM711.16 187.53H716.48V192.87H711.16ZM822.88 187.53H828.2V192.87H822.88ZM652.64 192.87H663.28V198.2H652.64ZM668.6 192.87H673.92V198.2H668.6ZM705.84 192.87H711.16V198.2H705.84ZM732.44 192.87H737.76V198.2H732.44ZM769.68 198.2H775V203.53H769.68ZM961.2 198.2H977.16V203.53H961.2ZM652.64 203.53H668.6V208.87H652.64ZM812.24 203.53H817.56V208.87H812.24ZM966.52 203.53H977.16V208.87H966.52ZM652.64 208.87H663.28V214.2H652.64ZM753.72 208.87H759.04V214.2H753.72ZM950.56 208.87H955.88V214.2H950.56ZM961.2 208.87H971.84V214.2H961.2ZM652.64 214.2H663.28V219.54H652.64ZM806.92 214.2H812.24V219.54H806.92ZM961.2 214.2H966.52V219.54H961.2ZM971.84 214.2H982.48V219.54H971.84ZM647.32 219.54H657.96V224.88H647.32ZM689.88 219.54H695.2V224.88H689.88ZM775 219.54H780.32V224.88H775ZM801.6 219.54H806.92V224.88H801.6ZM642 224.88H663.28V230.21H642ZM796.28 224.88H806.92V230.21H796.28ZM854.8 224.88H860.12V230.21H854.8ZM971.84 224.88H977.16V230.21H971.84ZM642 230.21H652.64V235.54H642ZM796.28 230.21H801.6V235.54H796.28ZM854.8 230.21H860.12V235.54H854.8ZM929.28 230.21H934.6V235.54H929.28ZM971.84 230.21H982.48V235.54H971.84ZM642 235.54H652.64V240.88H642ZM844.16 235.54H849.48V240.88H844.16ZM876.08 235.54H881.4V240.88H876.08ZM971.84 235.54H987.8V240.88H971.84ZM642 240.88H652.64V246.22H642ZM785.64 240.88H790.96V246.22H785.64ZM971.84 240.88H987.8V246.22H971.84ZM642 246.22H652.64V251.55H642ZM955.88 246.22H961.2V251.55H955.88ZM971.84 246.22H977.16V251.55H971.84ZM982.48 246.22H987.8V251.55H982.48ZM642 251.55H652.64V256.88H642ZM780.32 251.55H785.64V256.88H780.32ZM955.88 251.55H961.2V256.88H955.88ZM977.16 251.55H987.8V256.88H977.16ZM642 256.88H652.64V262.22H642ZM955.88 256.88H961.2V262.22H955.88ZM971.84 256.88H987.8V262.22H971.84ZM642 262.22H652.64V267.56H642ZM812.24 262.22H817.56V267.56H812.24ZM966.52 262.22H987.8V267.56H966.52ZM647.32 267.56H657.96V272.89H647.32ZM812.24 267.56H817.56V272.89H812.24ZM977.16 267.56H987.8V272.89H977.16ZM647.32 272.89H652.64V278.23H647.32ZM657.96 272.89H663.28V278.23H657.96ZM689.88 272.89H695.2V278.23H689.88ZM801.6 272.89H812.24V278.23H801.6ZM971.84 272.89H977.16V278.23H971.84ZM982.48 272.89H987.8V278.23H982.48ZM642 278.23H663.28V283.56H642ZM801.6 278.23H806.92V283.56H801.6ZM971.84 278.23H977.16V283.56H971.84ZM642 283.56H663.28V288.89H642ZM711.16 283.56H716.48V288.89H711.16ZM801.6 283.56H806.92V288.89H801.6ZM642 288.89H663.28V294.23H642ZM796.28 288.89H801.6V294.23H796.28ZM966.52 288.89H971.84V294.23H966.52ZM642 294.23H663.28V299.56H642ZM748.4 294.23H753.72V299.56H748.4ZM647.32 299.56H668.6V304.9H647.32ZM679.24 299.56H684.56V304.9H679.24ZM748.4 299.56H753.72V304.9H748.4ZM790.96 299.56H796.28V304.9H790.96ZM647.32 304.9H679.24V310.24H647.32ZM647.32 310.24H673.92V315.57H647.32ZM881.4 310.24H886.72V315.57H881.4ZM652.64 315.57H673.92V320.9H652.64ZM780.32 315.57H785.64V320.9H780.32ZM652.64 320.9H668.6V326.24H652.64ZM673.92 320.9H679.24V326.24H673.92ZM652.64 326.24H679.24V331.57H652.64ZM775 326.24H780.32V331.57H775ZM652.64 331.57H673.92V336.91H652.64ZM679.24 331.57H684.56V336.91H679.24ZM769.68 331.57H775V336.91H769.68ZM892.04 331.57H897.36V336.91H892.04ZM657.96 336.91H695.2V342.25H657.96ZM950.56 336.91H955.88V342.25H950.56ZM663.28 342.25H679.24V347.58H663.28ZM689.88 342.25H695.2V347.58H689.88ZM721.8 342.25H727.12V347.58H721.8ZM764.36 342.25H769.68V347.58H764.36ZM663.28 347.58H684.56V352.92H663.28ZM663.28 352.92H695.2V358.25H663.28ZM716.48 352.92H727.12V358.25H716.48ZM945.24 352.92H950.56V358.25H945.24ZM679.24 358.25H700.52V363.58H679.24ZM716.48 358.25H721.8V363.58H716.48ZM753.72 358.25H759.04V363.58H753.72ZM945.24 358.25H950.56V363.58H945.24ZM679.24 363.58H689.88V368.92H679.24ZM711.16 363.58H721.8V368.92H711.16ZM860.12 363.58H865.44V368.92H860.12ZM939.92 363.58H945.24V368.92H939.92ZM673.92 368.92H684.56V374.25H673.92ZM689.88 368.92H716.48V374.25H689.88ZM721.8 368.92H727.12V374.25H721.8ZM748.4 368.92H753.72V374.25H748.4ZM934.6 368.92H945.24V374.25H934.6ZM684.56 374.25H711.16V379.59H684.56ZM716.48 374.25H721.8V379.59H716.48ZM743.08 374.25H748.4V379.59H743.08ZM876.08 374.25H881.4V379.59H876.08ZM934.6 374.25H939.92V379.59H934.6ZM684.56 379.59H711.16V384.93H684.56ZM716.48 379.59H721.8V384.93H716.48ZM929.28 379.59H934.6V384.93H929.28ZM689.88 384.93H700.52V390.26H689.88ZM705.84 384.93H716.48V390.26H705.84ZM737.76 384.93H743.08V390.26H737.76ZM923.96 384.93H929.28V390.26H923.96ZM695.2 390.26H700.52V395.59H695.2ZM705.84 390.26H716.48V395.59H705.84ZM913.32 390.26H918.64V395.59H913.32ZM705.84 395.59H721.8V400.93H705.84ZM902.68 395.59H918.64V400.93H902.68ZM727.12 400.93H732.44V406.26H727.12ZM860.12 400.93H865.44V406.26H860.12ZM886.72 406.26H897.36V411.6H886.72ZM769.68 411.6H775V416.94H769.68ZM790.96 411.6H796.28V416.94H790.96ZM876.08 411.6H881.4V416.94H876.08ZM892.04 411.6H902.68V416.94H892.04ZM748.4 416.94H759.04V422.27H748.4ZM769.68 416.94H775V422.27H769.68ZM780.32 416.94H806.92V422.27H780.32ZM822.88 416.94H838.84V422.27H822.88ZM844.16 416.94H870.76V422.27H844.16ZM876.08 416.94H892.04V422.27H876.08ZM764.36 422.27H790.96V427.61H764.36ZM801.6 422.27H806.92V427.61H801.6ZM812.24 422.27H817.56V427.61H812.24ZM828.2 422.27H838.84V427.61H828.2ZM844.16 422.27H876.08V427.61H844.16Z" fill="#ff0000"/>
<path d="M844.16 91.5H849.48V96.83H844.16ZM854.8 91.5H860.12V96.83H854.8ZM854.8 96.83H865.44V102.17H854.8ZM881.4 112.84H886.72V118.17H881.4ZM881.4 118.17H886.72V123.51H881.4ZM897.36 118.17H902.68V123.51H897.36ZM743.08 123.51H748.4V128.84H743.08ZM902.68 123.51H908V128.84H902.68ZM902.68 134.18H908V139.51H902.68ZM716.48 139.51H721.8V144.85H716.48ZM876.08 139.51H881.4V144.85H876.08ZM918.64 144.85H923.96V150.19H918.64ZM727.12 150.19H732.44V155.52H727.12ZM753.72 150.19H759.04V155.52H753.72ZM769.68 155.52H775V160.86H769.68ZM939.92 155.52H945.24V160.86H939.92ZM945.24 160.86H950.56V166.19H945.24ZM737.76 166.19H743.08V171.53H737.76ZM929.28 166.19H934.6V171.53H929.28ZM939.92 166.19H945.24V171.53H939.92ZM663.28 171.53H673.92V176.86H663.28ZM945.24 171.53H950.56V176.86H945.24ZM663.28 176.86H668.6V182.19H663.28ZM790.96 176.86H796.28V182.19H790.96ZM923.96 176.86H929.28V182.19H923.96ZM961.2 176.86H966.52V182.19H961.2ZM657.96 182.19H668.6V187.53H657.96ZM945.24 187.53H950.56V192.87H945.24ZM961.2 187.53H966.52V192.87H961.2ZM721.8 192.87H727.12V198.2H721.8ZM748.4 192.87H753.72V198.2H748.4ZM790.96 192.87H796.28V198.2H790.96ZM812.24 192.87H817.56V198.2H812.24ZM966.52 192.87H971.84V198.2H966.52ZM716.48 198.2H721.8V203.53H716.48ZM679.24 203.53H684.56V208.87H679.24ZM732.44 203.53H737.76V208.87H732.44ZM684.56 208.87H689.88V214.2H684.56ZM876.08 208.87H881.4V214.2H876.08ZM700.52 219.54H705.84V224.88H700.52ZM743.08 224.88H748.4V230.21H743.08ZM695.2 230.21H700.52V235.54H695.2ZM695.2 235.54H700.52V240.88H695.2ZM775 235.54H785.64V240.88H775ZM689.88 240.88H695.2V246.22H689.88ZM881.4 240.88H892.04V246.22H881.4ZM934.6 240.88H939.92V246.22H934.6ZM876.08 246.22H881.4V251.55H876.08ZM849.48 251.55H854.8V256.88H849.48ZM876.08 251.55H881.4V256.88H876.08ZM806.92 256.88H812.24V262.22H806.92ZM854.8 256.88H860.12V262.22H854.8ZM870.76 262.22H876.08V267.56H870.76ZM780.32 267.56H785.64V272.89H780.32ZM806.92 267.56H812.24V272.89H806.92ZM870.76 267.56H881.4V272.89H870.76ZM892.04 267.56H897.36V272.89H892.04ZM759.04 272.89H764.36V278.23H759.04ZM865.44 272.89H870.76V278.23H865.44ZM886.72 272.89H892.04V278.23H886.72ZM737.76 278.23H748.4V283.56H737.76ZM796.28 278.23H801.6V283.56H796.28ZM934.6 278.23H939.92V283.56H934.6ZM743.08 283.56H748.4V288.89H743.08ZM796.28 283.56H801.6V288.89H796.28ZM727.12 288.89H732.44V294.23H727.12ZM737.76 288.89H743.08V294.23H737.76ZM748.4 288.89H753.72V294.23H748.4ZM790.96 288.89H796.28V294.23H790.96ZM971.84 288.89H982.48V294.23H971.84ZM727.12 294.23H737.76V299.56H727.12ZM790.96 294.23H796.28V299.56H790.96ZM966.52 294.23H977.16V299.56H966.52ZM732.44 299.56H737.76V304.9H732.44ZM785.64 299.56H790.96V304.9H785.64ZM801.6 299.56H806.92V304.9H801.6ZM886.72 299.56H892.04V304.9H886.72ZM955.88 299.56H961.2V304.9H955.88ZM966.52 299.56H977.16V304.9H966.52ZM727.12 304.9H737.76V310.24H727.12ZM950.56 304.9H955.88V310.24H950.56ZM966.52 304.9H971.84V310.24H966.52ZM780.32 310.24H785.64V315.57H780.32ZM796.28 310.24H801.6V315.57H796.28ZM945.24 310.24H955.88V315.57H945.24ZM966.52 310.24H971.84V315.57H966.52ZM955.88 315.57H971.84V320.9H955.88ZM753.72 320.9H759.04V326.24H753.72ZM775 320.9H780.32V326.24H775ZM961.2 320.9H966.52V326.24H961.2ZM769.68 326.24H775V331.57H769.68ZM923.96 326.24H929.28V331.57H923.96ZM950.56 326.24H955.88V331.57H950.56ZM961.2 326.24H966.52V331.57H961.2ZM870.76 331.57H876.08V336.91H870.76ZM955.88 331.57H966.52V336.91H955.88ZM759.04 336.91H769.68V342.25H759.04ZM955.88 336.91H961.2V342.25H955.88ZM886.72 342.25H892.04V347.58H886.72ZM929.28 342.25H934.6V347.58H929.28ZM955.88 342.25H961.2V347.58H955.88ZM950.56 347.58H961.2V352.92H950.56ZM748.4 352.92H759.04V358.25H748.4ZM886.72 358.25H892.04V363.58H886.72ZM950.56 358.25H955.88V363.58H950.56ZM668.6 363.58H673.92V368.92H668.6ZM748.4 363.58H753.72V368.92H748.4ZM822.88 363.58H828.2V368.92H822.88ZM881.4 363.58H886.72V368.92H881.4ZM913.32 363.58H918.64V368.92H913.32ZM950.56 363.58H955.88V368.92H950.56ZM737.76 368.92H748.4V374.25H737.76ZM769.68 368.92H775V374.25H769.68ZM876.08 368.92H881.4V374.25H876.08ZM737.76 374.25H743.08V379.59H737.76ZM790.96 374.25H796.28V379.59H790.96ZM939.92 374.25H945.24V379.59H939.92ZM737.76 379.59H743.08V384.93H737.76ZM748.4 379.59H753.72V384.93H748.4ZM764.36 379.59H769.68V384.93H764.36ZM902.68 379.59H908V384.93H902.68ZM934.6 379.59H939.92V384.93H934.6ZM727.12 384.93H732.44V390.26H727.12ZM759.04 384.93H764.36V390.26H759.04ZM769.68 384.93H775V390.26H769.68ZM886.72 384.93H892.04V390.26H886.72ZM897.36 384.93H902.68V390.26H897.36ZM759.04 390.26H764.36V395.59H759.04ZM923.96 390.26H929.28V395.59H923.96ZM700.52 395.59H705.84V400.93H700.52ZM727.12 395.59H732.44V400.93H727.12ZM923.96 395.59H929.28V400.93H923.96ZM705.84 400.93H711.16V406.26H705.84ZM716.48 400.93H727.12V406.26H716.48ZM886.72 400.93H902.68V406.26H886.72ZM908 400.93H918.64V406.26H908ZM716.48 406.26H721.8V411.6H716.48ZM727.12 406.26H732.44V411.6H727.12ZM753.72 406.26H764.36V411.6H753.72ZM790.96 406.26H796.28V411.6H790.96ZM849.48 406.26H854.8V411.6H849.48ZM876.08 406.26H881.4V411.6H876.08ZM721.8 411.6H732.44V416.94H721.8ZM737.76 411.6H748.4V416.94H737.76ZM759.04 411.6H764.36V416.94H759.04ZM806.92 411.6H812.24V416.94H806.92ZM828.2 411.6H838.84V416.94H828.2ZM865.44 411.6H876.08V416.94H865.44ZM732.44 416.94H748.4V422.27H732.44ZM870.76 416.94H876.08V422.27H870.76Z" fill="#00cc00"/>
<path d="M769.68 91.5H860.12M753.72 96.83H876.08M743.08 102.17H886.72M737.76 107.5H897.36M732.44 112.84H902.68M727.12 118.17H908M721.8 123.51H913.32M711.16 128.84H918.64M705.84 134.18H929.28M700.52 139.51H934.6M695.2 144.85H939.92M684.56 150.19H945.24M679.24 155.52H950.56M673.92 160.86H955.88M668.6 166.19H955.88M663.28 171.53H961.2M663.28 176.86H966.52M657.96 182.19H966.52M652.64 187.53H971.84M652.64 192.87H971.84M652.64 198.2H977.16M647.32 203.53H977.16M647.32 208.87H977.16M647.32 214.2H982.48M647.32 219.54H982.48M642 224.88H982.48M642 230.21H982.48M642 235.54H987.8M642 240.88H987.8M642 246.22H987.8M642 251.55H987.8M642 256.88H987.8M642 262.22H987.8M642 267.56H987.8M642 272.89H987.8M642 278.23H987.8M642 283.56H982.48M642 288.89H982.48M642 294.23H982.48M642 299.56H977.16M647.32 304.9H977.16M647.32 310.24H971.84M647.32 315.57H971.84M647.32 320.9H971.84M647.32 326.24H966.52M652.64 331.57H966.52M652.64 336.91H966.52M657.96 342.25H961.2M657.96 347.58H961.2M663.28 352.92H961.2M663.28 358.25H955.88M668.6 363.58H955.88M668.6 368.92H955.88M673.92 374.25H950.56M679.24 379.59H945.24M684.56 384.93H939.92M689.88 390.26H939.92M695.2 395.59H934.6M700.52 400.93H929.28M705.84 406.26H918.64M716.48 411.6H913.32M721.8 416.94H902.68M732.44 422.27H892.04M743.08 427.61H876.08M642 224.88V299.56M647.32 203.53V326.24M652.64 187.53V336.91M657.96 182.19V347.58M663.28 171.53V358.25M668.6 166.19V368.92M673.92 160.86V374.25M679.24 155.52V379.59M684.56 150.19V384.93M689.88 150.19V390.26M695.2 144.85V395.59M700.52 139.51V400.93M705.84 134.18V406.26M711.16 128.84V406.26M716.48 128.84V411.6M721.8 123.51V416.94M727.12 118.17V416.94M732.44 112.84V422.27M737.76 107.5V422.27M743.08 102.17V427.61M748.4 102.17V427.61M753.72 96.83V427.61M759.04 96.83V427.61M764.36 96.83V427.61M769.68 91.5V427.61M775 91.5V427.61M780.32 91.5V427.61M785.64 91.5V427.61M790.96 91.5V427.61M796.28 91.5V427.61M801.6 91.5V427.61M806.92 91.5V427.61M812.24 91.5V427.61M817.56 91.5V427.61M822.88 91.5V427.61M828.2 91.5V427.61M833.52 91.5V427.61M838.84 91.5V427.61M844.16 91.5V427.61M849.48 91.5V427.61M854.8 91.5V427.61M860.12 91.5V427.61M865.44 96.83V427.61M870.76 96.83V427.61M876.08 96.83V427.61M881.4 102.17V422.27M886.72 102.17V422.27M892.04 107.5V422.27M897.36 107.5V416.94M902.68 112.84V416.94M908 118.17V411.6M913.32 123.51V411.6M918.64 128.84V406.26M923.96 134.18V400.93M929.28 134.18V400.93M934.6 139.51V395.59M939.92 144.85V390.26M945.24 150.19V379.59M950.56 155.52V374.25M955.88 160.86V368.92M961.2 171.53V352.92M966.52 176.86V336.91M971.84 187.53V320.9M977.16 198.2V304.9M982.48 214.2V294.23M987.8 235.54V278.23" fill="none" stroke="#000" stroke-width="0.9" stroke-linecap="square"/>
<rect x="510.1" y="380.8" width="189.9" height="55" fill="#fff" stroke="#000" stroke-width="1.9"/>
<rect x="518" y="388" width="54.4" height="11.8" fill="#ff0000" stroke="#222" stroke-width="0.9"/>
<rect x="518" y="402.5" width="54.4" height="11.8" fill="#ffff00" stroke="#222" stroke-width="0.9"/>
<rect x="518" y="417.2" width="54.4" height="11.8" fill="#00cc00" stroke="#222" stroke-width="0.9"/>
<text x="590" y="399.4" font-family="'Liberation Sans',sans-serif" font-size="12" font-weight="bold" fill="#111" textLength="96.2" lengthAdjust="spacingAndGlyphs">3 Over estimates</text>
<text x="590" y="414.1" font-family="'Liberation Sans',sans-serif" font-size="12" font-weight="bold" fill="#111" textLength="95.5" lengthAdjust="spacingAndGlyphs">2 Within +/- 1 SD</text>
<text x="590" y="428.8" font-family="'Liberation Sans',sans-serif" font-size="12" font-weight="bold" fill="#111" textLength="103.6" lengthAdjust="spacingAndGlyphs">1 Under estimates</text>
<rect x="748.5" y="68.7" width="136" height="2.9" fill="#9a9a9a"/>
<rect x="881.5" y="41.5" width="3" height="30" fill="#9a9a9a"/>
<rect x="746.5" y="40" width="135" height="28.7" fill="#fff" stroke="#e0e0e0" stroke-width="0.6"/>
<text x="749.5" y="61.9" font-family="'Liberation Sans',sans-serif" font-size="22.4" font-weight="bold" font-style="italic" fill="#000" textLength="130" lengthAdjust="spacing">E<tspan stroke="#fff" stroke-width="0.45">rror_zones</tspan></text>
<rect x="801.7" y="63.2" width="13.2" height="2.4" fill="#000"/>
</svg>
</body></html>
